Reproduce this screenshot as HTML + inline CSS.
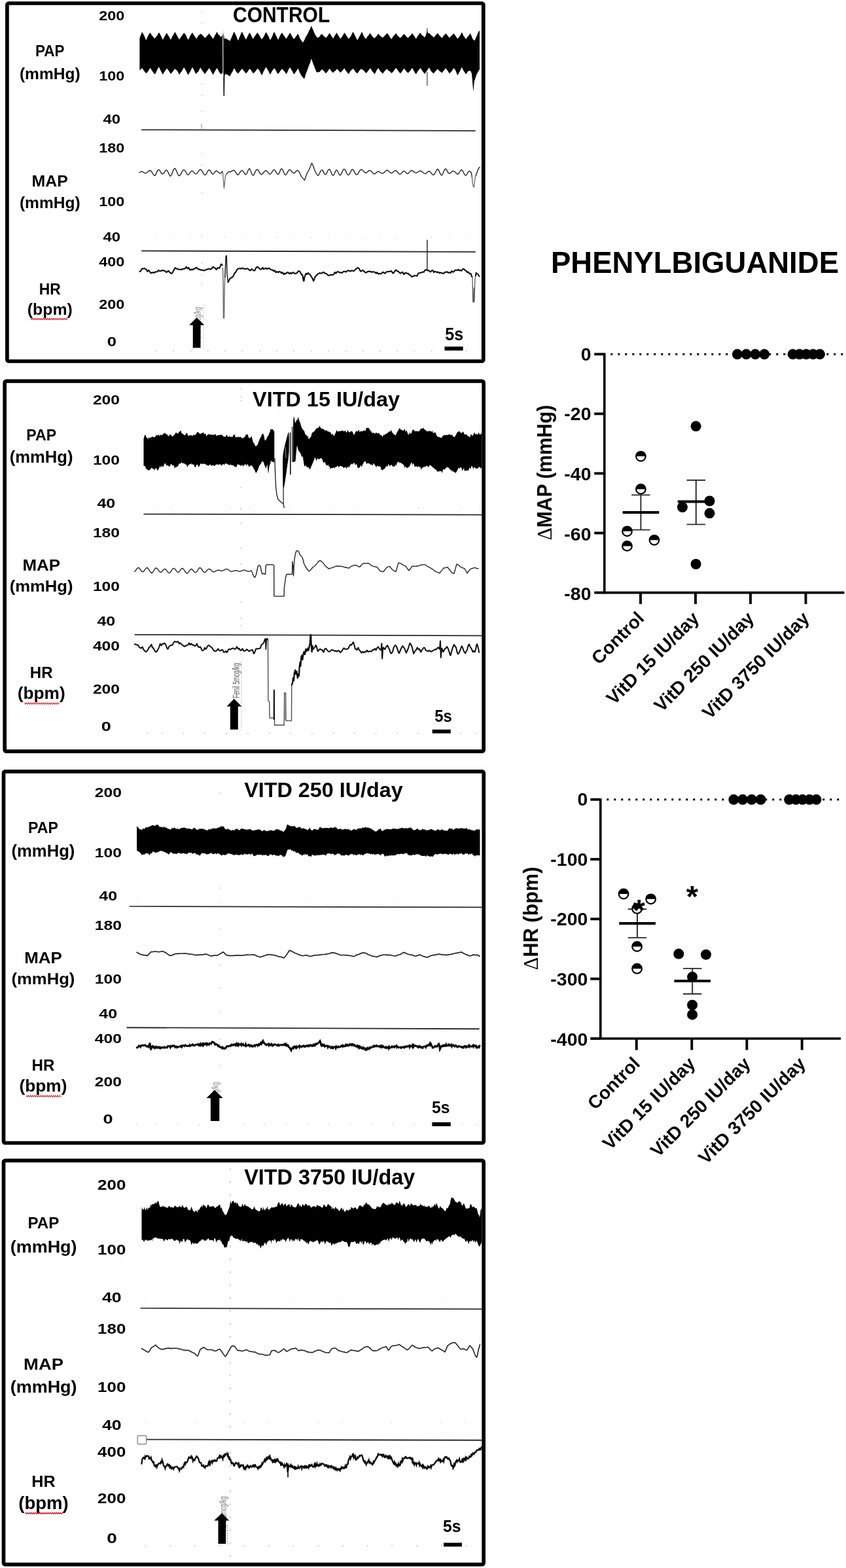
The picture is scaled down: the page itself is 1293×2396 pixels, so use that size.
<!DOCTYPE html>
<html lang="en"><head><meta charset="utf-8"><title>Phenylbiguanide figure</title>
<style>html,body{margin:0;padding:0;background:#fff}svg{display:block}text{font-family:"Liberation Sans",Arial,sans-serif;font-weight:bold}</style></head><body>
<svg width="1293" height="2396" viewBox="0 0 1293 2396">
<rect width="1293" height="2396" fill="#fff"/>
<rect x="10.9" y="5" width="727.9" height="547" rx="2.5" fill="none" stroke="#000" stroke-width="5.7"/>
<text x="151.3" y="30.9" font-size="20.1" textLength="39.1" lengthAdjust="spacingAndGlyphs" fill="#000">200</text>
<text x="151.3" y="122.6" font-size="20.1" textLength="39.1" lengthAdjust="spacingAndGlyphs" fill="#000">100</text>
<text x="157.5" y="189.4" font-size="20.1" textLength="26.7" lengthAdjust="spacingAndGlyphs" fill="#000">40</text>
<text x="151.3" y="233.3" font-size="20.1" textLength="39.1" lengthAdjust="spacingAndGlyphs" fill="#000">180</text>
<text x="151.3" y="315.2" font-size="20.1" textLength="39.1" lengthAdjust="spacingAndGlyphs" fill="#000">100</text>
<text x="157.5" y="368.6" font-size="20.1" textLength="26.7" lengthAdjust="spacingAndGlyphs" fill="#000">40</text>
<text x="151.3" y="407.1" font-size="20.1" textLength="39.1" lengthAdjust="spacingAndGlyphs" fill="#000">400</text>
<text x="151.3" y="472.1" font-size="20.1" textLength="39.1" lengthAdjust="spacingAndGlyphs" fill="#000">200</text>
<text x="163.7" y="529.3" font-size="20.1" textLength="14.3" lengthAdjust="spacingAndGlyphs" fill="#000">0</text>
<text x="53.9" y="86.2" font-size="23.5" textLength="44.5" lengthAdjust="spacingAndGlyphs" fill="#000">PAP</text>
<text x="29.9" y="120.6" font-size="24.1" textLength="92.8" lengthAdjust="spacingAndGlyphs" fill="#000">(mmHg)</text>
<text x="48.4" y="285.1" font-size="23.5" textLength="55.4" lengthAdjust="spacingAndGlyphs" fill="#000">MAP</text>
<text x="29.9" y="317.6" font-size="24.1" textLength="92.8" lengthAdjust="spacingAndGlyphs" fill="#000">(mmHg)</text>
<text x="59.7" y="449.7" font-size="23.2" textLength="33" lengthAdjust="spacingAndGlyphs" fill="#000">HR</text>
<text x="41.8" y="481.1" font-size="24.1" textLength="69" lengthAdjust="spacingAndGlyphs" fill="#000">(bpm)</text>
<text x="356" y="34.3" font-size="32.9" textLength="148.2" lengthAdjust="spacingAndGlyphs" fill="#000">CONTROL</text>
<text x="680.3" y="520.3" font-size="27" textLength="28" lengthAdjust="spacingAndGlyphs" fill="#000">5s</text>
<path d="M47,486.4 48.6,488.6 50.2,486.4 51.8,488.6 53.4,486.4 55,488.6 56.6,486.4 58.2,488.6 59.8,486.4 61.4,488.6 63,486.4 64.6,488.6 66.2,486.4 67.8,488.6 69.4,486.4 71,488.6 72.6,486.4 74.2,488.6 75.8,486.4 77.4,488.6 79,486.4 80.6,488.6 82.2,486.4 83.8,488.6 85.4,486.4 87,488.6 88.6,486.4 90.2,488.6 91.8,486.4 93.4,488.6 95,486.4 96.6,488.6 98.2,486.4 99.8,488.6 101.4,486.4 103,488.6" fill="none" stroke="#e32227" stroke-width="1.15"/>
<rect x="679.5" y="529.6" width="28.2" height="6" fill="#000"/>
<circle cx="308.3" cy="18" r="0.9" fill="#c8c8c8"/>
<circle cx="308.3" cy="35" r="0.9" fill="#c8c8c8"/>
<circle cx="308.3" cy="58" r="0.9" fill="#c8c8c8"/>
<circle cx="308.3" cy="128" r="0.9" fill="#c8c8c8"/>
<circle cx="308.3" cy="146" r="0.9" fill="#c8c8c8"/>
<circle cx="308.3" cy="170" r="0.9" fill="#c8c8c8"/>
<circle cx="308.3" cy="190" r="0.9" fill="#c8c8c8"/>
<circle cx="308.3" cy="235" r="0.9" fill="#c8c8c8"/>
<circle cx="308.3" cy="252" r="0.9" fill="#c8c8c8"/>
<circle cx="308.3" cy="295" r="0.9" fill="#c8c8c8"/>
<circle cx="308.3" cy="361" r="0.9" fill="#c8c8c8"/>
<circle cx="308.3" cy="402" r="0.9" fill="#c8c8c8"/>
<circle cx="308.3" cy="420" r="0.9" fill="#c8c8c8"/>
<circle cx="308.3" cy="433" r="0.9" fill="#c8c8c8"/>
<circle cx="239" cy="536.5" r="0.9" fill="#c4c4c4"/>
<circle cx="265.3" cy="536.5" r="0.9" fill="#c4c4c4"/>
<circle cx="291.6" cy="536.5" r="0.9" fill="#c4c4c4"/>
<circle cx="317.9" cy="536.5" r="0.9" fill="#c4c4c4"/>
<circle cx="344.2" cy="536.5" r="0.9" fill="#c4c4c4"/>
<circle cx="370.5" cy="536.5" r="0.9" fill="#c4c4c4"/>
<circle cx="396.8" cy="536.5" r="0.9" fill="#c4c4c4"/>
<circle cx="423.1" cy="536.5" r="0.9" fill="#c4c4c4"/>
<circle cx="449.4" cy="536.5" r="0.9" fill="#c4c4c4"/>
<circle cx="475.7" cy="536.5" r="0.9" fill="#c4c4c4"/>
<circle cx="502" cy="536.5" r="0.9" fill="#c4c4c4"/>
<circle cx="528.3" cy="536.5" r="0.9" fill="#c4c4c4"/>
<circle cx="554.6" cy="536.5" r="0.9" fill="#c4c4c4"/>
<circle cx="580.9" cy="536.5" r="0.9" fill="#c4c4c4"/>
<circle cx="607.2" cy="536.5" r="0.9" fill="#c4c4c4"/>
<circle cx="633.5" cy="536.5" r="0.9" fill="#c4c4c4"/>
<circle cx="659.8" cy="536.5" r="0.9" fill="#c4c4c4"/>
<circle cx="686.1" cy="536.5" r="0.9" fill="#c4c4c4"/>
<circle cx="712.4" cy="536.5" r="0.9" fill="#c4c4c4"/>
<circle cx="239" cy="362.5" r="0.8" fill="#d4d4d4"/>
<circle cx="265.3" cy="362.5" r="0.8" fill="#d4d4d4"/>
<circle cx="291.6" cy="362.5" r="0.8" fill="#d4d4d4"/>
<circle cx="317.9" cy="362.5" r="0.8" fill="#d4d4d4"/>
<circle cx="344.2" cy="362.5" r="0.8" fill="#d4d4d4"/>
<circle cx="370.5" cy="362.5" r="0.8" fill="#d4d4d4"/>
<circle cx="396.8" cy="362.5" r="0.8" fill="#d4d4d4"/>
<circle cx="423.1" cy="362.5" r="0.8" fill="#d4d4d4"/>
<circle cx="449.4" cy="362.5" r="0.8" fill="#d4d4d4"/>
<circle cx="475.7" cy="362.5" r="0.8" fill="#d4d4d4"/>
<circle cx="502" cy="362.5" r="0.8" fill="#d4d4d4"/>
<circle cx="528.3" cy="362.5" r="0.8" fill="#d4d4d4"/>
<circle cx="554.6" cy="362.5" r="0.8" fill="#d4d4d4"/>
<circle cx="580.9" cy="362.5" r="0.8" fill="#d4d4d4"/>
<circle cx="607.2" cy="362.5" r="0.8" fill="#d4d4d4"/>
<circle cx="633.5" cy="362.5" r="0.8" fill="#d4d4d4"/>
<circle cx="659.8" cy="362.5" r="0.8" fill="#d4d4d4"/>
<circle cx="686.1" cy="362.5" r="0.8" fill="#d4d4d4"/>
<circle cx="712.4" cy="362.5" r="0.8" fill="#d4d4d4"/>
<path d="M213.4,58.6 214,56.9 214.6,55.3 215.2,53.7 215.8,52 216.4,50.5 217,49.1 217.6,49.8 218.2,50.6 218.8,51.6 219.4,52.8 220,53.9 220.6,55.1 221.2,56.4 221.8,57.9 222.4,59.4 223,60.9 223.6,61.1 224.2,59.6 224.8,58.1 225.4,56.6 226,55.2 226.6,54.1 227.2,53.1 227.8,52.2 228.4,51.2 229,50.7 229.6,50.1 230.2,50.6 230.8,52 231.4,52.9 232,53.7 232.6,54.5 233.2,55.2 233.8,56 234.4,56.7 235,57.3 235.6,58 236.2,58.8 236.8,58.6 237.4,57.9 238,57.2 238.6,56.4 239.2,55.6 239.8,54.7 240.4,53.9 241,52.9 241.6,51.8 242.2,50.6 242.8,49.6 243.4,50.3 244,51.3 244.6,52.2 245.2,53.2 245.8,54.2 246.4,55.5 247,56.9 247.6,58.2 248.2,59.6 248.8,60.7 249.4,59.9 250,58.7 250.6,57.6 251.2,56.4 251.8,55.3 252.4,54.2 253,53 253.6,52 254.2,51.1 254.8,50.3 255.4,51.3 256,52.4 256.6,53.3 257.2,54.2 257.8,55.1 258.4,56 259,57.2 259.6,58.4 260.2,59.6 260.8,60.9 261.4,60 262,58.7 262.6,57.4 263.2,56 263.8,55 264.4,54 265,53.1 265.6,52.1 266.2,51.1 266.8,49.9 267.4,48.7 268,49.7 268.6,50.8 269.2,51.9 269.8,52.9 270.4,54 271,55 271.6,56.2 272.2,57.3 272.8,58.4 273.4,59.5 274,60.3 274.6,59.8 275.2,58.6 275.8,57.4 276.4,56.6 277,55.9 277.6,55.1 278.2,54.4 278.8,53.6 279.4,52.7 280,51.8 280.6,50.8 281.2,50.2 281.8,50.8 282.4,51.4 283,52.1 283.6,52.9 284.2,54.1 284.8,55.3 285.4,56.6 286,57.8 286.6,58.9 287.2,60 287.8,60.7 288.4,59.5 289,58.3 289.6,57 290.2,55.7 290.8,54.3 291.4,53.4 292,52.5 292.6,51.8 293.2,51 293.8,50 294.4,50.3 295,51.3 295.6,52.3 296.2,53.2 296.8,54.2 297.4,55.1 298,55.9 298.6,56.8 299.2,57.9 299.8,58.9 300.4,58.9 301,58.1 301.6,57 302.2,56 302.8,55.1 303.4,54.1 304,53.7 304.6,53.2 305.2,52.8 305.8,52.4 306.4,51.5 307,51.9 307.6,52.3 308.2,52.7 308.8,53.2 309.4,53.8 310,54.4 310.6,55 311.2,55.6 311.8,56.3 312.4,57 313,57.7 313.6,57.7 314.2,57.1 314.8,56.5 315.4,55.9 316,55.3 316.6,54.6 317.2,53.9 317.8,53.2 318.4,52.5 319,51.8 319.6,51.2 320.2,51.9 320.8,52.9 321.4,53.6 322,54.4 322.6,55.2 323.2,56 323.8,56.8 324.4,57.6 325,58.5 325.6,59.4 326.2,58.4 326.8,57.4 327.4,56.2 328,55.1 328.6,54 329.2,53 329.8,52 330.4,50.8 331,49.6 331.6,48.7 332.2,49.9 332.8,51 333.4,52.2 334,52.8 334.6,53.4 335.2,53.9 335.8,54.4 336.4,55.1 337,55.9 337.6,56.6 338.2,56.6 338.8,55.3 339.4,54 340,52.7 340.6,51.4 341.2,50.3 341.8,51.9 342.4,55.9 343,60 343.6,59.2 344.2,58.6 344.8,58.4 345.4,59.1 346,59.6 346.6,59.8 347.2,60 347.8,60.3 348.4,60.6 349,61 349.6,61.4 350.2,61.9 350.8,62.4 351.4,62.3 352,61.2 352.6,60.1 353.2,58.9 353.8,57.6 354.4,56.2 355,54.7 355.6,53.2 356.2,51.7 356.8,50.2 357.4,48.7 358,48.9 358.6,50 359.2,51.1 359.8,52.2 360.4,53.4 361,54.7 361.6,56.3 362.2,57.9 362.8,59.5 363.4,61.2 364,61.7 364.6,60.3 365.2,58.8 365.8,57.4 366.4,55.9 367,54.4 367.6,53 368.2,51.5 368.8,50.3 369.4,49.3 370,48.3 370.6,49.9 371.2,51.3 371.8,52.4 372.4,53.6 373,54.7 373.6,55.9 374.2,57.2 374.8,58.5 375.4,59.8 376,60.2 376.6,59.1 377.2,57.9 377.8,56.8 378.4,55.6 379,54.3 379.6,53.1 380.2,52 380.8,50.9 381.4,49.6 382,50.6 382.6,51.6 383.2,52.4 383.8,53.6 384.4,55 385,56.4 385.6,57.6 386.2,58.5 386.8,59.1 387.4,58.6 388,57.4 388.6,56.3 389.2,55.5 389.8,54.7 390.4,53.9 391,53.1 391.6,52.3 392.2,51.4 392.8,50.6 393.4,49.7 394,50.5 394.6,51.4 395.2,52.2 395.8,53.1 396.4,54.1 397,55.2 397.6,56.3 398.2,57.4 398.8,58.3 399.4,59.2 400,60.1 400.6,59.5 401.2,58.6 401.8,57.8 402.4,56.9 403,56.1 403.6,55.1 404.2,53.8 404.8,52.5 405.4,51.2 406,49.9 406.6,48.9 407.2,49.9 407.8,51 408.4,52.1 409,53.1 409.6,54.2 410.2,55.2 410.8,56.3 411.4,57.7 412,59.2 412.6,60.6 413.2,61 413.8,60 414.4,58.8 415,57.7 415.6,56.5 416.2,55.2 416.8,53.7 417.4,52.2 418,50.7 418.6,49.3 419.2,48.7 419.8,49.9 420.4,51.2 421,52.5 421.6,53.7 422.2,54.9 422.8,56.1 423.4,57.3 424,58.6 424.6,59.9 425.2,60.7 425.8,59.6 426.4,58.2 427,56.7 427.6,55.3 428.2,54 428.8,52.9 429.4,52 430,51.1 430.6,50.4 431.2,50.1 431.8,51.2 432.4,52.3 433,53.3 433.6,54.1 434.2,54.8 434.8,55.6 435.4,56.3 436,57.2 436.6,58.4 437.2,59.1 437.8,58.5 438.4,57.9 439,57 439.6,56.1 440.2,55.1 440.8,54.1 441.4,53 442,51.9 442.6,50.7 443.2,50 443.8,51 444.4,52 445,53.1 445.6,54.2 446.2,55.3 446.8,56.2 447.4,57.1 448,58 448.6,58.9 449.2,59.7 449.8,59.1 450.4,58.2 451,57.4 451.6,56.7 452.2,55.9 452.8,55.2 453.4,54.6 454,53.6 454.6,52.6 455.2,52 455.8,52 456.4,53.5 457,55 457.6,56.5 458.2,58 458.8,59.1 459.4,60.1 460,61 460.6,61.9 461.2,62.8 461.8,63.8 462.4,64.2 463,64.6 463.6,64.3 464.2,63.1 464.8,61.9 465.4,60.7 466,59.5 466.6,58.1 467.2,56.8 467.8,55.6 468.4,54.8 469,53.7 469.6,52.6 470.2,51.5 470.8,50.4 471.4,49.1 472,47.7 472.6,46.5 473.2,45.4 473.8,44.5 474.4,43 475,41.4 475.6,39.9 476.2,40.3 476.8,41.7 477.4,43.1 478,44.5 478.6,46 479.2,47.6 479.8,48.6 480.4,50.1 481,51.7 481.6,52.7 482.2,53.6 482.8,54.6 483.4,55.5 484,56.8 484.6,57 485.2,57.2 485.8,57.5 486.4,57.4 487,56.9 487.6,56.4 488.2,55.9 488.8,55.2 489.4,54.4 490,53.5 490.6,52.8 491.2,52.3 491.8,52 492.4,52.2 493,53 493.6,53.8 494.2,54.4 494.8,55 495.4,55.6 496,56.2 496.6,56.8 497.2,57.3 497.8,57.8 498.4,57.4 499,56.8 499.6,56.2 500.2,55.6 500.8,55 501.4,54.1 502,53 502.6,52 503.2,50.9 503.8,50.3 504.4,51.4 505,52.5 505.6,53.6 506.2,54.6 506.8,55.4 507.4,56.2 508,57.1 508.6,58 509.2,59 509.8,58 510.4,56.9 511,55.8 511.6,54.8 512.2,53.8 512.8,52.8 513.4,51.8 514,50.9 514.6,50.1 515.2,50.7 515.8,51.9 516.4,53 517,54 517.6,55.1 518.2,56.1 518.8,57 519.4,57.9 520,58.7 520.6,59.2 521.2,58.2 521.8,57.3 522.4,56.5 523,55.7 523.6,54.8 524.2,53.7 524.8,52.7 525.4,51.6 526,50.6 526.6,50.1 527.2,50.9 527.8,51.7 528.4,52.5 529,53.5 529.6,54.5 530.2,55.4 530.8,56.4 531.4,57.3 532,58.2 532.6,59.1 533.2,58.9 533.8,58.2 534.4,57.6 535,56.9 535.6,56.3 536.2,55.3 536.8,54 537.4,52.7 538,51.4 538.6,50.2 539.2,49.1 539.8,49.2 540.4,50.1 541,51.1 541.6,52.3 542.2,53.5 542.8,54.8 543.4,56.1 544,57.3 544.6,58.5 545.2,59.7 545.8,61 546.4,61.2 547,60.1 547.6,59 548.2,57.9 548.8,56.8 549.4,55.7 550,54.5 550.6,53.4 551.2,52.2 551.8,50.8 552.4,49.5 553,48.8 553.6,49.8 554.2,51.2 554.8,52.6 555.4,54 556,55.2 556.6,56.2 557.2,57 557.8,57.9 558.4,58.7 559,59.3 559.6,59.2 560.2,58 560.8,56.8 561.4,56 562,55.3 562.6,54.7 563.2,54.1 563.8,53.3 564.4,52.4 565,51.6 565.6,50.8 566.2,51.1 566.8,52.1 567.4,53.1 568,54.1 568.6,55 569.2,55.6 569.8,56.2 570.4,56.8 571,57.4 571.6,58 572.2,58.5 572.8,57.9 573.4,57.3 574,56.7 574.6,56.1 575.2,55.4 575.8,54.8 576.4,54.1 577,53.3 577.6,52.5 578.2,51.6 578.8,52 579.4,52.8 580,53.6 580.6,54.4 581.2,55 581.8,55.4 582.4,55.8 583,56.2 583.6,56.6 584.2,57.2 584.8,57.7 585.4,57 586,56.4 586.6,55.9 587.2,55.4 587.8,54.8 588.4,54.3 589,53.7 589.6,53 590.2,52.3 590.8,51.6 591.4,50.8 592,51.2 592.6,51.8 593.2,52.4 593.8,53.2 594.4,54.1 595,55 595.6,56 596.2,56.9 596.8,57.8 597.4,58.7 598,59.6 598.6,59.6 599.2,58.5 599.8,57.5 600.4,56.4 601,55.5 601.6,54.8 602.2,54.2 602.8,53.6 603.4,53 604,52.2 604.6,51.4 605.2,50.9 605.8,51.5 606.4,52.4 607,53.3 607.6,54.2 608.2,55 608.8,55.6 609.4,56.1 610,56.5 610.6,56.9 611.2,57.6 611.8,58 612.4,57.5 613,57.1 613.6,56.5 614.2,55.7 614.8,54.9 615.4,54.1 616,53.4 616.6,52.8 617.2,52.2 617.8,52 618.4,52.7 619,53.4 619.6,54.1 620.2,54.8 620.8,55.5 621.4,56.1 622,56.7 622.6,57.3 623.2,58 623.8,58 624.4,57.2 625,56.4 625.6,55.6 626.2,55 626.8,54.5 627.4,54.1 628,53.6 628.6,52.9 629.2,51.6 629.8,51.1 630.4,51.5 631,51.9 631.6,52.8 632.2,53.8 632.8,54.7 633.4,55.6 634,56.6 634.6,57.5 635.2,58.4 635.8,59.4 636.4,58.4 637,57.4 637.6,56.3 638.2,55.3 638.8,54.4 639.4,53.7 640,52.9 640.6,52 641.2,51.2 641.8,50.5 642.4,50 643,51 643.6,51.9 644.2,52.6 644.8,53.3 645.4,53.9 646,54.5 646.6,55 647.2,55.5 647.8,56 648.4,56.5 649,57.1 649.6,56.7 650.2,55.6 650.8,53.8 651.4,51.9 652,50 652.6,48.1 653.2,47.8 653.8,49.1 654.4,50.3 655,51.5 655.6,50.8 656.2,50.6 656.8,51.4 657.4,52.1 658,52.8 658.6,53.5 659.2,53.9 659.8,54.4 660.4,54.8 661,55.3 661.6,56 662.2,56.8 662.8,57.2 663.4,56.8 664,56.1 664.6,55.4 665.2,54.7 665.8,54 666.4,53.3 667,52.6 667.6,51.9 668.2,51.2 668.8,50.7 669.4,51.2 670,52.1 670.6,53 671.2,53.8 671.8,54.4 672.4,55 673,55.6 673.6,56.2 674.2,56.9 674.8,57.7 675.4,57.9 676,57.2 676.6,56.4 677.2,55.7 677.8,54.9 678.4,54.1 679,53.5 679.6,52.8 680.2,52.2 680.8,51.6 681.4,51.3 682,51.9 682.6,52.5 683.2,53.1 683.8,53.8 684.4,54.7 685,55.5 685.6,56.3 686.2,57 686.8,57.6 687.4,57.7 688,56.8 688.6,56 689.2,55.4 689.8,54.8 690.4,54.3 691,53.7 691.6,53 692.2,52.2 692.8,51.5 693.4,50.9 694,51.7 694.6,52.5 695.2,53.2 695.8,54 696.4,54.9 697,55.9 697.6,56.8 698.2,57.7 698.8,58.6 699.4,59.4 700,58.8 700.6,57.8 701.2,56.9 701.8,56.2 702.4,55.4 703,54.7 703.6,53.7 704.2,52.4 704.8,51.2 705.4,49.8 706,49.4 706.6,50.7 707.2,52 707.8,53.3 708.4,54.6 709,55.4 709.6,56.1 710.2,56.9 710.8,57.8 711.4,58.7 712,59.7 712.6,59.3 713.2,58.2 713.8,57.3 714.4,56.5 715,55.7 715.6,55.2 716.2,54.6 716.8,53.8 717.4,52.9 718,52 718.6,51.2 719.2,51.3 719.8,52.8 720.4,54.3 721,55.8 721.6,57.5 722.2,58.9 722.8,59.8 723.4,60.7 724,61.1 724.6,61.4 725.2,61.7 725.8,61.5 726.4,60 727,58.6 727.6,57.3 728.2,56 728.8,54.5 729.4,52.9 730,51.4 730.6,50.2 731.2,49 731.8,47.8 732.4,47.1 733,47.6 733,106.9 732.4,106.6 731.8,107.5 731.2,108.9 730.6,110.1 730,111.1 729.4,112.1 728.8,113.2 728.2,114.2 727.6,116 727,118.1 726.4,120.2 725.8,122.3 725.2,122.9 724.6,127.2 724,133.7 723.4,140.1 722.8,133.2 722.2,126.3 721.6,119.4 721,112.5 720.4,111.2 719.8,109.8 719.2,108.4 718.6,108.1 718,108.3 717.4,108.4 716.8,108.4 716.2,108.5 715.6,108.7 715,109 714.4,109.9 713.8,110.9 713.2,111.9 712.6,112.9 712,113.3 711.4,112.4 710.8,111.5 710.2,110.6 709.6,109.8 709,109 708.4,108.1 707.8,106.8 707.2,105.5 706.6,104.2 706,102.8 705.4,103.2 704.8,104.6 704.2,106 703.6,107.5 703,108.7 702.4,109.7 701.8,110.7 701.2,111.8 700.6,113 700,114.3 699.4,115 698.8,113.9 698.2,112.7 697.6,111.2 697,109.6 696.4,108.1 695.8,106.7 695.2,106 694.6,105.3 694,104.7 693.4,104.1 692.8,105 692.2,106.1 691.6,107.1 691,108.1 690.4,108.8 689.8,109.5 689.2,110.1 688.6,110.6 688,111.4 687.4,112.2 686.8,111.9 686.2,111.2 685.6,110.5 685,109.5 684.4,108.6 683.8,107.7 683.2,106.8 682.6,106 682,105.2 681.4,104.4 680.8,104.5 680.2,105.3 679.6,106.1 679,106.9 678.4,107.7 677.8,108.4 677.2,109.1 676.6,109.7 676,110.4 675.4,111.2 674.8,111.2 674.2,110.6 673.6,110.1 673,109.6 672.4,109.1 671.8,108.7 671.2,108.2 670.6,107.6 670,106.7 669.4,105.9 668.8,105.6 668.2,106.1 667.6,106.8 667,107.4 666.4,108 665.8,108.7 665.2,109.3 664.6,110 664,110.7 663.4,111.4 662.8,112.3 662.2,112.1 661.6,111.5 661,110.9 660.4,110.3 659.8,109.7 659.2,109.1 658.6,108.4 658,107.4 657.4,106.2 656.8,104.9 656.2,103.6 655.6,103.6 655,104.5 654.4,105.4 653.8,106.3 653.2,107.2 652.6,108.1 652,109 651.4,109.8 650.8,110.7 650.2,111.6 649.6,112.5 649,112.9 648.4,112.1 647.8,111.3 647.2,110.5 646.6,109.8 646,109 645.4,108.1 644.8,107.2 644.2,106.3 643.6,105.4 643,104.7 642.4,104.1 641.8,104.7 641.2,105.5 640.6,106.3 640,107 639.4,107.7 638.8,108.4 638.2,109.3 637.6,110.3 637,111.4 636.4,112.4 635.8,113.4 635.2,112.6 634.6,111.8 634,110.9 633.4,110 632.8,108.8 632.2,107.7 631.6,106.5 631,105.3 630.4,104.6 629.8,104.1 629.2,104.7 628.6,106 628,106.9 627.4,107.6 626.8,108.3 626.2,108.9 625.6,109.6 625,110.2 624.4,110.8 623.8,111.4 623.2,111.3 622.6,110.6 622,110 621.4,109.4 620.8,108.7 620.2,108 619.6,107.2 619,106.4 618.4,105.5 617.8,104.8 617.2,105.3 616.6,106.1 616,107 615.4,107.8 614.8,108.7 614.2,109.5 613.6,110.4 613,111 612.4,111.6 611.8,112.2 611.2,111.7 610.6,110.8 610,110.1 609.4,109.4 608.8,108.6 608.2,107.8 607.6,107 607,106.2 606.4,105.4 605.8,104.6 605.2,104 604.6,104.5 604,105.2 603.4,105.9 602.8,106.8 602.2,107.7 601.6,108.6 601,109.4 600.4,110.1 599.8,110.6 599.2,111.2 598.6,111.7 598,111.5 597.4,110.9 596.8,110.2 596.2,109.6 595.6,109.1 595,108.7 594.4,108.4 593.8,108.1 593.2,107.6 592.6,106.8 592,106 591.4,105.3 590.8,105.7 590.2,106.3 589.6,106.9 589,107.5 588.4,108.1 587.8,108.9 587.2,109.6 586.6,110.4 586,111.3 585.4,111.9 584.8,112.5 584.2,111.9 583.6,111.1 583,110.5 582.4,110 581.8,109.4 581.2,108.8 580.6,108 580,107 579.4,105.9 578.8,104.8 578.2,104 577.6,104.7 577,105.5 576.4,106.3 575.8,107.1 575.2,108.4 574.6,109.7 574,110.9 573.4,112.1 572.8,112.7 572.2,113.3 571.6,112.4 571,111.3 570.4,110.6 569.8,109.9 569.2,109.2 568.6,108.5 568,107.6 567.4,106.6 566.8,105.6 566.2,104.6 565.6,104.4 565,105.2 564.4,105.9 563.8,106.7 563.2,107.5 562.6,108.3 562,109.1 561.4,109.9 560.8,110.6 560.2,111.2 559.6,111.8 559,111.5 558.4,110.6 557.8,110 557.2,109.3 556.6,108.6 556,108 555.4,107.5 554.8,107.1 554.2,106.6 553.6,106.2 553,105.4 552.4,105.3 551.8,105.7 551.2,106.1 550.6,106.6 550,107.3 549.4,108 548.8,108.6 548.2,109.4 547.6,110.3 547,111.2 546.4,112.1 545.8,112.1 545.2,111.6 544.6,111 544,110.5 543.4,109.9 542.8,109.1 542.2,108.2 541.6,107.3 541,106.3 540.4,105.7 539.8,105 539.2,105 538.6,105.9 538,106.5 537.4,106.9 536.8,107.3 536.2,107.8 535.6,108.5 535,109.5 534.4,110.5 533.8,111.6 533.2,112.7 532.6,113.2 532,112.4 531.4,111.6 530.8,110.8 530.2,110 529.6,109.2 529,108.5 528.4,107.8 527.8,106.7 527.2,105.6 526.6,104.5 526,104.5 525.4,105.3 524.8,106.1 524.2,106.8 523.6,107.5 523,108.2 522.4,108.9 521.8,109.6 521.2,110.3 520.6,111 520,110.7 519.4,110 518.8,109.4 518.2,108.7 517.6,108 517,107.2 516.4,106.5 515.8,105.8 515.2,105.4 514.6,105.5 514,106.6 513.4,107.7 512.8,108 512.2,108.3 511.6,108.7 511,109 510.4,109.8 509.8,110.6 509.2,111.4 508.6,110.7 508,110.2 507.4,109.6 506.8,109.1 506.2,108.6 505.6,107.8 505,106.8 504.4,105.8 503.8,104.8 503.2,105.3 502.6,106.2 502,107.2 501.4,108.1 500.8,109 500.2,109.7 499.6,110.4 499,111.1 498.4,111.8 497.8,112 497.2,111.3 496.6,110.5 496,109.8 495.4,109.1 494.8,108.4 494.2,107.7 493.6,107.1 493,106.5 492.4,106 491.8,106.2 491.2,107 490.6,107.7 490,108.3 489.4,108.9 488.8,109.5 488.2,109.9 487.6,110.1 487,110.3 486.4,110.4 485.8,110.2 485.2,110.3 484.6,110.4 484,110.5 483.4,109.4 482.8,108 482.2,106.5 481.6,105 481,103.5 480.4,101.8 479.8,100.2 479.2,99.2 478.6,97.5 478,95.7 477.4,94 476.8,92.2 476.2,90.5 475.6,90.1 475,92.3 474.4,94.4 473.8,96.6 473.2,98 472.6,99.3 472,100.7 471.4,102.3 470.8,104 470.2,105.7 469.6,107.4 469,109.1 468.4,110.4 467.8,111.8 467.2,113.8 466.6,115.9 466,117.9 465.4,119.7 464.8,120.6 464.2,119.8 463.6,118.9 463,118.3 462.4,117.7 461.8,117.2 461.2,116.2 460.6,115.3 460,114.4 459.4,113.4 458.8,112.3 458.2,111.1 457.6,109.8 457,108.3 456.4,106.7 455.8,105.1 455.2,105 454.6,105.8 454,106.9 453.4,107.9 452.8,108.8 452.2,109.6 451.6,110.5 451,111.4 450.4,112.2 449.8,113 449.2,113.5 448.6,112.2 448,111.2 447.4,110.1 446.8,109.1 446.2,108 445.6,106.9 445,106 444.4,104.9 443.8,104 443.2,103.1 442.6,103.6 442,104.7 441.4,105.6 440.8,106.7 440.2,108.1 439.6,109.4 439,110.7 438.4,111.9 437.8,112.5 437.2,112.9 436.6,112.1 436,110.8 435.4,110 434.8,109.2 434.2,108.6 433.6,107.9 433,107.3 432.4,106.6 431.8,105.9 431.2,105.2 430.6,105.7 430,106.5 429.4,107.3 428.8,108.1 428.2,108.9 427.6,109.7 427,110.4 426.4,111.2 425.8,112 425.2,112.9 424.6,112.5 424,111.8 423.4,111 422.8,109.9 422.2,108.7 421.6,107.6 421,106.4 420.4,105.6 419.8,105 419.2,104.3 418.6,105 418,105.8 417.4,106.5 416.8,107.3 416.2,108 415.6,109 415,110.1 414.4,111.3 413.8,112.5 413.2,113.6 412.6,113.4 412,112.1 411.4,110.9 410.8,109.6 410.2,108.6 409.6,107.6 409,106.6 408.4,105.5 407.8,104.4 407.2,103.3 406.6,102.3 406,103.4 405.4,104.4 404.8,105.4 404.2,106.4 403.6,107.5 403,108.8 402.4,110.2 401.8,111.6 401.2,113 400.6,114.3 400,115 399.4,113.9 398.8,112.8 398.2,111.6 397.6,110.3 397,109 396.4,107.8 395.8,106.7 395.2,106.1 394.6,105.7 394,105.2 393.4,104.8 392.8,105.7 392.2,106.6 391.6,107.4 391,108.2 390.4,109 389.8,109.6 389.2,110.3 388.6,111 388,111.6 387.4,112.2 386.8,112.1 386.2,111.2 385.6,110.3 385,109.4 384.4,108.4 383.8,107.5 383.2,106.6 382.6,106.1 382,105.5 381.4,104.9 380.8,105.9 380.2,106.8 379.6,107.8 379,108.7 378.4,109.7 377.8,110.3 377.2,111 376.6,111.6 376,112.2 375.4,111.8 374.8,111 374.2,110.2 373.6,109.4 373,108.6 372.4,107.9 371.8,107.2 371.2,106.4 370.6,105.7 370,105 369.4,105.7 368.8,106.5 368.2,107.3 367.6,108 367,108.6 366.4,109.3 365.8,110 365.2,110.8 364.6,111.6 364,112.4 363.4,112.1 362.8,111.5 362.2,110.9 361.6,110.3 361,109.6 360.4,108.6 359.8,107.4 359.2,106.3 358.6,105.1 358,104.5 357.4,104.9 356.8,106.3 356.2,107.8 355.6,109 355,110 354.4,111 353.8,112 353.2,113 352.6,114.2 352,115.3 351.4,116.5 350.8,116.7 350.2,116 349.6,115.5 349,114.9 348.4,114.4 347.8,114.2 347.2,114 346.6,113.8 346,113.6 345.4,113.3 344.8,112.9 344.2,113.6 343.6,114.9 343,115.9 342.4,114.8 341.8,113.7 341.2,112.6 340.6,111.7 340,110.9 339.4,111.7 338.8,112.4 338.2,113.3 337.6,113.3 337,112.7 336.4,112 335.8,111.4 335.2,110.3 334.6,109.3 334,108.2 333.4,107.1 332.8,106.1 332.2,105 331.6,104 331,104.8 330.4,105.7 329.8,106.7 329.2,107.8 328.6,108.9 328,110 327.4,111 326.8,112.1 326.2,113.2 325.6,114.3 325,113.2 324.4,112.1 323.8,111 323.2,109.9 322.6,108.9 322,107.8 321.4,106.8 320.8,105.8 320.2,104.7 319.6,103.9 319,105 318.4,106 317.8,106.7 317.2,107.5 316.6,108.2 316,108.9 315.4,109.9 314.8,110.8 314.2,111.8 313.6,112.7 313,113 312.4,112.1 311.8,111.3 311.2,110.4 310.6,109.6 310,108.9 309.4,108.1 308.8,107.3 308.2,106.4 307.6,105.3 307,104.3 306.4,103.3 305.8,104.1 305.2,105.3 304.6,106.6 304,107.8 303.4,109.1 302.8,109.6 302.2,110.1 301.6,110.6 301,111.2 300.4,112.3 299.8,112.9 299.2,112.2 298.6,111.6 298,110.5 297.4,109.3 296.8,108 296.2,106.6 295.6,105.5 295,104.4 294.4,103.4 293.8,103 293.2,104.1 292.6,105.4 292,106.7 291.4,108 290.8,109.2 290.2,110.3 289.6,111.3 289,112.3 288.4,113.2 287.8,114.3 287.2,113.7 286.6,112.8 286,111.8 285.4,110.6 284.8,109.4 284.2,108.1 283.6,106.9 283,105.9 282.4,105 281.8,104.1 281.2,103.2 280.6,103.7 280,104.9 279.4,106.1 278.8,107.2 278.2,108.3 277.6,109.2 277,110 276.4,110.8 275.8,111.6 275.2,112.6 274.6,113.6 274,113.9 273.4,113.1 272.8,111.8 272.2,110.6 271.6,109.4 271,108.2 270.4,107.6 269.8,107.2 269.2,106.7 268.6,106.4 268,105.7 267.4,105 266.8,105.8 266.2,106.6 265.6,107.4 265,108.2 264.4,109 263.8,109.8 263.2,110.5 262.6,111.1 262,111.7 261.4,112.4 260.8,112.7 260.2,111.7 259.6,110.7 259,109.8 258.4,108.8 257.8,108 257.2,107.3 256.6,106.5 256,105.7 255.4,105 254.8,104.4 254.2,105.5 253.6,106.6 253,107.5 252.4,108.2 251.8,109 251.2,109.8 250.6,110.8 250,111.9 249.4,113.1 248.8,113.9 248.2,112.9 247.6,111.8 247,110.7 246.4,109.6 245.8,108.4 245.2,107.1 244.6,105.9 244,104.6 243.4,103.4 242.8,102.2 242.2,103 241.6,104.1 241,105.2 240.4,106.5 239.8,107.8 239.2,109.1 238.6,110.5 238,111.5 237.4,112.4 236.8,113.3 236.2,113.6 235.6,112.5 235,111.7 234.4,110.9 233.8,110.2 233.2,109.3 232.6,108.3 232,107.4 231.4,106.4 230.8,105.5 230.2,104.3 229.6,104 229,104.7 228.4,105.3 227.8,106.4 227.2,107.5 226.6,108.6 226,109.6 225.4,110.3 224.8,110.8 224.2,111.3 223.6,111.9 223,111.8 222.4,111.1 221.8,110.4 221.2,109.7 220.6,108.9 220,108 219.4,107.2 218.8,106.3 218.2,105.5 217.6,104.7 217,103.9 216.4,104.7 215.8,105.4 215.2,106 214.6,106.5 214,107.1 213.4,107.6Z" fill="#000"/>
<path d="M341.2,100 L341.6,146.5 L343,146.5 L343.6,100Z" fill="#000"/>
<line x1="340.7" y1="46" x2="340.9" y2="118" stroke="#e4e4e4" stroke-width="1.2"/>
<path d="M652.9,43 V52 M652.9,110 V131" stroke="#333" stroke-width="1.1" fill="none"/>
<line x1="216.2" y1="198.3" x2="726.7" y2="199.8" stroke="#2a2a2a" stroke-width="1.7"/>
<path d="M307.5,190 L308.5,198" stroke="#999" stroke-width="1" fill="none"/>
<path d="M213.4,263.7 214.4,262.9 215.4,262.2 216.4,261.9 217.4,262.1 218.4,262.7 219.4,263.5 220.4,264.1 221.4,264.6 222.4,264.7 223.4,264.4 224.4,263.7 225.4,262.6 226.4,262 227.4,261.3 228.4,260.7 229.4,260.5 230.4,260.8 231.4,261.8 232.4,263.3 233.4,265 234.4,266.7 235.4,267.9 236.4,268.3 237.4,267.8 238.4,265.9 239.4,263.6 240.4,261.4 241.4,259.9 242.4,259.2 243.4,259.6 244.4,260.8 245.4,262.6 246.4,264.3 247.4,265.5 248.4,265.9 249.4,265.3 250.4,264.5 251.4,263.1 252.4,261.4 253.4,260.2 254.4,259.8 255.4,260.7 256.4,262.1 257.4,264.3 258.4,266.6 259.4,268.3 260.4,269.1 261.4,268.5 262.4,266.5 263.4,263.9 264.4,261.2 265.4,258.9 266.4,257.6 267.4,257.3 268.4,258.6 269.4,260.6 270.4,263.1 271.4,265.5 272.4,267.4 273.4,268.5 274.4,268.5 275.4,267.6 276.4,265.9 277.4,263.9 278.4,262 279.4,260.6 280.4,259.6 281.4,259.5 282.4,260.4 283.4,261.9 284.4,263.7 285.4,265.3 286.4,266.8 287.4,267.2 288.4,266.7 289.4,265.6 290.4,264.1 291.4,262.8 292.4,261.6 293.4,261.1 294.4,261.5 295.4,262.4 296.4,263.6 297.4,264.6 298.4,265.4 299.4,265.7 300.4,265.4 301.4,264.5 302.4,263.1 303.4,261.5 304.4,260.2 305.4,259.3 306.4,259.1 307.4,259.6 308.4,260.7 309.4,262.3 310.4,264.3 311.4,266 312.4,267.1 313.4,267.4 314.4,266.9 315.4,265.8 316.4,263.7 317.4,261.7 318.4,260.2 319.4,259.6 320.4,259.8 321.4,260.9 322.4,262.9 323.4,264.7 324.4,265.9 325.4,266.1 326.4,265.4 327.4,264.2 328.4,262.8 329.4,261.7 330.4,261.1 331.4,261.2 332.4,261.9 333.4,262.8 334.4,263.6 335.4,264.5 336.4,265.1 337.4,264.9 338.4,263.7 339.4,262 340.4,263.3" fill="none" stroke="#262626" stroke-width="1.4" stroke-linejoin="round" stroke-linecap="round"/>
<path d="M340.4,263.3 341.4,275 342.4,287.4 343.4,279.7 344.4,268.9 345.4,267 346.4,265.8" fill="none" stroke="#6a6a6a" stroke-width="1.3" stroke-linejoin="round" stroke-linecap="round"/>
<path d="M346.4,265.8 347.4,264.7 348.4,263.8 349.4,262.6 350.4,262.1 351.4,262.7 352.4,262.7 353.4,262.1 354.4,261.4 355.4,260.7 356.4,260.3 357.4,260.1 358.4,260.8 359.4,262 360.4,263.7 361.4,265.3 362.4,266.5 363.4,267 364.4,266.5 365.4,265.4 366.4,264 367.4,262.4 368.4,261.3 369.4,260.7 370.4,260.7 371.4,261.6 372.4,263 373.4,264.7 374.4,266.1 375.4,266.8 376.4,266.2 377.4,264.6 378.4,262.2 379.4,259.8 380.4,258.1 381.4,257.7 382.4,259.4 383.4,262 384.4,264.7 385.4,266.8 386.4,267.9 387.4,267.8 388.4,266.2 389.4,264.1 390.4,262 391.4,260.2 392.4,259.2 393.4,258.9 394.4,259.9 395.4,261.4 396.4,263.1 397.4,264.8 398.4,266 399.4,266.7 400.4,266.4 401.4,265.5 402.4,264.3 403.4,262.9 404.4,261.8 405.4,261 406.4,260.8 407.4,261.2 408.4,262.1 409.4,263.3 410.4,264.6 411.4,265.7 412.4,266.1 413.4,265.8 414.4,264.8 415.4,263.3 416.4,261.7 417.4,260.3 418.4,259.5 419.4,259.5 420.4,260.4 421.4,261.9 422.4,263.8 423.4,265.4 424.4,266.4 425.4,266.3 426.4,265 427.4,262.9 428.4,260.5 429.4,258.4 430.4,257.8 431.4,258.5 432.4,260.2 433.4,262.6 434.4,265 435.4,266.8 436.4,267.3 437.4,266.6 438.4,265.2 439.4,263.3 440.4,261.4 441.4,260 442.4,259.4 443.4,259.5 444.4,260.3 445.4,261.5 446.4,262.8 447.4,263.8 448.4,264.5 449.4,264.5 450.4,264 451.4,263 452.4,261.8 453.4,260.8 454.4,260.4 455.4,260.7 456.4,261.7 457.4,262.9 458.4,264.8 459.4,267.4 460.4,269.1 461.4,270.6 462.4,271.8 463.4,273.1 464.4,274.2 465.4,275.3 466.4,272.7 467.4,269.8 468.4,267.1 469.4,264.7 470.4,262.7 471.4,261 472.4,259.1 473.4,257.1 474.4,254.8 475.4,252.1 476.4,249.3 477.4,250.7 478.4,253 479.4,255.6 480.4,258.6 481.4,261.2 482.4,263.2 483.4,265.2 484.4,266.6 485.4,267.8 486.4,268 487.4,266.8 488.4,265 489.4,262.8 490.4,261.1 491.4,259.9 492.4,259.8 493.4,260.9 494.4,262.8 495.4,265 496.4,266.3 497.4,266.7 498.4,266 499.4,264.4 500.4,262.2 501.4,260.1 502.4,259 503.4,258.7 504.4,259.6 505.4,261.5 506.4,264 507.4,266.5 508.4,267.9 509.4,268.1 510.4,266.9 511.4,264.8 512.4,262.4 513.4,260.6 514.4,259.8 515.4,260.5 516.4,262.2 517.4,264.5 518.4,266.5 519.4,267.7 520.4,267.6 521.4,266.2 522.4,264.1 523.4,261.8 524.4,259.8 525.4,258.5 526.4,258.6 527.4,259.6 528.4,261.4 529.4,263.5 530.4,265.5 531.4,267.1 532.4,267.4 533.4,266.8 534.4,265.4 535.4,263.5 536.4,261.4 537.4,259.5 538.4,258.8 539.4,259.1 540.4,260.3 541.4,262.1 542.4,264.2 543.4,266.1 544.4,266.9 545.4,266.9 546.4,266.2 547.4,264.9 548.4,263.1 549.4,261.3 550.4,260.1 551.4,259.3 552.4,259.1 553.4,259.5 554.4,260.3 555.4,261.4 556.4,262.5 557.4,263.5 558.4,264 559.4,264 560.4,263.5 561.4,262.8 562.4,261.9 563.4,261.1 564.4,260.6 565.4,260.5 566.4,260.9 567.4,261.7 568.4,262.8 569.4,264 570.4,265 571.4,265.6 572.4,265.8 573.4,265.5 574.4,264.6 575.4,263.6 576.4,262.7 577.4,262.2 578.4,262.1 579.4,262.3 580.4,263 581.4,263.7 582.4,264.4 583.4,264.8 584.4,264.9 585.4,264.7 586.4,264.1 587.4,263.2 588.4,262.2 589.4,261.3 590.4,260.6 591.4,260.1 592.4,260.4 593.4,261.1 594.4,262 595.4,263 596.4,263.8 597.4,264.4 598.4,264.5 599.4,264.2 600.4,263.5 601.4,262.5 602.4,261.6 603.4,260.9 604.4,260.6 605.4,260.8 606.4,261.5 607.4,262.7 608.4,264 609.4,265.2 610.4,266 611.4,266.2 612.4,265.8 613.4,264.9 614.4,263.7 615.4,262.6 616.4,261.7 617.4,261.4 618.4,261.8 619.4,262.7 620.4,263.8 621.4,264.8 622.4,265.4 623.4,265.3 624.4,264.6 625.4,263.6 626.4,262.4 627.4,261.3 628.4,260.6 629.4,260.5 630.4,260.9 631.4,261.6 632.4,262.4 633.4,263.2 634.4,263.9 635.4,264.1 636.4,264 637.4,263.6 638.4,263 639.4,262.4 640.4,261.8 641.4,261.3 642.4,261.2 643.4,261.4 644.4,261.9 645.4,262.5 646.4,263.5 647.4,264.5 648.4,265.1 649.4,265.4 650.4,265.3 651.4,264.8 652.4,263.8 653.4,262.8 654.4,262 655.4,261.6 656.4,261.8 657.4,262.6 658.4,263.7 659.4,265 660.4,266.2 661.4,267.1 662.4,267.3 663.4,266.9 664.4,265.5 665.4,263.5 666.4,261.5 667.4,259.8 668.4,258.7 669.4,258.5 670.4,260 671.4,262.1 672.4,264.4 673.4,266.4 674.4,267.6 675.4,267.8 676.4,266.3 677.4,264 678.4,261.5 679.4,259.4 680.4,258.1 681.4,257.9 682.4,259.2 683.4,261.1 684.4,263 685.4,264.5 686.4,265.2 687.4,265 688.4,264.4 689.4,263.3 690.4,262.3 691.4,261.6 692.4,261.4 693.4,261.9 694.4,262 695.4,262.6 696.4,263.7 697.4,264.9 698.4,265.8 699.4,266 700.4,265.8 701.4,264.7 702.4,263 703.4,261.3 704.4,259.9 705.4,259.5 706.4,260.1 707.4,261.7 708.4,263.7 709.4,265.7 710.4,267.3 711.4,268 712.4,267.8 713.4,266.7 714.4,265 715.4,263.1 716.4,261.8 717.4,261.4 718.4,261.7 719.4,262.8 720.4,264.6 721.4,270.4" fill="none" stroke="#262626" stroke-width="1.4" stroke-linejoin="round" stroke-linecap="round"/>
<path d="M721.4,270.4 722.4,281.5 723.4,284.4 724.4,286.1 725.4,277.6 726.4,270.6 727.4,268.2" fill="none" stroke="#6a6a6a" stroke-width="1.3" stroke-linejoin="round" stroke-linecap="round"/>
<path d="M727.4,268.2 728.4,265.3 729.4,262.4 730.4,259.6 731.4,257.4 732.4,256.1 733.4,255.6" fill="none" stroke="#262626" stroke-width="1.4" stroke-linejoin="round" stroke-linecap="round"/>
<line x1="216.2" y1="383.4" x2="726.7" y2="384.9" stroke="#2a2a2a" stroke-width="1.9"/>
<line x1="652.9" y1="366.5" x2="652.9" y2="414" stroke="#222" stroke-width="1.4"/>
<path d="M213.4,414.9 214.2,414.6 215,414.3 215.8,412.8 216.6,411.1 217.4,410.5 218.2,410.8 219,410.7 219.8,410.1 220.6,410 221.4,410.5 222.2,411.1 223,411.5 223.8,412.1 224.6,413.6 225.4,414.8 226.2,413.8 227,412.8 227.8,413.7 228.6,414.7 229.4,415.8 230.2,416.9 231,417.2 231.8,417.1 232.6,416.7 233.4,416.2 234.2,416.3 235,416.9 235.8,416.8 236.6,416 237.4,415.4 238.2,415.5 239,415.5 239.8,415.2 240.6,415 241.4,413.9 242.2,412.9 243,413.5 243.8,414.4 244.6,414.3 245.4,414.2 246.2,413.9 247,413.3 247.8,413.1 248.6,413.4 249.4,413.5 250.2,413.3 251,413.6 251.8,414 252.6,414.4 253.4,415.3 254.2,416.1 255,415.6 255.8,415 256.6,414.5 257.4,413.9 258.2,414.6 259,415.8 259.8,416.6 260.6,417 261.4,417.5 262.2,418 263,417.5 263.8,416.2 264.6,414.8 265.4,413.3 266.2,411.7 267,410.2 267.8,409.2 268.6,409.9 269.4,410.5 270.2,410.8 271,411 271.8,411.1 272.6,411.4 273.4,411.6 274.2,411.7 275,411.7 275.8,411.8 276.6,411.9 277.4,411.9 278.2,411.8 279,411.2 279.8,410.7 280.6,411 281.4,410.9 282.2,410.5 283,410.1 283.8,409.1 284.6,407.9 285.4,408.5 286.2,410.3 287,410.2 287.8,409 288.6,409.3 289.4,411.1 290.2,412.3 291,412.4 291.8,412.4 292.6,411.8 293.4,411.4 294.2,412.1 295,412 295.8,411.3 296.6,410.5 297.4,410.5 298.2,410.6 299,409.5 299.8,408.7 300.6,409 301.4,409.8 302.2,410.6 303,411.4 303.8,411.8 304.6,411.6 305.4,411.6 306.2,412.2 307,412.7 307.8,412.6 308.6,412.3 309.4,412.7 310.2,413 311,413.2 311.8,413.5 312.6,413.2 313.4,412.5 314.2,412.3 315,412.3 315.8,412.1 316.6,411.6 317.4,411.4 318.2,411 319,410.7 319.8,410.8 320.6,410.9 321.4,411.6 322.2,411.5 323,410.8 323.8,410.2 324.6,409 325.4,407.8 326.2,407.9 327,408.9 327.8,409.4 328.6,409.5 329.4,410.3 330.2,411.9 331,411.9 331.8,410.4 332.6,409.2 333.4,409.3 334.2,409.4 335,409.8 335.8,409.1 336.6,407 337.4,404.9 338.2,403.6 339,404.2 339.8,405.4" fill="none" stroke="#0e0e0e" stroke-width="2.1" stroke-linejoin="round" stroke-linecap="round"/>
<path d="M340.4,409 L341,426 L341.5,486 L342.5,486 L343.2,440 L343.8,422" fill="none" stroke="#6e6e6e" stroke-width="1.5" stroke-linejoin="round"/>
<path d="M343.8,424 L345.2,392 L346.3,390.5 L346.9,418 L348.6,431" fill="none" stroke="#1a1a1a" stroke-width="1.5" stroke-linejoin="round"/>
<path d="M348.6,431.2 349.4,429.5 350.2,427.9 351,426.6 351.8,425.3 352.6,424.8 353.4,424.5 354.2,424 355,423.5 355.8,422.7 356.6,421.6 357.4,420.2 358.2,418.2 359,416.9 359.8,416.2 360.6,415.3 361.4,413.7 362.2,412.1 363,411.4 363.8,410.7 364.6,410.5 365.4,410.5 366.2,410.2 367,410 367.8,410.3 368.6,410.7 369.4,410.5 370.2,409.7 371,409.6 371.8,410.2 372.6,410.7 373.4,410.9 374.2,411 375,410.9 375.8,410.8 376.6,410.5 377.4,410.3 378.2,410.6 379,410.9 379.8,411.4 380.6,412.1 381.4,412.8 382.2,413.4 383,413 383.8,411.7 384.6,411.1 385.4,411.8 386.2,412.4 387,412.9 387.8,413.3 388.6,413.5 389.4,413.4 390.2,411.6 391,409.7 391.8,408.9 392.6,408.2 393.4,407.8 394.2,408.2 395,408.9 395.8,409.8 396.6,410.5 397.4,411.1 398.2,411.6 399,411.5 399.8,411.1 400.6,409.8 401.4,408.9 402.2,410.1 403,411.4 403.8,410.9 404.6,410.4 405.4,410 406.2,409.7 407,410.1 407.8,411.1 408.6,410.9 409.4,410.2 410.2,409.8 411,409.8 411.8,410.1 412.6,411 413.4,411.8 414.2,412 415,412.2 415.8,412.3 416.6,412.6 417.4,413.4 418.2,414.3 419,413.8 419.8,413.2 420.6,414.5 421.4,416.1 422.2,416.1 423,415.2 423.8,415.1 424.6,415.9 425.4,416.2 426.2,415.4 427,414.9 427.8,415.3 428.6,415.6 429.4,416.2 430.2,417.3 431,416.8 431.8,416.2 432.6,417.5 433.4,419.1 434.2,419.1 435,417.9 435.8,417.8 436.6,418.2 437.4,417.9 438.2,416.8 439,416.2 439.8,416.3 440.6,416.6 441.4,417.5 442.2,418.3 443,417.6 443.8,416.7 444.6,417.6 445.4,418.4 446.2,417.5 447,416.4 447.8,416.2 448.6,416.6 449.4,417.2 450.2,418.1 451,418.3 451.8,417.9 452.6,417.4 453.4,417.5 454.2,417.1 455,415.6 455.8,414.4 456.6,414.1 457.4,414.7 458.2,415.2 459,415.7 459.8,417.4 460.6,419.3 461.4,419.9 462.2,420 463,423.5 463.8,429.1 464.6,429.2 465.4,423.6 466.2,421.3 467,419.3 467.8,417.9 468.6,418.7 469.4,419.2 470.2,417.6 471,417 471.8,418 472.6,418.9 473.4,419.5 474.2,420 475,421.2 475.8,422.7 476.6,424 477.4,425.2 478.2,427.2 479,429.3 479.8,428.4 480.6,425.7 481.4,423.5 482.2,422.5 483,421.5 483.8,420.3 484.6,420 485.4,419.1 486.2,418.2 487,417.9 487.8,417.7 488.6,417.1 489.4,417.2 490.2,417.5 491,417.9 491.8,417.7 492.6,416.8 493.4,416.3 494.2,416 495,416.1 495.8,417.1 496.6,417.9 497.4,417.7 498.2,417.7 499,418.4 499.8,419 500.6,419.8 501.4,420.6 502.2,420.9 503,420.9 503.8,420.7 504.6,420.2 505.4,419.9 506.2,419.9 507,419.7 507.8,420.1 508.6,420.2 509.4,419.7 510.2,419.1 511,417.6 511.8,416.1 512.6,416.9 513.4,417.6 514.2,416.7 515,415.5 515.8,415.2 516.6,415.1 517.4,415.5 518.2,416.1 519,416.4 519.8,416.3 520.6,416.5 521.4,416.8 522.2,417 523,416.5 523.8,415.9 524.6,415.3 525.4,414.8 526.2,414.8 527,414.8 527.8,415.2 528.6,415.6 529.4,414.9 530.2,414.2 531,413.8 531.8,413.5 532.6,413.4 533.4,413.6 534.2,414.1 535,414.4 535.8,414.5 536.6,413.9 537.4,413.4 538.2,413.6 539,413.8 539.8,414.1 540.6,414.3 541.4,413.6 542.2,412.7 543,411.9 543.8,411.1 544.6,410.5 545.4,410 546.2,409.5 547,409.3 547.8,409.5 548.6,410.4 549.4,411.5 550.2,413.1 551,414.6 551.8,414.4 552.6,414.2 553.4,413.5 554.2,412.9 555,413.4 555.8,414.1 556.6,414.9 557.4,415.6 558.2,416.1 559,416.5 559.8,416.6 560.6,415.9 561.4,415.2 562.2,415.1 563,415 563.8,414.7 564.6,414.4 565.4,414.7 566.2,415 567,415.5 567.8,415.9 568.6,415.6 569.4,415.1 570.2,415.3 571,415.7 571.8,415.8 572.6,415.7 573.4,416.2 574.2,417.4 575,417.8 575.8,416.7 576.6,416.3 577.4,417.6 578.2,418.7 579,418.3 579.8,417.9 580.6,418.2 581.4,418.5 582.2,418.1 583,417.9 583.8,417.2 584.6,416.1 585.4,415.9 586.2,416.3 587,417.1 587.8,417.7 588.6,417.6 589.4,416.6 590.2,415.7 591,415.4 591.8,415.2 592.6,415 593.4,414.9 594.2,415 595,415.1 595.8,414.6 596.6,414.4 597.4,414.4 598.2,414.3 599,415.2 599.8,416.7 600.6,417.7 601.4,417.1 602.2,416.2 603,415 603.8,413.8 604.6,412.9 605.4,412.5 606.2,413.4 607,414.2 607.8,414.4 608.6,414.6 609.4,415.6 610.2,416.1 611,416.9 611.8,417.8 612.6,417.6 613.4,416.8 614.2,416 615,415.9 615.8,416.4 616.6,418.3 617.4,419.4 618.2,418.4 619,417.2 619.8,417 620.6,416.9 621.4,417.5 622.2,418.2 623,417.8 623.8,417.8 624.6,418.7 625.4,419.9 626.2,420.3 627,420.3 627.8,421 628.6,422.2 629.4,422.9 630.2,422.8 631,422.6 631.8,422 632.6,421.5 633.4,421.4 634.2,421.3 635,421.3 635.8,421.2 636.6,421.7 637.4,421.7 638.2,420.1 639,418.1 639.8,417.3 640.6,417.3 641.4,417.2 642.2,416.9 643,416.7 643.8,416.5 644.6,416.3 645.4,415.9 646.2,415.6 647,415.7 647.8,415.7 648.6,414.3 649.4,413 650.2,412.5 651,412.2 651.8,412.3 652.6,413.1 653.4,413.2 654.2,413.1 655,413.3 655.8,413.9 656.6,414.5 657.4,415.3 658.2,415.5 659,414.4 659.8,413.4 660.6,413.2 661.4,413.1 662.2,414.6 663,416.2 663.8,415.5 664.6,414.8 665.4,414.9 666.2,415.4 667,415.7 667.8,416 668.6,415.9 669.4,415.6 670.2,415.9 671,416.8 671.8,417.4 672.6,416.5 673.4,416.6 674.2,417 675,417.4 675.8,417.4 676.6,417.4 677.4,417.9 678.2,417.9 679,417.2 679.8,416.2 680.6,415.8 681.4,415.7 682.2,415.7 683,415.4 683.8,415.5 684.6,416.4 685.4,416.9 686.2,416.5 687,416.2 687.8,416.7 688.6,417.2 689.4,415.7 690.2,414.1 691,414.7 691.8,415.6 692.6,415.6 693.4,415.2 694.2,414.5 695,413.5 695.8,413 696.6,412.8 697.4,412.8 698.2,413.1 699,413.1 699.8,412.3 700.6,411.9 701.4,412.6 702.2,413.4 703,413.2 703.8,413.1 704.6,413.4 705.4,413.7 706.2,412.8 707,411.5 707.8,410.9 708.6,410.8 709.4,411.4 710.2,412.5 711,413.2 711.8,413.4 712.6,413.8 713.4,415.2 714.2,416.2 715,415.9 715.8,415.6 716.6,417 717.4,418.2 718.2,418.1 719,417.8 719.8,418.7 720.6,421.2 721.4,423.1" fill="none" stroke="#0e0e0e" stroke-width="2.1" stroke-linejoin="round" stroke-linecap="round"/>
<path d="M722,423 L722.8,461 L723.6,462 L724.3,440 L725,461 L725.8,428 L727,421" fill="none" stroke="#5a5a5a" stroke-width="1.3" stroke-linejoin="round"/>
<path d="M727,421.2 727.8,416.7 728.6,418.3 729.4,418.6 730.2,418.7 731,419.8 731.8,421.3 732.6,422.2" fill="none" stroke="#0e0e0e" stroke-width="2" stroke-linejoin="round" stroke-linecap="round"/>
<text transform="translate(307.3,523) rotate(-90)" font-size="15" fill="#8c8c8c" style="font-weight:normal" textLength="54" lengthAdjust="spacingAndGlyphs">Fenil 5mcg/kg</text>
<line x1="311.5" y1="466" x2="311.5" y2="534" stroke="#c9c9c9" stroke-width="0.9" stroke-dasharray="2 1.5"/>
<path d="M300.7,485.3 L312.2,496.8 L306.5,496.8 L306.5,531.5 L294.8,531.5 L294.8,496.8 L289.2,496.8Z" fill="#000"/>
<rect x="7.2" y="582.4" width="732" height="565.8" rx="2.5" fill="none" stroke="#000" stroke-width="5.7"/>
<text x="141.9" y="617.8" font-size="20.7" textLength="41.2" lengthAdjust="spacingAndGlyphs" fill="#000">200</text>
<text x="141.9" y="709.7" font-size="20.7" textLength="41.2" lengthAdjust="spacingAndGlyphs" fill="#000">100</text>
<text x="148.4" y="776" font-size="20.7" textLength="27.9" lengthAdjust="spacingAndGlyphs" fill="#000">40</text>
<text x="141.9" y="820.5" font-size="20.7" textLength="41.2" lengthAdjust="spacingAndGlyphs" fill="#000">180</text>
<text x="141.9" y="902.9" font-size="20.7" textLength="41.2" lengthAdjust="spacingAndGlyphs" fill="#000">100</text>
<text x="148.4" y="956.1" font-size="20.7" textLength="27.9" lengthAdjust="spacingAndGlyphs" fill="#000">40</text>
<text x="141.9" y="994.4" font-size="20.7" textLength="41.2" lengthAdjust="spacingAndGlyphs" fill="#000">400</text>
<text x="141.9" y="1059.8" font-size="20.7" textLength="41.2" lengthAdjust="spacingAndGlyphs" fill="#000">200</text>
<text x="154.7" y="1116.8" font-size="20.7" textLength="15.1" lengthAdjust="spacingAndGlyphs" fill="#000">0</text>
<text x="40.3" y="673.2" font-size="24.1" textLength="45.8" lengthAdjust="spacingAndGlyphs" fill="#000">PAP</text>
<text x="14.7" y="707.3" font-size="24.9" textLength="96.9" lengthAdjust="spacingAndGlyphs" fill="#000">(mmHg)</text>
<text x="34.4" y="871.9" font-size="23.8" textLength="57.6" lengthAdjust="spacingAndGlyphs" fill="#000">MAP</text>
<text x="14.7" y="903.9" font-size="24.6" textLength="96.9" lengthAdjust="spacingAndGlyphs" fill="#000">(mmHg)</text>
<text x="45.8" y="1036.4" font-size="23.5" textLength="34.8" lengthAdjust="spacingAndGlyphs" fill="#000">HR</text>
<text x="26.7" y="1068.3" font-size="25.5" textLength="73" lengthAdjust="spacingAndGlyphs" fill="#000">(bpm)</text>
<text x="386.1" y="621.1" font-size="31.9" textLength="225" lengthAdjust="spacingAndGlyphs" fill="#000">VITD 15 IU/day</text>
<text x="664.2" y="1102.5" font-size="25.8" textLength="26.7" lengthAdjust="spacingAndGlyphs" fill="#000">5s</text>
<path d="M37.4,1073.9 39,1076.1 40.6,1073.9 42.2,1076.1 43.8,1073.9 45.4,1076.1 47,1073.9 48.6,1076.1 50.2,1073.9 51.8,1076.1 53.4,1073.9 55,1076.1 56.6,1073.9 58.2,1076.1 59.8,1073.9 61.4,1076.1 63,1073.9 64.6,1076.1 66.2,1073.9 67.8,1076.1 69.4,1073.9 71,1076.1 72.6,1073.9 74.2,1076.1 75.8,1073.9 77.4,1076.1 79,1073.9 80.6,1076.1 82.2,1073.9 83.8,1076.1 85.4,1073.9 87,1076.1 88.6,1073.9 90.2,1076.1" fill="none" stroke="#e32227" stroke-width="1.15"/>
<rect x="660.7" y="1114.8" width="28.1" height="5.8" fill="#000"/>
<circle cx="368.3" cy="594" r="0.9" fill="#c8c8c8"/>
<circle cx="368.3" cy="606" r="0.9" fill="#c8c8c8"/>
<circle cx="368.3" cy="612" r="0.9" fill="#c8c8c8"/>
<circle cx="368.3" cy="745" r="0.9" fill="#c8c8c8"/>
<circle cx="368.3" cy="778" r="0.9" fill="#c8c8c8"/>
<circle cx="368.3" cy="800" r="0.9" fill="#c8c8c8"/>
<circle cx="368.3" cy="838" r="0.9" fill="#c8c8c8"/>
<circle cx="368.3" cy="862" r="0.9" fill="#c8c8c8"/>
<circle cx="368.3" cy="878" r="0.9" fill="#c8c8c8"/>
<circle cx="368.3" cy="920" r="0.9" fill="#c8c8c8"/>
<circle cx="368.3" cy="945" r="0.9" fill="#c8c8c8"/>
<circle cx="368.3" cy="956" r="0.9" fill="#c8c8c8"/>
<circle cx="368.3" cy="1000" r="0.9" fill="#c8c8c8"/>
<circle cx="224.8" cy="1120.6" r="0.9" fill="#bbb"/>
<circle cx="248.3" cy="1120.6" r="0.9" fill="#bbb"/>
<circle cx="280.8" cy="1120.6" r="0.9" fill="#bbb"/>
<circle cx="313.3" cy="1120.6" r="0.9" fill="#bbb"/>
<circle cx="345.9" cy="1120.6" r="0.9" fill="#bbb"/>
<circle cx="379" cy="1120.6" r="0.9" fill="#bbb"/>
<circle cx="411.6" cy="1120.6" r="0.9" fill="#bbb"/>
<circle cx="444.1" cy="1120.6" r="0.9" fill="#bbb"/>
<circle cx="477" cy="1120.6" r="0.9" fill="#bbb"/>
<circle cx="509.5" cy="1120.6" r="0.9" fill="#bbb"/>
<circle cx="542" cy="1120.6" r="0.9" fill="#bbb"/>
<circle cx="574.5" cy="1120.6" r="0.9" fill="#bbb"/>
<circle cx="607" cy="1120.6" r="0.9" fill="#bbb"/>
<circle cx="639.5" cy="1120.6" r="0.9" fill="#bbb"/>
<circle cx="704.5" cy="1120.6" r="0.9" fill="#bbb"/>
<circle cx="729" cy="1120.6" r="0.9" fill="#bbb"/>
<circle cx="240" cy="776.5" r="0.8" fill="#d0d0d0"/>
<circle cx="262" cy="776.5" r="0.8" fill="#d0d0d0"/>
<circle cx="352" cy="776.5" r="0.8" fill="#d0d0d0"/>
<circle cx="368" cy="776.5" r="0.8" fill="#d0d0d0"/>
<circle cx="382" cy="776.5" r="0.8" fill="#d0d0d0"/>
<circle cx="444" cy="776.5" r="0.8" fill="#d0d0d0"/>
<circle cx="509" cy="776.5" r="0.8" fill="#d0d0d0"/>
<circle cx="542" cy="776.5" r="0.8" fill="#d0d0d0"/>
<circle cx="640" cy="776.5" r="0.8" fill="#d0d0d0"/>
<circle cx="647" cy="776.5" r="0.8" fill="#d0d0d0"/>
<circle cx="704" cy="776.5" r="0.8" fill="#d0d0d0"/>
<path d="M219.5,670.5 220.1,668.8 220.7,666.5 221.3,664.4 221.9,664.6 222.5,665.2 223.1,666.6 223.7,668.3 224.3,669.1 224.9,668.6 225.5,670.1 226.1,671.7 226.7,670.1 227.3,667.8 227.9,668.7 228.5,669.4 229.1,669.5 229.7,668.9 230.3,668.3 230.9,667.7 231.5,668.5 232.1,668.3 232.7,666.5 233.3,667.1 233.9,667.9 234.5,668.3 235.1,668.2 235.7,668 236.3,667.8 236.9,667.9 237.5,667.5 238.1,665.7 238.7,664.2 239.3,664.9 239.9,665.4 240.5,665.4 241.1,665 241.7,664.6 242.3,664 242.9,665.1 243.5,665.7 244.1,665.7 244.7,665.3 245.3,664.8 245.9,664.1 246.5,664.4 247.1,664.8 247.7,664.8 248.3,664.7 248.9,664 249.5,662.4 250.1,661.6 250.7,663 251.3,662.6 251.9,661.1 252.5,661.7 253.1,662.6 253.7,663.4 254.3,663.5 254.9,663.7 255.5,663.8 256.1,664.9 256.7,665.8 257.3,666.1 257.9,666.7 258.5,666.3 259.1,664.5 259.7,663.5 260.3,664.1 260.9,664.6 261.5,665.2 262.1,665.6 262.7,665.9 263.3,666.4 263.9,667.3 264.5,667 265.1,664.9 265.7,665 266.3,664.8 266.9,664.2 267.5,662.9 268.1,662.2 268.7,660.8 269.3,660.7 269.9,661.4 270.5,662.2 271.1,662.6 271.7,663 272.3,662.3 272.9,661.1 273.5,660.2 274.1,659.9 274.7,659.5 275.3,658.8 275.9,658.2 276.5,657.4 277.1,660.5 277.7,662.2 278.3,662.3 278.9,662.6 279.5,663.2 280.1,663.6 280.7,664.1 281.3,664.6 281.9,665 282.5,665.3 283.1,664.7 283.7,663.6 284.3,662.6 284.9,662 285.5,661.4 286.1,662.1 286.7,663.8 287.3,665.2 287.9,666.1 288.5,666.5 289.1,665.8 289.7,664.8 290.3,665.2 290.9,665.3 291.5,664.7 292.1,665.1 292.7,665.5 293.3,665.7 293.9,666 294.5,665.9 295.1,664.9 295.7,664.1 296.3,664.5 296.9,664.7 297.5,665 298.1,664.9 298.7,664.3 299.3,663.1 299.9,663.1 300.5,662.1 301.1,660.7 301.7,660.3 302.3,660.2 302.9,660.2 303.5,660.9 304.1,662 304.7,662.5 305.3,662.6 305.9,662.9 306.5,663.1 307.1,662.6 307.7,662.4 308.3,661.9 308.9,661.3 309.5,661.5 310.1,661.5 310.7,660.6 311.3,661.5 311.9,662.5 312.5,663.4 313.1,663.3 313.7,662.9 314.3,662.3 314.9,664.8 315.5,667 316.1,666.2 316.7,664.7 317.3,664.3 317.9,663.9 318.5,663.3 319.1,663.5 319.7,663.7 320.3,663.9 320.9,663.9 321.5,664 322.1,663.6 322.7,664.2 323.3,664.4 323.9,664.3 324.5,664.1 325.1,664.3 325.7,664.6 326.3,664.9 326.9,664.8 327.5,664 328.1,663.4 328.7,663.5 329.3,663.5 329.9,664.4 330.5,666.1 331.1,666.1 331.7,665.4 332.3,665.3 332.9,665.1 333.5,664.8 334.1,664.8 334.7,664.9 335.3,664.9 335.9,664.8 336.5,664.5 337.1,664 337.7,664.1 338.3,664.4 338.9,664.7 339.5,664.9 340.1,665.5 340.7,666 341.3,666.6 341.9,667 342.5,667.5 343.1,667.5 343.7,667.6 344.3,667.3 344.9,666.9 345.5,666.1 346.1,665.3 346.7,664.1 347.3,665.6 347.9,667.1 348.5,668 349.1,667.8 349.7,667.3 350.3,666.6 350.9,666.4 351.5,666.7 352.1,667.3 352.7,667.9 353.3,668.1 353.9,667.5 354.5,667 355.1,668.1 355.7,667.8 356.3,666.1 356.9,665 357.5,663.8 358.1,663.6 358.7,664.9 359.3,666.4 359.9,667.7 360.5,668.5 361.1,668.2 361.7,667.9 362.3,668 362.9,668 363.5,667.6 364.1,667.4 364.7,667.6 365.3,667.9 365.9,668 366.5,667.8 367.1,667.7 367.7,667.4 368.3,668.1 368.9,668.7 369.5,669.2 370.1,669.5 370.7,669.6 371.3,669.5 371.9,669.5 372.5,669.1 373.1,667.8 373.7,667.6 374.3,667.9 374.9,666.8 375.5,664.8 376.1,664.3 376.7,663.8 377.3,663.4 377.9,663.9 378.5,664.3 379.1,665.1 379.7,667.9 380.3,669.1 380.9,669 381.5,669.7 382.1,669.4 382.7,668.9 383.3,668.1 383.9,667 384.5,666.8 385.1,668.6 385.7,671.3 386.3,673.6 386.9,675.4 387.5,676.9 388.1,677.1 388.7,677.4 389.3,679.8 389.9,681.1 390.5,681.4 391.1,681.7 391.7,681.5 392.3,681 392.9,680.5 393.5,680 394.1,678.4 394.7,676.7 395.3,675 395.9,673.3 396.5,672 397.1,670.5 397.7,669.4 398.3,668.2 398.9,667.2 399.5,666.1 400.1,664.1 400.7,663.3 401.3,663 401.9,662.4 402.5,663.1 403.1,665 403.7,667 404.3,671.1 404.9,673.2 405.5,672.8 406.1,672.3 406.7,672.3 407.3,670.4 407.9,668.8 408.5,667.5 409.1,667 409.7,666.2 410.3,665.3 410.9,663.6 411.5,661.8 412.1,660.9 412.7,659.2 413.3,655.7 413.9,656 414.5,656.2 415.1,656 415.7,656 416.3,656.1 416.9,656.2 417.5,656.5 418.1,657.7 418.7,658.8 419.3,659.7 419.3,707.2 418.7,706.5 418.1,706 417.5,706.1 416.9,705.8 416.3,704.9 415.7,705.3 415.1,706 414.5,703.8 413.9,704.1 413.3,708 412.7,709.4 412.1,710.8 411.5,713 410.9,718 410.3,723.8 409.7,720.5 409.1,715.2 408.5,709.8 407.9,710.7 407.3,713.5 406.7,715.6 406.1,715.1 405.5,713.5 404.9,712.2 404.3,710.9 403.7,709.4 403.1,706.5 402.5,705.7 401.9,706 401.3,704.5 400.7,704.3 400.1,705.9 399.5,707.1 398.9,708.2 398.3,709.3 397.7,709.8 397.1,710.4 396.5,711.5 395.9,712.7 395.3,714.5 394.7,716.6 394.1,718.3 393.5,719.1 392.9,720.5 392.3,722.3 391.7,722 391.1,721.9 390.5,722.2 389.9,719.7 389.3,718.4 388.7,718.1 388.1,716.9 387.5,715.5 386.9,714.5 386.3,713.6 385.7,712.7 385.1,711.8 384.5,710.8 383.9,710.6 383.3,711.9 382.7,712.2 382.1,711.2 381.5,712.5 380.9,714.3 380.3,713 379.7,711.7 379.1,710.5 378.5,708.5 377.9,709.3 377.3,712.3 376.7,711.3 376.1,709.9 375.5,709.2 374.9,709.5 374.3,710 373.7,710.6 373.1,710.5 372.5,710.9 371.9,712.5 371.3,713.3 370.7,710.9 370.1,710.1 369.5,710.7 368.9,711.1 368.3,711.6 367.7,712.2 367.1,711.4 366.5,710.8 365.9,710.2 365.3,710.1 364.7,710.2 364.1,710.3 363.5,709 362.9,709.1 362.3,711.4 361.7,713.4 361.1,713.5 360.5,713.6 359.9,713.7 359.3,713.2 358.7,712.8 358.1,712.4 357.5,711.9 356.9,711.3 356.3,711.3 355.7,710.8 355.1,710.8 354.5,711.1 353.9,710.8 353.3,710.3 352.7,709.9 352.1,709.8 351.5,710.1 350.9,711.2 350.3,710.9 349.7,709.8 349.1,709.7 348.5,710.1 347.9,709.6 347.3,709.2 346.7,708.9 346.1,708.4 345.5,707.9 344.9,708.2 344.3,708.6 343.7,709.4 343.1,710.4 342.5,709.9 341.9,709.3 341.3,709.9 340.7,708.9 340.1,708.7 339.5,710.9 338.9,712.3 338.3,711.1 337.7,710.2 337.1,709.7 336.5,709.6 335.9,709.5 335.3,709.6 334.7,709.6 334.1,710 333.5,710.7 332.9,710 332.3,709.6 331.7,709.6 331.1,709.8 330.5,709.9 329.9,710.3 329.3,710.7 328.7,711.2 328.1,711.8 327.5,712.1 326.9,711.8 326.3,711.5 325.7,710.8 325.1,710.2 324.5,710.9 323.9,712.4 323.3,711.7 322.7,711.1 322.1,710.5 321.5,709.8 320.9,710 320.3,710.5 319.7,710.7 319.1,711.1 318.5,711.9 317.9,711.6 317.3,711.1 316.7,711.1 316.1,711.1 315.5,710.6 314.9,710 314.3,709.4 313.7,709 313.1,708.9 312.5,708.8 311.9,708.2 311.3,708.5 310.7,709.5 310.1,708.8 309.5,709 308.9,709.3 308.3,708.8 307.7,708.4 307.1,708.2 306.5,708.5 305.9,709.5 305.3,710.9 304.7,712.2 304.1,712.9 303.5,713.6 302.9,712.6 302.3,710 301.7,709.7 301.1,711 300.5,709.7 299.9,711 299.3,713.9 298.7,713.7 298.1,713.5 297.5,713.3 296.9,711.5 296.3,710.4 295.7,710 295.1,709.2 294.5,708.9 293.9,710.4 293.3,709.7 292.7,707.9 292.1,708.6 291.5,709.8 290.9,709 290.3,708.9 289.7,709.3 289.1,710 288.5,710.8 287.9,710.8 287.3,711.6 286.7,712.7 286.1,714.4 285.5,711.5 284.9,709.6 284.3,709.9 283.7,710.1 283.1,709.4 282.5,708.7 281.9,708.4 281.3,708.1 280.7,707.9 280.1,707.8 279.5,707.9 278.9,707.9 278.3,707.8 277.7,706.2 277.1,706.1 276.5,708.2 275.9,708.2 275.3,708.4 274.7,708.6 274.1,708.4 273.5,709 272.9,710.6 272.3,711.8 271.7,712.3 271.1,712.9 270.5,713.3 269.9,713.5 269.3,713.8 268.7,713.8 268.1,713.4 267.5,714.9 266.9,716.4 266.3,712.9 265.7,711.3 265.1,711.4 264.5,711 263.9,711 263.3,710.9 262.7,709.9 262.1,709.2 261.5,709.1 260.9,709.7 260.3,710.9 259.7,713 259.1,712.9 258.5,711.8 257.9,712.5 257.3,712.8 256.7,710.9 256.1,710.7 255.5,711.8 254.9,711.3 254.3,710.9 253.7,710.4 253.1,709 252.5,708 251.9,707.9 251.3,708.9 250.7,710.4 250.1,712.5 249.5,713.4 248.9,713.1 248.3,713 247.7,711.8 247.1,711.6 246.5,713.7 245.9,714.9 245.3,712.6 244.7,712.1 244.1,713.4 243.5,714.3 242.9,715.7 242.3,717.4 241.7,718 241.1,718.7 240.5,719.3 239.9,717.6 239.3,716 238.7,715.5 238.1,715.3 237.5,715.8 236.9,718 236.3,718.8 235.7,717.6 235.1,716.8 234.5,716.7 233.9,716.3 233.3,716 232.7,715.6 232.1,715 231.5,714.8 230.9,715.7 230.3,716.6 229.7,717.6 229.1,718.8 228.5,717.5 227.9,717.5 227.3,719.4 226.7,718.8 226.1,717.8 225.5,718.6 224.9,717.5 224.3,715.7 223.7,716.5 223.1,717.1 222.5,713.9 221.9,712.5 221.3,712.2 220.7,712 220.1,711.8 219.5,711.8Z" fill="#000"/>
<path d="M419.9,700 L420.6,722 L421.6,744 L423,756 L424.8,762.5 L427,765 L430,767.5 L433,769.8 L434.4,776" fill="none" stroke="#1a1a1a" stroke-width="1.3" stroke-linejoin="round"/>
<path d="M433.2,770 L432.7,700" fill="none" stroke="#1a1a1a" stroke-width="1.2"/>
<path d="M432.3,697 L433.6,688 L435.5,680 L437.5,672 L439.6,664 L441.3,659.5 L441.9,672 L441.7,690 L440.6,702 L439.0,712 L437.4,724 L435.6,736 L434.2,744 L432.9,747 Z" fill="#000"/>
<path d="M436.3,683 L437.0,700" stroke="#bbb" stroke-width="0.8" fill="none"/>
<path d="M443.6,660.8 L443.9,725.2" stroke="#111" stroke-width="1.6" fill="none"/>
<path d="M446.6,652 L446.8,706" stroke="#222" stroke-width="1.3" fill="none"/>
<path d="M447.8,660.3 448.4,640.4 449,636.2 449.6,637.5 450.2,641.6 450.8,644.4 451.4,645.5 452,646.2 452.6,644.1 453.2,641.6 453.8,641.6 454.4,642 455,639.6 455.6,636.9 456.2,638.5 456.8,640.9 457.4,642.7 458,644.6 458.6,645.9 459.2,647.1 459.8,649.6 460.4,651.5 461,653.1 461.6,654.4 462.2,655.4 462.8,656.2 463.4,656.9 464,657.6 464.6,657.9 465.2,659.3 465.8,661.5 466.4,663.1 467,664.1 467.6,664.7 468.2,664.8 468.8,665 469.4,667.2 470,667.3 470.6,665.1 471.2,668.9 471.8,670.9 472.4,670.8 473,670.2 473.6,669 474.2,667.9 474.8,668 475.4,667.2 476,664.5 476.6,662.1 477.2,661.4 477.8,660.7 478.4,660.2 479,660.2 479.6,659.8 480.2,659.3 480.8,658.5 481.4,657.7 482,656.8 482.6,655.9 483.2,655 483.8,654.1 484.4,654.9 485,654.6 485.6,653 486.2,653.8 486.8,654.7 487.4,652.2 488,650.4 488.6,651.3 489.2,652.1 489.8,653.1 490.4,654.5 491,654.9 491.6,654.7 492.2,655 492.8,655.2 493.4,655.1 494,655.4 494.6,656 495.2,656.6 495.8,657.2 496.4,657.4 497,657.5 497.6,658.3 498.2,658.3 498.8,656.7 499.4,657 500,659 500.6,659.3 501.2,658.6 501.8,658.9 502.4,659.7 503,660.4 503.6,660.4 504.2,660.1 504.8,659.5 505.4,661.3 506,662.8 506.6,664 507.2,664 507.8,663.3 508.4,662.4 509,663.7 509.6,665.4 510.2,666.1 510.8,665.9 511.4,664.5 512,662.9 512.6,662.1 513.2,661.5 513.8,659 514.4,656.7 515,657.9 515.6,658.9 516.2,659.8 516.8,659.8 517.4,659 518,658.2 518.6,658.8 519.2,659.1 519.8,658.9 520.4,658.6 521,658.3 521.6,658.5 522.2,658.6 522.8,658.4 523.4,657.7 524,657.5 524.6,658.4 525.2,659 525.8,659.2 526.4,659 527,658.4 527.6,657.3 528.2,658.9 528.8,660 529.4,660.8 530,661.1 530.6,659.6 531.2,657.2 531.8,657.4 532.4,659.2 533,660.2 533.6,660.4 534.2,660.5 534.8,660.6 535.4,659.7 536,658.9 536.6,659 537.2,659.1 537.8,659 538.4,659.6 539,660 539.6,661.9 540.2,663.3 540.8,664.3 541.4,664.2 542,663.2 542.6,661.4 543.2,660.2 543.8,659.4 544.4,658.4 545,658.6 545.6,659.3 546.2,659.4 546.8,658.8 547.4,658.2 548,657.1 548.6,656.8 549.2,659.1 549.8,660.3 550.4,659.4 551,659.3 551.6,659.1 552.2,659 552.8,658.9 553.4,659 554,658.9 554.6,658.7 555.2,658.3 555.8,657.5 556.4,657.5 557,658 557.6,658.3 558.2,658.5 558.8,658.1 559.4,655.8 560,653.2 560.6,653.8 561.2,654 561.8,654 562.4,653.8 563,653.8 563.6,653.7 564.2,655.6 564.8,656.2 565.4,655.9 566,658 566.6,659.6 567.2,658.6 567.8,659.3 568.4,661.4 569,662 569.6,661.5 570.2,661.4 570.8,661.1 571.4,661.5 572,661.9 572.6,662.3 573.2,662.8 573.8,662.6 574.4,661.5 575,660 575.6,661.7 576.2,662.5 576.8,661.7 577.4,661.9 578,662.3 578.6,661.9 579.2,661.7 579.8,662.3 580.4,663.5 581,664.6 581.6,665 582.2,664.7 582.8,664.3 583.4,665.8 584,666.9 584.6,667.6 585.2,666.8 585.8,665.2 586.4,663.4 587,665 587.6,665.4 588.2,663.8 588.8,663.1 589.4,663.2 590,663.2 590.6,663 591.2,662.6 591.8,661.9 592.4,661.2 593,661 593.6,660.4 594.2,659.5 594.8,659.4 595.4,659.5 596,659.5 596.6,659.3 597.2,658.3 597.8,656.5 598.4,658.4 599,660.2 599.6,660.9 600.2,661.4 600.8,662 601.4,663 602,664 602.6,664.5 603.2,664.1 603.8,664.6 604.4,665.4 605,664.8 605.6,663.2 606.2,661.9 606.8,660.6 607.4,659.7 608,658.7 608.6,657.7 609.2,656.6 609.8,655.6 610.4,654.8 611,654.1 611.6,655.2 612.2,656.1 612.8,656.5 613.4,656.7 614,657.2 614.6,657.4 615.2,657.6 615.8,657.9 616.4,657.9 617,657.4 617.6,656.8 618.2,656 618.8,655.1 619.4,659.2 620,660.1 620.6,657.7 621.2,657.8 621.8,658.8 622.4,660.2 623,662 623.6,663.5 624.2,664.1 624.8,664.1 625.4,663.2 626,661.3 626.6,660.7 627.2,662.6 627.8,663.5 628.4,662.3 629,660.9 629.6,659.5 630.2,658 630.8,656.7 631.4,656.5 632,656.2 632.6,657.1 633.2,658 633.8,658.6 634.4,659 635,659.2 635.6,658.8 636.2,658.6 636.8,659 637.4,659 638,659 638.6,659.2 639.2,659.2 639.8,659.1 640.4,659.1 641,658.5 641.6,657.4 642.2,656.7 642.8,656 643.4,654.3 644,654.7 644.6,655.2 645.2,655.3 645.8,654.9 646.4,654.6 647,653.6 647.6,653.9 648.2,655.5 648.8,656.3 649.4,656.6 650,657 650.6,657.4 651.2,657.9 651.8,658.7 652.4,658.9 653,659 653.6,659 654.2,659 654.8,658.9 655.4,659 656,658.8 656.6,658.1 657.2,658.7 657.8,659.2 658.4,659 659,659.6 659.6,660.1 660.2,658.5 660.8,658.1 661.4,661.2 662,661.4 662.6,659.9 663.2,662.4 663.8,662.2 664.4,659.5 665,660.4 665.6,661.4 666.2,662.3 666.8,664 667.4,665.4 668,666.4 668.6,666.9 669.2,667.3 669.8,667.7 670.4,667.8 671,667.9 671.6,668 672.2,668 672.8,668.1 673.4,668.8 674,669.6 674.6,669.2 675.2,668.4 675.8,667.3 676.4,666.7 677,666 677.6,665.3 678.2,665.4 678.8,665.1 679.4,664.9 680,664.5 680.6,664.7 681.2,664.8 681.8,664.9 682.4,664.8 683,664.5 683.6,664.5 684.2,664.9 684.8,664.8 685.4,664.2 686,663.9 686.6,663.4 687.2,662.9 687.8,664.4 688.4,664.7 689,664.2 689.6,664.9 690.2,664.8 690.8,663.6 691.4,664.9 692,666.6 692.6,666.8 693.2,667 693.8,668 694.4,668.1 695,667.5 695.6,666.5 696.2,665.5 696.8,664.4 697.4,663.2 698,662 698.6,660.8 699.2,660.6 699.8,659.9 700.4,659.5 701,659.4 701.6,659.3 702.2,659 702.8,659.3 703.4,660.3 704,661.2 704.6,661.7 705.2,661.8 705.8,661.5 706.4,660.4 707,660.1 707.6,659.8 708.2,659.8 708.8,661.5 709.4,663 710,663.6 710.6,664.2 711.2,664.1 711.8,663.4 712.4,663.6 713,664.1 713.6,664.6 714.2,665.2 714.8,665.7 715.4,666 716,666.5 716.6,667.1 717.2,667.6 717.8,668.2 718.4,667.8 719,665.7 719.6,662.9 720.2,664 720.8,664.8 721.4,665.5 722,665.9 722.6,665.6 723.2,664.4 723.8,663.4 724.4,661.8 725,660.2 725.6,661.8 726.2,663.4 726.8,662.9 727.4,663.3 728,663.9 728.6,662.9 729.2,662.7 729.8,665.3 730.4,664.1 731,660.8 731.6,661.8 732.2,662.6 732.8,663.1 733.4,664.2 734,664.3 734.6,663.6 735.2,662.9 735.8,662.2 736.4,660.6 736.4,713.8 735.8,714.8 735.2,716 734.6,716.5 734,713.9 733.4,713 732.8,713.9 732.2,713.7 731.6,714 731,714.8 730.4,715.4 729.8,716 729.2,716 728.6,716 728,716.1 727.4,716.1 726.8,715.6 726.2,714.7 725.6,714.2 725,713.9 724.4,714.3 723.8,715.5 723.2,716.8 722.6,714.7 722,713.2 721.4,712.3 720.8,712.1 720.2,713.5 719.6,717 719,716.1 718.4,715 717.8,714.7 717.2,715.5 716.6,716.9 716,718.7 715.4,719.3 714.8,718.9 714.2,719.1 713.6,719.1 713,719 712.4,719.1 711.8,719.3 711.2,719.4 710.6,719.6 710,720 709.4,716.5 708.8,715.3 708.2,716.6 707.6,717.6 707,718.4 706.4,719.3 705.8,717 705.2,714.6 704.6,714 704,714.1 703.4,714.2 702.8,715.5 702.2,716 701.6,715.2 701,715 700.4,715.3 699.8,716.4 699.2,718.4 698.6,720.6 698,720.1 697.4,720.9 696.8,723 696.2,722.8 695.6,722 695,721.5 694.4,721.2 693.8,720.9 693.2,721.7 692.6,720.2 692,718.6 691.4,720 690.8,721.3 690.2,718.6 689.6,718 689,719 688.4,717.6 687.8,717 687.2,716.8 686.6,716 686,715.3 685.4,714.6 684.8,714 684.2,714.1 683.6,714.5 683,713.4 682.4,713.9 681.8,715.8 681.2,715.7 680.6,715.2 680,717.1 679.4,718.7 678.8,716.7 678.2,716.5 677.6,717.2 677,718.2 676.4,720.2 675.8,723.1 675.2,721.4 674.6,720.1 674,719.2 673.4,719.5 672.8,720.3 672.2,721.6 671.6,720.1 671,719 670.4,720 669.8,721.2 669.2,720.9 668.6,720.6 668,720 667.4,719 666.8,718.4 666.2,717.7 665.6,717.2 665,716.8 664.4,716.6 663.8,716.1 663.2,715.5 662.6,715 662,714.5 661.4,714.1 660.8,713.7 660.2,712.7 659.6,712 659,712.1 658.4,711.5 657.8,710.3 657.2,711.1 656.6,711.7 656,711.3 655.4,712.7 654.8,714.9 654.2,713.6 653.6,712.4 653,711.4 652.4,711.5 651.8,711.8 651.2,712.9 650.6,713 650,712.8 649.4,713.2 648.8,713.3 648.2,713.4 647.6,713.5 647,713.8 646.4,714.2 645.8,714.9 645.2,714.9 644.6,715.6 644,717 643.4,717.9 642.8,714 642.2,713.1 641.6,714.7 641,713.5 640.4,712.8 639.8,712.6 639.2,712.6 638.6,713.2 638,714.5 637.4,713.7 636.8,712.6 636.2,712.2 635.6,712.6 635,713 634.4,713.6 633.8,713.3 633.2,711 632.6,709.4 632,708.5 631.4,708.1 630.8,708.9 630.2,711.4 629.6,707.7 629,706.3 628.4,707.3 627.8,708.4 627.2,709.9 626.6,711.6 626,712.5 625.4,713.1 624.8,713.6 624.2,714.1 623.6,714.4 623,714.8 622.4,715 621.8,715 621.2,714.5 620.6,714.3 620,712.4 619.4,712.8 618.8,715.5 618.2,713.5 617.6,711.8 617,710.6 616.4,709.9 615.8,709.4 615.2,708.9 614.6,708.6 614,708.3 613.4,708.1 612.8,707.4 612.2,707 611.6,707.2 611,707.4 610.4,706.8 609.8,706.5 609.2,706.1 608.6,705.8 608,705.6 607.4,706.6 606.8,708.1 606.2,710.1 605.6,712.5 605,710 604.4,709.5 603.8,712.2 603.2,712.9 602.6,712.2 602,712.7 601.4,712.9 600.8,712.8 600.2,712.4 599.6,711.9 599,711.1 598.4,710.4 597.8,709.9 597.2,710.4 596.6,711.5 596,713.1 595.4,711.8 594.8,710.9 594.2,709.4 593.6,709.2 593,710.7 592.4,713.3 591.8,713.1 591.2,712.3 590.6,712.2 590,712.8 589.4,713.7 588.8,714.7 588.2,715.9 587.6,716.4 587,716.6 586.4,716.9 585.8,717.2 585.2,717.7 584.6,719.2 584,718.6 583.4,718.1 582.8,717.5 582.2,715.6 581.6,713.8 581,712.8 580.4,712.5 579.8,712.6 579.2,713.2 578.6,712.6 578,711.7 577.4,712.2 576.8,712.5 576.2,711.4 575.6,712.8 575,715.1 574.4,712.8 573.8,711.6 573.2,710.9 572.6,710.2 572,709.5 571.4,708.9 570.8,707.5 570.2,708.9 569.6,712 569,711.3 568.4,709.7 567.8,710.1 567.2,709.9 566.6,709.2 566,709.7 565.4,710.1 564.8,708.8 564.2,708.1 563.6,708 563,707.9 562.4,707.8 561.8,707.8 561.2,708.1 560.6,708.6 560,709.4 559.4,707.1 558.8,705.3 558.2,704.6 557.6,705 557,705.5 556.4,706.2 555.8,706.9 555.2,708.1 554.6,709.3 554,710.6 553.4,711.9 552.8,713.2 552.2,713.6 551.6,710.7 551,710.5 550.4,713.2 549.8,714.1 549.2,714.6 548.6,715.1 548,715.3 547.4,715.3 546.8,715.4 546.2,713.5 545.6,711.2 545,709.5 544.4,709.1 543.8,709.7 543.2,710.6 542.6,710.6 542,708.1 541.4,707.1 540.8,707.4 540.2,708.1 539.6,708.9 539,709.9 538.4,708.7 537.8,708.3 537.2,708.9 536.6,709.4 536,709.9 535.4,710.4 534.8,711.5 534.2,713 533.6,715.1 533,713.8 532.4,711.9 531.8,714 531.2,715.8 530.6,712.8 530,713.7 529.4,716.9 528.8,715.4 528.2,714.1 527.6,713.2 527,713.7 526.4,714.4 525.8,715.3 525.2,714.9 524.6,714.2 524,713.7 523.4,713 522.8,712.6 522.2,712.5 521.6,712.5 521,712.3 520.4,712.2 519.8,711.9 519.2,711.8 518.6,712.9 518,714.7 517.4,713.4 516.8,712.6 516.2,711.9 515.6,711.8 515,712.5 514.4,713.6 513.8,713.4 513.2,713.7 512.6,714 512,714 511.4,715 510.8,716 510.2,715.1 509.6,714.1 509,714.5 508.4,715.4 507.8,715.3 507.2,715.6 506.6,715.1 506,715.3 505.4,716.2 504.8,717.7 504.2,713 503.6,712 503,714.6 502.4,712.3 501.8,710 501.2,710.2 500.6,710.9 500,711.5 499.4,711.1 498.8,710.8 498.2,709.9 497.6,708.9 497,706.8 496.4,705.2 495.8,706 495.2,708 494.6,707 494,706 493.4,704.7 492.8,702.6 492.2,701.5 491.6,700.8 491,699.8 490.4,700 489.8,700.3 489.2,700.6 488.6,701 488,701.5 487.4,701.6 486.8,701.6 486.2,701.7 485.6,701 485,700.1 484.4,701.9 483.8,704.9 483.2,703 482.6,701.4 482,700.1 481.4,699.1 480.8,700.1 480.2,702.3 479.6,703.7 479,705 478.4,706.6 477.8,708.1 477.2,709.5 476.6,710.9 476,712.1 475.4,713.4 474.8,715.1 474.2,716.7 473.6,716.9 473,716.6 472.4,716.1 471.8,714.4 471.2,713.9 470.6,713.8 470,714.1 469.4,714.4 468.8,713.9 468.2,712.3 467.6,711.3 467,711 466.4,712.2 465.8,712.7 465.2,712.4 464.6,709.6 464,705.5 463.4,701.5 462.8,698.1 462.2,697.3 461.6,697.9 461,697.7 460.4,695.7 459.8,693.9 459.2,692.7 458.6,691.9 458,691 457.4,690.1 456.8,689.5 456.2,688.1 455.6,687 455,684.5 454.4,681.4 453.8,681.6 453.2,686.3 452.6,692.4 452,700.7 451.4,705.1 450.8,705.3 450.2,705.6 449.6,705.8 449,705.9 448.4,706.1 447.8,706.3Z" fill="#000"/>
<line x1="219.5" y1="785.6" x2="737" y2="786.6" stroke="#2a2a2a" stroke-width="1.7"/>
<path d="M205.7,873.6 206.7,872.6 207.7,871.2 208.7,869.7 209.7,868.4 210.7,867.7 211.7,867.5 212.7,868 213.7,869.1 214.7,870.5 215.7,872 216.7,873.1 217.7,873.7 218.7,873.7 219.7,872.9 220.7,871.7 221.7,870.2 222.7,868.8 223.7,867.8 224.7,867.5 225.7,868 226.7,869.1 227.7,870.6 228.7,872.3 229.7,873.9 230.7,875 231.7,875.5 232.7,875.3 233.7,874.1 234.7,872.5 235.7,870.8 236.7,869.3 237.7,868.3 238.7,868 239.7,868.3 240.7,869.2 241.7,870.4 242.7,872.1 243.7,873.5 244.7,874.3 245.7,874.5 246.7,874 247.7,873.1 248.7,871.8 249.7,870.7 250.7,869.9 251.7,869.4 252.7,869.6 253.7,870.4 254.7,871.7 255.7,873.1 256.7,874.4 257.7,875.3 258.7,875.6 259.7,875.1 260.7,874 261.7,872.5 262.7,870.9 263.7,869.6 264.7,868.7 265.7,868.4 266.7,868.9 267.7,869.8 268.7,871.1 269.7,872.6 270.7,873.8 271.7,874.4 272.7,874.4 273.7,873.7 274.7,872.6 275.7,871.1 276.7,869.7 277.7,868.7 278.7,868.4 279.7,868.8 280.7,869.9 281.7,871.3 282.7,873 283.7,874.5 284.7,875.5 285.7,876 286.7,875.8 287.7,874.7 288.7,873.3 289.7,871.8 290.7,870.5 291.7,869.7 292.7,869.5 293.7,870 294.7,871.1 295.7,872.5 296.7,873.7 297.7,874.6 298.7,874.9 299.7,874.6 300.7,873.6 301.7,872.1 302.7,870.5 303.7,868.9 304.7,867.7 305.7,867.6 306.7,868.1 307.7,869.1 308.7,870.5 309.7,872 310.7,873.3 311.7,874.3 312.7,874.7 313.7,874.6 314.7,873.6 315.7,872.4 316.7,871.2 317.7,870.2 318.7,869.6 319.7,869.4 320.7,869.7 321.7,870.3 322.7,871.1 323.7,872.2 324.7,873.1 325.7,873.7 326.7,873.8 327.7,873.6 328.7,873.2 329.7,872.6 330.7,872.2 331.7,871.9 332.7,871.4 333.7,871.2 334.7,871.3 335.7,871.6 336.7,872 337.7,872.3 338.7,872.4 339.7,872.3 340.7,871.8 341.7,871.4 342.7,870.8 343.7,870.2 344.7,869.8 345.7,869.5 346.7,869.6 347.7,869.9 348.7,870.5 349.7,871.1 350.7,872 351.7,872.7 352.7,873.1 353.7,873.3 354.7,873.2 355.7,872.9 356.7,872.6 357.7,872.2 358.7,872 359.7,871.7 360.7,871.7 361.7,871.9 362.7,872.2 363.7,872.6 364.7,873 365.7,873.1 366.7,873.1 367.7,872.8 368.7,872.5 369.7,872.1 370.7,871.6 371.7,871.3 372.7,871.1 373.7,871.1 374.7,871.4 375.7,871.8 376.7,872.3 377.7,872.7 378.7,873 379.7,873.2 380.7,873.1 381.7,872.8 382.7,872.4 383.7,871.9 384,871.8 386,876 387.4,880 389.5,882.5 391.5,878 394,866 396,863.5 398,865 399.5,873 400.8,877 403,876.5 405.6,877.5 406.4,864 408,862.7 417.8,862.9 418.7,864.5 418.9,911.1 434.2,911.1 434.4,897.6 435.6,890 436.3,884 437.8,877.8 441,877.5 446.6,877.5 446.9,858 448.2,868 448.6,880 449.2,866 450,855 451.5,846 453,842 454.6,841.4 456.5,842.5 458.5,848 460.5,849.5 462.5,853 464.5,861 467,866 470,870.5 472.6,873 475.5,870 478.5,866.5 481,865 481,865.1 482,864 483,862.8 484,861.6 485,860.4 486,858.9 487,857.5 488,857.1 489,856.7 490,856.8 491,857.7 492,858.6 493,859.5 494,860.3 495,861.8 496,863.2 497,864.7 498,865.7 499,866.4 500,867.1 501,867.8 502,868.6 503,869.4 504,868.8 505,868.2 506,867.9 507,867.7 508,867.4 509,866.8 510,866.5 511,866.2 512,865.9 513,865.6 514,864.9 515,865 516,865.2 517,865.3 518,865.2 519,865.2 520,865.2 521,865.3 522,865.5 523,865.7 524,865.9 525,866.1 526,866.5 527,866.8 528,867.2 529,867 530,867.3 531,867.6 532,867.9 533,868.3 534,867.6 535,867 536,866.1 537,865.1 538,864.8 539,864.6 540,864.3 541,864 542,863.4 543,863.7 544,864 545,864.3 546,864.7 547,865.2 548,865.7 549,866.2 550,866.2 551,865 552,863.8 553,862.6 554,862 555,861.4 556,860.8 557,860.8 558,860.8 559,860.9 560,860.9 561,860.9 562,860.5 563,860.9 564,861.4 565,861.8 566,862.7 567,863.5 568,864.4 569,864.9 570,865.2 571,865.4 572,865.7 573,866 574,866.2 575,866.4 576,866.6 577,867.4 578,868.7 579,870 580,871.3 581,872.5 582,873.3 583,873.3 584,873.3 585,873.3 586,873.7 587,872.4 588,871 589,869.7 590,868 591,867.4 592,866.7 593,866.1 594,865.9 595,865.8 596,865.6 597,867.4 598,868.5 599,869.5 600,870.6 601,871.6 602,872.1 603,872.6 604,873.1 605,873.6 606,870.2 607,866.8 608,863.4 609,860 610,860.3 611,860.6 612,861 613,861.3 614,861.9 615,862.5 616,863.2 617,863.8 618,864.3 619,864.7 620,865.2 621,866.5 622,867.9 623,869.2 624,870.5 625,871.8 626,870.5 627,869.2 628,867.9 629,866.5 630,865.3 631,865.3 632,865.3 633,865.3 634,865.4 635,865.4 636,865.5 637,865 638,864.9 639,864.7 640,864.6 641,864.4 642,863.7 643,863.4 644,863.2 645,863 646,863 647,862.9 648,862.9 649,862.9 650,863 651,863.8 652,864.5 653,865.3 654,865.8 655,866.4 656,866.9 657,867.3 658,867.9 659,868.5 660,869.2 661,869.8 662,870.5 663,871.3 664,872.1 665,873 666,873.4 667,873.9 668,874.3 669,874.6 670,875 671,875.4 672,875.8 673,874.4 674,873.1 675,871.9 676,870.6 677,869.4 678,868 679,867.9 680,867.7 681,867.5 682,867.2 683,867 684,866.7 685,867.9 686,869.2 687,870.5 688,871.8 689,873 690,874.6 691,875.2 692,875.7 693,876.2 694,876.3 695,872.7 696,869.1 697,865.5 698,861.9 699,862.4 700,863 701,863.5 702,864.4 703,865.4 704,866.3 705,866.9 706,867.3 707,867.7 708,868.1 709,868.5 710,868.7 711,870.5 712,872.3 713,874.2 714,875.9 715,874.5 716,873 717,871.6 718,870.7 719,869.8 720,868.9 721,868.8 722,868.5 723,868.2 724,867.9 725,867.6 726,867.4 727,867.8 728,868.3 729,868.7 730,868.8 731,868.8" fill="none" stroke="#262626" stroke-width="1.4" stroke-linejoin="round" stroke-linecap="round"/>
<line x1="205.7" y1="969.8" x2="737" y2="971.3" stroke="#2a2a2a" stroke-width="1.8"/>
<path d="M205.7,984.3 206.5,984.5 207.3,984.6 208.1,985 208.9,985.5 209.7,985.4 210.5,985.2 211.3,986.1 212.1,987.8 212.9,989 213.7,989.5 214.5,990 215.3,990.4 216.1,990.5 216.9,989.3 217.7,988.5 218.5,990.4 219.3,992.5 220.1,993.4 220.9,994.3 221.7,995.1 222.5,995.9 223.3,996.1 224.1,995.1 224.9,994.2 225.7,993.4 226.5,992.1 227.3,990.2 228.1,988.8 228.9,988.5 229.7,987.9 230.5,986.2 231.3,984.9 232.1,986.2 232.9,989.9 233.7,990 234.5,990.2 235.3,992 236.1,993.6 236.9,994.6 237.7,996 238.5,996.3 239.3,995.7 240.1,995 240.9,993.4 241.7,991.9 242.5,990.2 243.3,988.3 244.1,985.8 244.9,983.7 245.7,985 246.5,986.4 247.3,985.1 248.1,983.9 248.9,983.8 249.7,984 250.5,983.4 251.3,982.8 252.1,983.3 252.9,984.4 253.7,986.1 254.5,988.4 255.3,990.3 256.1,991.7 256.9,991.3 257.7,989.3 258.5,987.5 259.3,987 260.1,986.5 260.9,986.3 261.7,986 262.5,986 263.3,985.8 264.1,984.6 264.9,982.9 265.7,981.6 266.5,980.6 267.3,980.2 268.1,980.5 268.9,981 269.7,981 270.5,980.9 271.3,980.4 272.1,980.2 272.9,981.9 273.7,983.6 274.5,983 275.3,982.3 276.1,983.3 276.9,984 277.7,984.6 278.5,985.2 279.3,985.9 280.1,986.6 280.9,987.2 281.7,987.7 282.5,987.8 283.3,987.1 284.1,986.3 284.9,986.4 285.7,986.5 286.5,986 287.3,985.5 288.1,984 288.9,982.6 289.7,983.6 290.5,985.3 291.3,984.8 292.1,983.5 292.9,983.9 293.7,985.2 294.5,985.7 295.3,985.5 296.1,985.8 296.9,986.5 297.7,987.1 298.5,986.9 299.3,986.5 300.1,984.6 300.9,983.6 301.7,985.7 302.5,987.7 303.3,988.5 304.1,989.1 304.9,988.9 305.7,988.3 306.5,989 307.3,990.5 308.1,992.1 308.9,993.8 309.7,994.1 310.5,994 311.3,993.5 312.1,991.5 312.9,989.8 313.7,990.9 314.5,991.9 315.3,990.7 316.1,989.5 316.9,988.2 317.7,986.8 318.5,986.2 319.3,986 320.1,986.6 320.9,987.7 321.7,988.3 322.5,988.5 323.3,989 324.1,990.1 324.9,991.2 325.7,992.7 326.5,993.6 327.3,994.3 328.1,995 328.9,995 329.7,995 330.5,994.7 331.3,994.3 332.1,993 332.9,991.5 333.7,991.9 334.5,993.3 335.3,994.1 336.1,994.2 336.9,994.2 337.7,993.7 338.5,993.4 339.3,993 340.1,992.9 340.9,994.7 341.7,996.5 342.5,996.5 343.3,996.5 344.1,995.7 344.9,994.8 345.7,995.8 346.5,996.9 347.3,996.2 348.1,994.6 348.9,993.2 349.7,992.2 350.5,991.8 351.3,992.2 352.1,992.4 352.9,991.9 353.7,991.3 354.5,990.9 355.3,990.6 356.1,990.7 356.9,990.7 357.7,991.2 358.5,991.8 359.3,991.7 360.1,991.5 360.9,990.3 361.7,988.5 362.5,988.7 363.3,990.8 364.1,991.8 364.9,990.9 365.7,990.7 366.5,992.5 367.3,994 368.1,993.8 368.9,993.6 369.7,992.4 370.5,991.2 371.3,992.4 372.1,994.1 372.9,994.6 373.7,994.7 374.5,994.4 375.3,994 376.1,993.3 376.9,992.4 377.7,992.3 378.5,993.4 379.3,994.2 380.1,994.7 380.9,995.2 381.7,994.6 382.5,994 383.3,993.6 384.1,993.4 384.9,993.2 385.7,992.9 386.5,994.9 387.3,997.6 388.1,998.8 388.9,997.5 389.7,995.6 390.5,993.1 391.3,991.5 392.1,991.3 392.9,991.6 393.7,991.4 394.5,991.3 395.3,991.2 396.1,991.1 396.9,990.8 397.7,990.5 398.5,988.3 399.3,985.9 400.1,985 400.9,984.4 401.7,983.8 402.5,983.1 403.3,981.6 404.1,979.2 404.9,976.9" fill="none" stroke="#0e0e0e" stroke-width="2" stroke-linejoin="round" stroke-linecap="round"/>
<path d="M479.4,991.1 480.2,990.3 481,989.4 481.8,987.7 482.6,985.8 483.4,986.8 484.2,989.7 485,992.5 485.8,995.1 486.6,994.8 487.4,993.2 488.2,992.1 489,992.1 489.8,991.8 490.6,992.4 491.4,993.4 492.2,993.4 493,993.3 493.8,995.8 494.6,996.7 495.4,994.6 496.2,992.1 497,991.2 497.8,990.8 498.6,991.6 499.4,992.8 500.2,993.7 501,994.3 501.8,995.3 502.6,995.7 503.4,995.7 504.2,995.4 505,995 505.8,994 506.6,992.9 507.4,993 508.2,993.5 509,993.6 509.8,993.6 510.6,994.2 511.4,995.1 512.2,995 513,994.3 513.8,994.4 514.6,995.3 515.4,995.5 516.2,994.6 517,994 517.8,994.4 518.6,994.9 519.4,996.1 520.2,997.1 521,996.4 521.8,995.7 522.6,994.6 523.4,993.4 524.2,992.1 525,990.8 525.8,990.5 526.6,991.3 527.4,991.8 528.2,991.9 529,991.9 529.8,991.7 530.6,991.6 531.4,991.5 532.2,991.1 533,989.4 533.8,987.8 534.6,986.5 535.4,985.1 536.2,985.5 537,985.9 537.8,984.7 538.6,983.1 539.4,981.6 540.2,981.5 541,984.6 541.8,987.3 542.6,990.4 543.4,992 544.2,991.7 545,992.6 545.8,993 546.6,990.8 547.4,989.5 548.2,991.4 549,993.4 549.8,994.1 550.6,994.6 551.4,996 552.2,997.6 553,997.3 553.8,995.9 554.6,995.8 555.4,997 556.2,997.4 557,996.4 557.8,995.7 558.6,996.2 559.4,996.3 560.2,994.6 561,993.8 561.8,994.9 562.6,996 563.4,995.8 564.2,995.4 565,995.3 565.8,995.3 566.6,995.3 567.4,995.5 568.2,994.9 569,993.6 569.8,992.9 570.6,993.3 571.4,993.3 572.2,992 573,991.1 573.8,992.3 574.6,993.5 575.4,991.9 576.2,990.3 577,989.3 577.8,988.5 578.6,989.4 579.4,990.9 580.2,991.9 581,992.6 581.8,993.1 582.6,990.6 583.4,983.2 584.2,1006.4 585,993.1 585.8,989.4 586.6,990 587.4,991.5 588.2,992.3 589,990.9 589.8,989.1 590.6,987.7 591.4,986.5 592.2,986.3 593,987.8 593.8,989.9 594.6,991 595.4,992.9 596.2,995.7 597,997.8 597.8,998.5 598.6,997.9 599.4,996.9 600.2,995.6 601,992.3 601.8,989 602.6,988 603.4,987 604.2,985.7 605,986.5 605.8,987.7 606.6,989.7 607.4,991.9 608.2,994.1 609,996.5 609.8,998.2 610.6,996.9 611.4,995 612.2,993.1 613,991.2 613.8,989.5 614.6,988.1 615.4,987.1 616.2,988.2 617,989.2 617.8,990.3 618.6,991.5 619.4,993.7 620.2,996.2 621,997.6 621.8,995.7 622.6,993.8 623.4,992 624.2,989.8 625,987.3 625.8,984.8 626.6,982.7 627.4,983.9 628.2,985.2 629,986.5 629.8,988.9 630.6,992.2 631.4,995.6 632.2,998.9 633,997.4 633.8,995.5 634.6,994.5 635.4,994 636.2,992.8 637,990.9 637.8,989.4 638.6,991.2 639.4,992.4 640.2,991.8 641,991.5 641.8,993.2 642.6,995.4 643.4,996.3 644.2,994.3 645,993.1 645.8,992.1 646.6,990.8 647.4,989.9 648.2,989.6 649,989.9 649.8,991.7 650.6,993.3 651.4,994.2 652.2,994.4 653,994.6 653.8,995.3 654.6,995.2 655.4,994.5 656.2,993.8 657,994.5 657.8,995.2 658.6,995.5 659.4,995.7 660.2,995.2 661,994.5 661.8,994.1 662.6,993.9 663.4,993.4 664.2,992.6 665,992.2 665.8,992.6 666.6,992.7 667.4,991.6 668.2,990.6 669,989.9 669.8,989.2 670.6,990.5 671.4,991.8 672.2,989.3 673,979.4 673.8,1004.7 674.6,995.5 675.4,990.8 676.2,993.4 677,995.7 677.8,995.9 678.6,993.9 679.4,992.2 680.2,990.9 681,990.7 681.8,990.3 682.6,988.5 683.4,988.2 684.2,989.9 685,991.5 685.8,993.8 686.6,996.2 687.4,998.9 688.2,1001.4 689,1000.7 689.8,997 690.6,993.9 691.4,991.3 692.2,988.9 693,986.9 693.8,985.2 694.6,985.4 695.4,987.6 696.2,988.2 697,989.4 697.8,992.8 698.6,996.2 699.4,998.4 700.2,999.5 701,998.3 701.8,997.3 702.6,995.5 703.4,993.4 704.2,991.3 705,988.8 705.8,987.2 706.6,988.9 707.4,990.7 708.2,993 709,995.2 709.8,996.4 710.6,997.7 711.4,998.2 712.2,995.7 713,994.5 713.8,993.5 714.6,990.7 715.4,987.3 716.2,985.3 717,984.4 717.8,986.4 718.6,988.2 719.4,989.6 720.2,990.5 721,992.2 721.8,994.1 722.6,996.2 723.4,995.4 724.2,994.6 725,995.5 725.8,996.3 726.6,993.7 727.4,990.2 728.2,985.8 729,984.3 729.8,986.1 730.6,989.1 731.4,992.6 732.2,996.8" fill="none" stroke="#0e0e0e" stroke-width="2" stroke-linejoin="round" stroke-linecap="round"/>
<path d="M405.8,976 406.4,992 407.2,978 408.4,975.5 409.5,978" fill="none" stroke="#111" stroke-width="1.8" stroke-linejoin="round" stroke-linecap="round"/>
<path d="M409.5,978 409.9,1070.5 411.8,1073 412.1,1097 418.4,1097.3 418.7,1054.5 419.2,1054.5 419.6,1108 434.2,1108 434.6,1059 436.7,1059 437.1,1101.4 445.5,1101.4 445.8,1046.5" fill="none" stroke="#4a4a4a" stroke-width="1.35" stroke-linejoin="miter"/>
<line x1="418.9" y1="1054.5" x2="418.9" y2="1100" stroke="#111" stroke-width="2.0"/>
<path d="M445.8,1046.5 447,1044 448,1036 449,1040 450,1028 451.3,1024 452.2,1030 453.5,1026 454.8,1036 455.8,1030 456.9,1033 457.6,1020 458.6,1012 459.4,1018 460.4,1004 461.4,1001.5 462.4,1008 463.4,1000 464.6,996 466,1000 467.4,992 468.8,995 470.3,990.5 471.5,994 472.8,988 473.8,983 474.5,971 475.1,970 475.7,984 476.6,996 477.6,987 478.6,992" fill="none" stroke="#0e0e0e" stroke-width="2.3" stroke-linejoin="round" stroke-linecap="round"/>
<line x1="435.6" y1="1060" x2="435.6" y2="1100" stroke="#8a8a8a" stroke-width="2.4"/>
<text transform="translate(365.5,1067) rotate(-90)" font-size="15" fill="#5a5a5a" style="font-weight:normal" textLength="54" lengthAdjust="spacingAndGlyphs">Fenil 5mcg/kg</text>
<line x1="369" y1="1010" x2="369" y2="1116" stroke="#bdbdbd" stroke-width="0.9" stroke-dasharray="2.5 1.5"/>
<path d="M357.8,1067.7 L369.4,1079.6 L363.8,1079.6 L363.8,1114.8 L351.9,1114.8 L351.9,1079.6 L346.5,1079.6Z" fill="#000"/>
<rect x="5.5" y="1178.8" width="733.8" height="567.7" rx="2.5" fill="none" stroke="#000" stroke-width="5.7"/>
<text x="144.7" y="1217.8" font-size="20.7" textLength="41.2" lengthAdjust="spacingAndGlyphs" fill="#000">200</text>
<text x="144.7" y="1309.7" font-size="20.7" textLength="41.2" lengthAdjust="spacingAndGlyphs" fill="#000">100</text>
<text x="151.2" y="1376" font-size="20.7" textLength="27.9" lengthAdjust="spacingAndGlyphs" fill="#000">40</text>
<text x="144.7" y="1420.5" font-size="20.7" textLength="41.2" lengthAdjust="spacingAndGlyphs" fill="#000">180</text>
<text x="144.7" y="1502.9" font-size="20.7" textLength="41.2" lengthAdjust="spacingAndGlyphs" fill="#000">100</text>
<text x="151.2" y="1556.1" font-size="20.7" textLength="27.9" lengthAdjust="spacingAndGlyphs" fill="#000">40</text>
<text x="144.7" y="1594.4" font-size="20.7" textLength="41.2" lengthAdjust="spacingAndGlyphs" fill="#000">400</text>
<text x="144.7" y="1659.8" font-size="20.7" textLength="41.2" lengthAdjust="spacingAndGlyphs" fill="#000">200</text>
<text x="157.5" y="1716.8" font-size="20.7" textLength="15.1" lengthAdjust="spacingAndGlyphs" fill="#000">0</text>
<text x="43.1" y="1273.2" font-size="24.1" textLength="45.8" lengthAdjust="spacingAndGlyphs" fill="#000">PAP</text>
<text x="17.5" y="1309.1" font-size="24.9" textLength="96.9" lengthAdjust="spacingAndGlyphs" fill="#000">(mmHg)</text>
<text x="37.2" y="1471.9" font-size="23.8" textLength="57.6" lengthAdjust="spacingAndGlyphs" fill="#000">MAP</text>
<text x="17.5" y="1503.9" font-size="24.6" textLength="96.9" lengthAdjust="spacingAndGlyphs" fill="#000">(mmHg)</text>
<text x="48.6" y="1636.4" font-size="23.5" textLength="34.8" lengthAdjust="spacingAndGlyphs" fill="#000">HR</text>
<text x="29.5" y="1668.3" font-size="25.5" textLength="73" lengthAdjust="spacingAndGlyphs" fill="#000">(bpm)</text>
<text x="373.2" y="1217.9" font-size="31.9" textLength="242.6" lengthAdjust="spacingAndGlyphs" fill="#000">VITD 250 IU/day</text>
<text x="659.9" y="1701.3" font-size="26.1" textLength="27.5" lengthAdjust="spacingAndGlyphs" fill="#000">5s</text>
<path d="M40.1,1673.9 41.7,1676.1 43.3,1673.9 44.9,1676.1 46.5,1673.9 48.1,1676.1 49.7,1673.9 51.3,1676.1 52.9,1673.9 54.5,1676.1 56.1,1673.9 57.7,1676.1 59.3,1673.9 60.9,1676.1 62.5,1673.9 64.1,1676.1 65.7,1673.9 67.3,1676.1 68.9,1673.9 70.5,1676.1 72.1,1673.9 73.7,1676.1 75.3,1673.9 76.9,1676.1 78.5,1673.9 80.1,1676.1 81.7,1673.9 83.3,1676.1 84.9,1673.9 86.5,1676.1 88.1,1673.9 89.7,1676.1 91.3,1673.9 92.9,1676.1" fill="none" stroke="#e32227" stroke-width="1.15"/>
<rect x="660.4" y="1714.9" width="28.4" height="6" fill="#000"/>
<circle cx="336.6" cy="1212" r="0.9" fill="#c8c8c8"/>
<circle cx="336.6" cy="1357" r="0.9" fill="#c8c8c8"/>
<circle cx="336.6" cy="1420" r="0.9" fill="#c8c8c8"/>
<circle cx="336.6" cy="1475" r="0.9" fill="#c8c8c8"/>
<circle cx="336.6" cy="1510" r="0.9" fill="#c8c8c8"/>
<circle cx="336.6" cy="1547" r="0.9" fill="#c8c8c8"/>
<circle cx="336.6" cy="1588" r="0.9" fill="#c8c8c8"/>
<circle cx="336.6" cy="1628" r="0.9" fill="#c8c8c8"/>
<circle cx="209.5" cy="1718.3" r="0.9" fill="#c6c6c6"/>
<circle cx="238" cy="1718.3" r="0.9" fill="#c6c6c6"/>
<circle cx="272" cy="1718.3" r="0.9" fill="#c6c6c6"/>
<circle cx="304" cy="1718.3" r="0.9" fill="#c6c6c6"/>
<circle cx="371.5" cy="1718.3" r="0.9" fill="#c6c6c6"/>
<circle cx="404" cy="1718.3" r="0.9" fill="#c6c6c6"/>
<circle cx="436" cy="1718.3" r="0.9" fill="#c6c6c6"/>
<circle cx="470" cy="1718.3" r="0.9" fill="#c6c6c6"/>
<circle cx="503" cy="1718.3" r="0.9" fill="#c6c6c6"/>
<circle cx="535" cy="1718.3" r="0.9" fill="#c6c6c6"/>
<circle cx="568" cy="1718.3" r="0.9" fill="#c6c6c6"/>
<circle cx="600" cy="1718.3" r="0.9" fill="#c6c6c6"/>
<circle cx="632.5" cy="1718.3" r="0.9" fill="#c6c6c6"/>
<circle cx="705" cy="1718.3" r="0.9" fill="#c6c6c6"/>
<circle cx="729" cy="1718.3" r="0.9" fill="#c6c6c6"/>
<circle cx="209.5" cy="1376.3" r="0.8" fill="#d6d6d6"/>
<circle cx="336.6" cy="1376.3" r="0.8" fill="#d6d6d6"/>
<circle cx="474" cy="1376.3" r="0.8" fill="#d6d6d6"/>
<circle cx="606" cy="1376.3" r="0.8" fill="#d6d6d6"/>
<path d="M209.1,1261.6 209.7,1262.8 210.3,1263.9 210.9,1264.6 211.5,1264.9 212.1,1265.1 212.7,1266.4 213.3,1267.3 213.9,1267.2 214.5,1267.6 215.1,1267.6 215.7,1267.5 216.3,1267.7 216.9,1267.7 217.5,1267.6 218.1,1266.8 218.7,1265.4 219.3,1265.9 219.9,1266.3 220.5,1266.7 221.1,1266.5 221.7,1265.3 222.3,1264.5 222.9,1264.2 223.5,1263.8 224.1,1264.5 224.7,1264.4 225.3,1263.9 225.9,1263.9 226.5,1263.5 227.1,1263.4 227.7,1263.4 228.3,1263.2 228.9,1263.1 229.5,1262.7 230.1,1262.1 230.7,1261.9 231.3,1261.7 231.9,1261.4 232.5,1261 233.1,1260.4 233.7,1261 234.3,1261.4 234.9,1261.6 235.5,1261.6 236.1,1261.4 236.7,1262 237.3,1262.1 237.9,1260.8 238.5,1261.5 239.1,1260.5 239.7,1259.7 240.3,1260.7 240.9,1259.8 241.5,1260.4 242.1,1261.5 242.7,1261.4 243.3,1262.4 243.9,1263.2 244.5,1263.9 245.1,1264.1 245.7,1263.1 246.3,1263.3 246.9,1264 247.5,1264.3 248.1,1264.2 248.7,1264.2 249.3,1264.2 249.9,1263.8 250.5,1262.8 251.1,1263.5 251.7,1264.4 252.3,1264.5 252.9,1264.3 253.5,1264.2 254.1,1264.4 254.7,1265.1 255.3,1265.6 255.9,1265.9 256.5,1266.1 257.1,1266.3 257.7,1266.7 258.3,1267 258.9,1267.3 259.5,1267.3 260.1,1266.8 260.7,1267.7 261.3,1267.9 261.9,1266 262.5,1265.5 263.1,1264.9 263.7,1265.1 264.3,1265.9 264.9,1265.7 265.5,1265.2 266.1,1264.7 266.7,1263.9 267.3,1265.8 267.9,1265.9 268.5,1265.5 269.1,1266.4 269.7,1266.5 270.3,1266.8 270.9,1266.5 271.5,1265 272.1,1266.4 272.7,1267.3 273.3,1267.4 273.9,1267 274.5,1266.6 275.1,1266.2 275.7,1265.9 276.3,1265.6 276.9,1265.3 277.5,1265.2 278.1,1265 278.7,1264.9 279.3,1264.8 279.9,1265.2 280.5,1265.1 281.1,1264.2 281.7,1264.4 282.3,1264.6 282.9,1265.2 283.5,1265.9 284.1,1265.3 284.7,1265.2 285.3,1265.7 285.9,1266 286.5,1266.2 287.1,1266.2 287.7,1266.2 288.3,1266.2 288.9,1266.1 289.5,1266.2 290.1,1266.3 290.7,1266.4 291.3,1267.2 291.9,1266.8 292.5,1266.7 293.1,1267.9 293.7,1267.1 294.3,1266.4 294.9,1266.1 295.5,1265.9 296.1,1265.4 296.7,1264.8 297.3,1264.7 297.9,1265.4 298.5,1266 299.1,1266.5 299.7,1266.9 300.3,1267.3 300.9,1268.5 301.5,1268.1 302.1,1267.4 302.7,1268 303.3,1267.1 303.9,1267.2 304.5,1267.1 305.1,1265.9 305.7,1266.3 306.3,1266.6 306.9,1266.7 307.5,1266.6 308.1,1266.2 308.7,1266.1 309.3,1266.4 309.9,1266.8 310.5,1266.8 311.1,1266.3 311.7,1266.7 312.3,1268 312.9,1267 313.5,1267.6 314.1,1268.6 314.7,1268 315.3,1268.8 315.9,1268.8 316.5,1268.8 317.1,1269.2 317.7,1268.1 318.3,1267.4 318.9,1267.2 319.5,1267 320.1,1267.4 320.7,1267.5 321.3,1267.5 321.9,1267.3 322.5,1266.2 323.1,1266.3 323.7,1266.8 324.3,1266.8 324.9,1266.5 325.5,1265.8 326.1,1265.2 326.7,1265.4 327.3,1265.5 327.9,1265.8 328.5,1266 329.1,1266.2 329.7,1266.1 330.3,1265.9 330.9,1265.7 331.5,1265.5 332.1,1265.3 332.7,1265 333.3,1264.7 333.9,1264.5 334.5,1264.4 335.1,1264.1 335.7,1263.9 336.3,1263.9 336.9,1263.4 337.5,1263 338.1,1262.5 338.7,1261.8 339.3,1263.6 339.9,1263.6 340.5,1262.6 341.1,1262.5 341.7,1263 342.3,1263.8 342.9,1264.8 343.5,1265.7 344.1,1266.7 344.7,1267.5 345.3,1267.6 345.9,1267.1 346.5,1266.4 347.1,1267.3 347.7,1267.4 348.3,1265.5 348.9,1266.6 349.5,1267.5 350.1,1267.8 350.7,1267.8 351.3,1267.5 351.9,1268 352.5,1268.7 353.1,1269 353.7,1268.9 354.3,1268.7 354.9,1268.5 355.5,1268.3 356.1,1268.1 356.7,1268.6 357.3,1268.9 357.9,1268.5 358.5,1268.2 359.1,1267.9 359.7,1267.6 360.3,1267.1 360.9,1266.1 361.5,1266.7 362.1,1267.1 362.7,1266.1 363.3,1266.9 363.9,1267.7 364.5,1268.3 365.1,1268.8 365.7,1268.4 366.3,1268.1 366.9,1267.7 367.5,1267.1 368.1,1266.7 368.7,1266.3 369.3,1266.1 369.9,1266.2 370.5,1266 371.1,1266.2 371.7,1266.6 372.3,1267 372.9,1267.3 373.5,1267.1 374.1,1266.7 374.7,1267 375.3,1267.4 375.9,1267.7 376.5,1268 377.1,1267.9 377.7,1267.7 378.3,1267.4 378.9,1267.4 379.5,1267.6 380.1,1267.6 380.7,1267.2 381.3,1266.8 381.9,1266.4 382.5,1266.9 383.1,1267.4 383.7,1267.8 384.3,1268.1 384.9,1268.3 385.5,1268.9 386.1,1269.3 386.7,1269.3 387.3,1269 387.9,1268.7 388.5,1268.7 389.1,1268.9 389.7,1268.6 390.3,1268.3 390.9,1268.3 391.5,1268.2 392.1,1268.2 392.7,1268 393.3,1267.9 393.9,1267.7 394.5,1267.2 395.1,1267.2 395.7,1267.4 396.3,1267.5 396.9,1267.5 397.5,1267.7 398.1,1268.2 398.7,1268.6 399.3,1269.1 399.9,1269.5 400.5,1269.9 401.1,1270.3 401.7,1269.8 402.3,1269.2 402.9,1268.5 403.5,1268.2 404.1,1267.9 404.7,1268.6 405.3,1269.4 405.9,1269.6 406.5,1269.9 407.1,1269.9 407.7,1269.8 408.3,1269.6 408.9,1269.4 409.5,1270.2 410.1,1270.2 410.7,1268.4 411.3,1269 411.9,1269.2 412.5,1268.9 413.1,1268.6 413.7,1268.7 414.3,1268.9 414.9,1268.8 415.5,1268.2 416.1,1269 416.7,1269.5 417.3,1269.6 417.9,1269.6 418.5,1269.5 419.1,1269.5 419.7,1269 420.3,1267.7 420.9,1267.8 421.5,1267.8 422.1,1267.6 422.7,1267.3 423.3,1267.1 423.9,1267.2 424.5,1267.3 425.1,1267.4 425.7,1267.4 426.3,1267.5 426.9,1267.7 427.5,1268.4 428.1,1268.9 428.7,1269.2 429.3,1269.3 429.9,1269.1 430.5,1269.5 431.1,1269.9 431.7,1270.3 432.3,1270.7 432.9,1270.8 433.5,1270.8 434.1,1270.4 434.7,1269.3 435.3,1268.8 435.9,1267.8 436.5,1267 437.1,1266.1 437.7,1264.1 438.3,1261.6 438.9,1259.7 439.5,1259.7 440.1,1260.3 440.7,1260.7 441.3,1260.9 441.9,1261.2 442.5,1261.4 443.1,1261.8 443.7,1262.3 444.3,1262.7 444.9,1262.8 445.5,1261.9 446.1,1261.6 446.7,1262.7 447.3,1262.9 447.9,1262.8 448.5,1262.6 449.1,1262.1 449.7,1262.7 450.3,1262.3 450.9,1262.1 451.5,1263.7 452.1,1264.5 452.7,1264.8 453.3,1265 453.9,1264.8 454.5,1264.7 455.1,1264.4 455.7,1264.1 456.3,1264 456.9,1263.9 457.5,1264 458.1,1263.8 458.7,1263.1 459.3,1264.7 459.9,1265.4 460.5,1265.6 461.1,1266 461.7,1265.8 462.3,1266 462.9,1266 463.5,1265.3 464.1,1265.7 464.7,1265.9 465.3,1266.2 465.9,1266.6 466.5,1266.9 467.1,1267 467.7,1267 468.3,1266.9 468.9,1268 469.5,1268.4 470.1,1268.4 470.7,1267.9 471.3,1267.1 471.9,1267.1 472.5,1266.4 473.1,1264 473.7,1265.4 474.3,1266.6 474.9,1267.6 475.5,1268.3 476.1,1268.3 476.7,1269 477.3,1269.4 477.9,1268.5 478.5,1267.7 479.1,1266.9 479.7,1266.6 480.3,1267 480.9,1266.9 481.5,1266.9 482.1,1267.1 482.7,1267.2 483.3,1267.3 483.9,1267.4 484.5,1268 485.1,1268.8 485.7,1267.4 486.3,1267.5 486.9,1267.3 487.5,1265.7 488.1,1264.9 488.7,1264.1 489.3,1263.6 489.9,1263.9 490.5,1264.2 491.1,1265.3 491.7,1265.6 492.3,1264.4 492.9,1265.5 493.5,1265.7 494.1,1265.3 494.7,1265.4 495.3,1265.5 495.9,1265.3 496.5,1265.1 497.1,1264.7 497.7,1265.4 498.3,1265.3 498.9,1265.1 499.5,1265.6 500.1,1265.1 500.7,1265.1 501.3,1265.5 501.9,1265.6 502.5,1265.5 503.1,1265.4 503.7,1265.3 504.3,1265 504.9,1264 505.5,1264.7 506.1,1265.1 506.7,1263.7 507.3,1265.1 507.9,1265.3 508.5,1264.8 509.1,1265.2 509.7,1265.1 510.3,1264.7 510.9,1264 511.5,1263 512.1,1264 512.7,1264.3 513.3,1264.3 513.9,1265 514.5,1265 515.1,1265.5 515.7,1266.4 516.3,1267 516.9,1267.3 517.5,1267.1 518.1,1266.6 518.7,1266.7 519.3,1266.8 519.9,1266.6 520.5,1266.3 521.1,1266 521.7,1267.4 522.3,1267.8 522.9,1267.5 523.5,1267.5 524.1,1267.5 524.7,1267.4 525.3,1267.2 525.9,1267.2 526.5,1266.9 527.1,1266.5 527.7,1266.3 528.3,1266.9 528.9,1267.2 529.5,1267.3 530.1,1267.3 530.7,1267.3 531.3,1267.1 531.9,1266.9 532.5,1266.8 533.1,1267.1 533.7,1267.6 534.3,1268.7 534.9,1268.8 535.5,1267.5 536.1,1268.5 536.7,1269.4 537.3,1269.6 537.9,1268.9 538.5,1268.2 539.1,1267.7 539.7,1267.4 540.3,1267.1 540.9,1266.9 541.5,1267.1 542.1,1267.4 542.7,1267.5 543.3,1267.6 543.9,1267.8 544.5,1267.9 545.1,1267.6 545.7,1267.8 546.3,1266.7 546.9,1265.4 547.5,1265.8 548.1,1265.9 548.7,1265.8 549.3,1265.8 549.9,1266 550.5,1265.9 551.1,1265.1 551.7,1265.4 552.3,1266.8 552.9,1265.7 553.5,1264.7 554.1,1264.6 554.7,1264.5 555.3,1264.8 555.9,1265 556.5,1265.2 557.1,1264.8 557.7,1263.3 558.3,1264.1 558.9,1264.7 559.5,1263.2 560.1,1264.2 560.7,1264.7 561.3,1264.8 561.9,1264.8 562.5,1264.7 563.1,1264.7 563.7,1264.9 564.3,1265.2 564.9,1265.4 565.5,1265.6 566.1,1265.9 566.7,1266.1 567.3,1266.3 567.9,1266.7 568.5,1267.1 569.1,1267.4 569.7,1267.9 570.3,1268 570.9,1268.4 571.5,1269.4 572.1,1269.6 572.7,1270 573.3,1270.5 573.9,1270.5 574.5,1270.4 575.1,1270.2 575.7,1270.3 576.3,1270.1 576.9,1268.8 577.5,1267.9 578.1,1267.7 578.7,1267.4 579.3,1267.3 579.9,1267.1 580.5,1266.7 581.1,1266 581.7,1266.1 582.3,1267.4 582.9,1268.7 583.5,1269.2 584.1,1269.5 584.7,1269.8 585.3,1270 585.9,1269.6 586.5,1267.8 587.1,1267.7 587.7,1268.2 588.3,1267.8 588.9,1267.4 589.5,1267.3 590.1,1267.3 590.7,1267 591.3,1266.2 591.9,1267 592.5,1267.6 593.1,1266.8 593.7,1266.8 594.3,1266.8 594.9,1267.3 595.5,1267.7 596.1,1266.8 596.7,1266.8 597.3,1267.3 597.9,1267.4 598.5,1267 599.1,1266.4 599.7,1266 600.3,1266.2 600.9,1266.2 601.5,1266.3 602.1,1266.4 602.7,1266.1 603.3,1266 603.9,1265.8 604.5,1266.3 605.1,1267.3 605.7,1266.6 606.3,1266.4 606.9,1266.7 607.5,1266.8 608.1,1266.7 608.7,1266.6 609.3,1266.5 609.9,1266.3 610.5,1266.1 611.1,1265.9 611.7,1265.7 612.3,1265.4 612.9,1265.2 613.5,1265.2 614.1,1265.2 614.7,1265.1 615.3,1264.9 615.9,1265.1 616.5,1265.5 617.1,1265.8 617.7,1265.9 618.3,1265.8 618.9,1265.7 619.5,1265.6 620.1,1265.5 620.7,1265.6 621.3,1265.7 621.9,1265.6 622.5,1265.7 623.1,1265.7 623.7,1265.7 624.3,1265.4 624.9,1264.5 625.5,1265.3 626.1,1265.5 626.7,1263.6 627.3,1265.6 627.9,1265.2 628.5,1264.3 629.1,1265.6 629.7,1266.4 630.3,1267 630.9,1267.5 631.5,1267.8 632.1,1268.6 632.7,1268.6 633.3,1268.4 633.9,1268.5 634.5,1268.4 635.1,1268 635.7,1267.5 636.3,1267 636.9,1266.8 637.5,1266.3 638.1,1265.9 638.7,1266.8 639.3,1267.5 639.9,1267.9 640.5,1268.1 641.1,1268.4 641.7,1268.5 642.3,1268.4 642.9,1268.3 643.5,1268.2 644.1,1268 644.7,1267.7 645.3,1266.9 645.9,1265.5 646.5,1267.6 647.1,1267.6 647.7,1267.1 648.3,1267.9 648.9,1267 649.5,1267.6 650.1,1268.4 650.7,1267.8 651.3,1268.8 651.9,1269 652.5,1268.6 653.1,1268.5 653.7,1267.8 654.3,1268.6 654.9,1268.9 655.5,1267.7 656.1,1268.3 656.7,1268.1 657.3,1267.4 657.9,1267 658.5,1266.7 659.1,1266.7 659.7,1267 660.3,1267.2 660.9,1267.9 661.5,1268.1 662.1,1268.3 662.7,1268.7 663.3,1268.4 663.9,1268.6 664.5,1269.3 665.1,1269.9 665.7,1269.6 666.3,1269 666.9,1268.4 667.5,1268.3 668.1,1267.9 668.7,1267.4 669.3,1267 669.9,1266.8 670.5,1268.1 671.1,1268.3 671.7,1268.5 672.3,1269.3 672.9,1268.5 673.5,1268 674.1,1268.2 674.7,1268.3 675.3,1267.8 675.9,1267.1 676.5,1267.4 677.1,1268.5 677.7,1268.2 678.3,1268.7 678.9,1269.3 679.5,1268.8 680.1,1268.9 680.7,1269 681.3,1269.2 681.9,1269.6 682.5,1269.7 683.1,1269.4 683.7,1269.2 684.3,1269 684.9,1268.4 685.5,1267.3 686.1,1266.1 686.7,1265.8 687.3,1265.5 687.9,1266.1 688.5,1266.6 689.1,1266.7 689.7,1266.5 690.3,1265.8 690.9,1265.7 691.5,1267.1 692.1,1267.8 692.7,1268 693.3,1267.9 693.9,1267.4 694.5,1267 695.1,1266.4 695.7,1266.1 696.3,1266.1 696.9,1265.9 697.5,1265.8 698.1,1265.5 698.7,1264.9 699.3,1266.3 699.9,1266.2 700.5,1266 701.1,1266.9 701.7,1265.4 702.3,1265.4 702.9,1266.1 703.5,1266.2 704.1,1265.8 704.7,1265.3 705.3,1265 705.9,1265.4 706.5,1265.8 707.1,1265.9 707.7,1265.8 708.3,1265.5 708.9,1266.5 709.5,1266.2 710.1,1265.7 710.7,1266.3 711.3,1266.1 711.9,1266.2 712.5,1265.7 713.1,1264.2 713.7,1266 714.3,1266.8 714.9,1266.9 715.5,1267.4 716.1,1267.5 716.7,1267.8 717.3,1267.4 717.9,1265.9 718.5,1267.4 719.1,1268.2 719.7,1268.3 720.3,1268.3 720.9,1268.4 721.5,1268.6 722.1,1268.7 722.7,1268.7 723.3,1268.9 723.9,1269.1 724.5,1269.3 725.1,1269.5 725.7,1269.1 726.3,1268.8 726.9,1268.3 727.5,1267.7 728.1,1267.5 728.7,1267.3 729.3,1267.1 729.9,1267.2 730.5,1267.2 731.1,1268.2 731.7,1268.4 732.3,1267.1 732.9,1267.4 733.5,1267.5 733.5,1307.4 732.9,1307.1 732.3,1306.9 731.7,1306.9 731.1,1306.9 730.5,1306.7 729.9,1306.5 729.3,1307.5 728.7,1307.1 728.1,1306.5 727.5,1307 726.9,1307.6 726.3,1308.4 725.7,1308.4 725.1,1307.4 724.5,1307 723.9,1307.1 723.3,1307.1 722.7,1307.1 722.1,1305.5 721.5,1304.3 720.9,1303.9 720.3,1304.5 719.7,1305.5 719.1,1305.1 718.5,1304.6 717.9,1304.9 717.3,1305.1 716.7,1305.9 716.1,1306.4 715.5,1305.1 714.9,1304.1 714.3,1304 713.7,1304.4 713.1,1305 712.5,1304.1 711.9,1303.8 711.3,1304.2 710.7,1304.6 710.1,1305.4 709.5,1305.4 708.9,1305.5 708.3,1306 707.7,1305.8 707.1,1305.6 706.5,1305 705.9,1304.2 705.3,1304.1 704.7,1303.8 704.1,1304 703.5,1305 702.9,1303.7 702.3,1304.1 701.7,1305.3 701.1,1305.6 700.5,1306.1 699.9,1305.1 699.3,1304.2 698.7,1304.4 698.1,1304.9 697.5,1305.5 696.9,1305.3 696.3,1304.6 695.7,1305.8 695.1,1306.2 694.5,1305.7 693.9,1305.2 693.3,1304.3 692.7,1304.6 692.1,1305.5 691.5,1305.9 690.9,1306.2 690.3,1305 689.7,1304.4 689.1,1305.5 688.5,1304.7 687.9,1304.4 687.3,1304.4 686.7,1304.9 686.1,1305.9 685.5,1306.2 684.9,1306.1 684.3,1306 683.7,1305.4 683.1,1304.9 682.5,1304.7 681.9,1304.8 681.3,1304.8 680.7,1304.8 680.1,1304.7 679.5,1304.7 678.9,1304.7 678.3,1304.7 677.7,1304.8 677.1,1305 676.5,1305.5 675.9,1305.3 675.3,1304.7 674.7,1304.5 674.1,1304.5 673.5,1304.6 672.9,1304.5 672.3,1304.4 671.7,1304.8 671.1,1305.1 670.5,1305.1 669.9,1305.1 669.3,1304.7 668.7,1305.7 668.1,1306.6 667.5,1305.5 666.9,1305 666.3,1305 665.7,1305.1 665.1,1305.3 664.5,1305.7 663.9,1306.1 663.3,1306.6 662.7,1307.3 662.1,1308.4 661.5,1309 660.9,1309 660.3,1308.8 659.7,1308.6 659.1,1308.6 658.5,1308.7 657.9,1308.7 657.3,1308.8 656.7,1308.7 656.1,1308.5 655.5,1308.4 654.9,1307.9 654.3,1308 653.7,1307.8 653.1,1306.6 652.5,1307.3 651.9,1308.1 651.3,1308.6 650.7,1309.1 650.1,1308.4 649.5,1308 648.9,1307.7 648.3,1307.6 647.7,1307.9 647.1,1308 646.5,1308 645.9,1308 645.3,1308.1 644.7,1307.9 644.1,1307.5 643.5,1307.2 642.9,1307.3 642.3,1306.4 641.7,1306 641.1,1306.9 640.5,1305.5 639.9,1305.2 639.3,1305.3 638.7,1305 638.1,1305.7 637.5,1305.2 636.9,1304.7 636.3,1305.7 635.7,1305.7 635.1,1305.8 634.5,1306 633.9,1306.5 633.3,1307 632.7,1306.5 632.1,1305.9 631.5,1305.8 630.9,1306.1 630.3,1306.4 629.7,1306.8 629.1,1307.2 628.5,1307.3 627.9,1307.1 627.3,1306.8 626.7,1306.7 626.1,1306.8 625.5,1307.2 624.9,1307 624.3,1306 623.7,1306.2 623.1,1305.6 622.5,1304.6 621.9,1304.1 621.3,1303.6 620.7,1303.5 620.1,1303.6 619.5,1303.9 618.9,1304.1 618.3,1304.4 617.7,1304.7 617.1,1305 616.5,1304.4 615.9,1304.9 615.3,1305.6 614.7,1304.9 614.1,1304.5 613.5,1304.5 612.9,1304.6 612.3,1304.8 611.7,1304.9 611.1,1304.9 610.5,1305 609.9,1305.2 609.3,1305.5 608.7,1305.3 608.1,1305.1 607.5,1304.9 606.9,1304.8 606.3,1305.5 605.7,1306.5 605.1,1306.5 604.5,1306.7 603.9,1306.9 603.3,1307.1 602.7,1307.3 602.1,1306.3 601.5,1306.9 600.9,1307.8 600.3,1307.2 599.7,1306.9 599.1,1307 598.5,1307.1 597.9,1307.3 597.3,1307.3 596.7,1307.3 596.1,1307.3 595.5,1307.2 594.9,1307.2 594.3,1307.3 593.7,1307.7 593.1,1308.8 592.5,1308 591.9,1307.5 591.3,1307.3 590.7,1307.4 590.1,1307.9 589.5,1308.4 588.9,1308.7 588.3,1308.8 587.7,1307.9 587.1,1307.1 586.5,1305.8 585.9,1304.6 585.3,1305.1 584.7,1304.5 584.1,1304.5 583.5,1306.5 582.9,1305 582.3,1305.6 581.7,1307 581.1,1306.9 580.5,1306.4 579.9,1305.7 579.3,1305.3 578.7,1305.1 578.1,1304.9 577.5,1305 576.9,1305.1 576.3,1305.2 575.7,1305.3 575.1,1305.4 574.5,1305.6 573.9,1305.8 573.3,1306 572.7,1306.3 572.1,1306 571.5,1305 570.9,1304.7 570.3,1305 569.7,1305.5 569.1,1306.3 568.5,1305.1 567.9,1304.6 567.3,1304.7 566.7,1305.1 566.1,1305.8 565.5,1305.2 564.9,1304.4 564.3,1304.1 563.7,1304.1 563.1,1304.4 562.5,1304.4 561.9,1303.8 561.3,1303.7 560.7,1303.8 560.1,1304 559.5,1304.2 558.9,1304.4 558.3,1304.9 557.7,1305.1 557.1,1305 556.5,1305.5 555.9,1306.1 555.3,1306.6 554.7,1307.2 554.1,1306.7 553.5,1306.2 552.9,1305.7 552.3,1305.5 551.7,1306.4 551.1,1306.5 550.5,1305.9 549.9,1305.3 549.3,1305.2 548.7,1305.5 548.1,1305.7 547.5,1305.6 546.9,1305.6 546.3,1306 545.7,1306.5 545.1,1307.1 544.5,1307 543.9,1306.9 543.3,1306.5 542.7,1305.9 542.1,1305.9 541.5,1305.7 540.9,1306 540.3,1307.3 539.7,1305.9 539.1,1305.1 538.5,1304.9 537.9,1304.8 537.3,1304.9 536.7,1305 536.1,1305.2 535.5,1305.5 534.9,1305.9 534.3,1306.3 533.7,1306.6 533.1,1306.9 532.5,1307.2 531.9,1307.2 531.3,1306.9 530.7,1306.7 530.1,1306.1 529.5,1306.1 528.9,1306.3 528.3,1306.2 527.7,1306.3 527.1,1306.7 526.5,1307.3 525.9,1308.2 525.3,1307.3 524.7,1306.9 524.1,1307 523.5,1307 522.9,1307 522.3,1307 521.7,1307.2 521.1,1307.4 520.5,1305.9 519.9,1305 519.3,1304.6 518.7,1304.8 518.1,1305.6 517.5,1304.5 516.9,1303.5 516.3,1304.2 515.7,1304.5 515.1,1304.8 514.5,1305.2 513.9,1305.7 513.3,1306.1 512.7,1306.2 512.1,1306.6 511.5,1307.4 510.9,1306 510.3,1305.2 509.7,1305 509.1,1304.7 508.5,1304.6 507.9,1304.6 507.3,1305 506.7,1305.7 506.1,1304.1 505.5,1304.5 504.9,1305.6 504.3,1304.8 503.7,1304.3 503.1,1304.1 502.5,1304.1 501.9,1304.1 501.3,1304 500.7,1304.2 500.1,1304.5 499.5,1305.1 498.9,1306.1 498.3,1306.8 497.7,1307.3 497.1,1307.8 496.5,1306.5 495.9,1305.9 495.3,1305.8 494.7,1305.9 494.1,1306.5 493.5,1306.3 492.9,1305.8 492.3,1305.7 491.7,1306 491.1,1306.4 490.5,1306.5 489.9,1306.3 489.3,1306.7 488.7,1306.5 488.1,1306.5 487.5,1307.1 486.9,1306.2 486.3,1307 485.7,1307.7 485.1,1306.4 484.5,1306.2 483.9,1306.5 483.3,1307.1 482.7,1307.9 482.1,1307.6 481.5,1307.3 480.9,1307 480.3,1306.9 479.7,1307.7 479.1,1306.7 478.5,1306 477.9,1307.3 477.3,1305.5 476.7,1306.2 476.1,1308 475.5,1308.7 474.9,1309.3 474.3,1308.4 473.7,1307.8 473.1,1308.2 472.5,1308.3 471.9,1308.6 471.3,1308.2 470.7,1306.5 470.1,1305.7 469.5,1305.6 468.9,1305.8 468.3,1306.5 467.7,1305.5 467.1,1305.2 466.5,1305.4 465.9,1305.5 465.3,1305.6 464.7,1305.7 464.1,1305.9 463.5,1306.1 462.9,1306.1 462.3,1307.2 461.7,1308.1 461.1,1307.1 460.5,1306 459.9,1305.4 459.3,1305.5 458.7,1306.2 458.1,1305.5 457.5,1304.8 456.9,1304 456.3,1303.3 455.7,1303.1 455.1,1303 454.5,1302.9 453.9,1303 453.3,1303.1 452.7,1303 452.1,1302.7 451.5,1301.7 450.9,1300.9 450.3,1300.2 449.7,1300.3 449.1,1301.2 448.5,1300.9 447.9,1300.7 447.3,1299.7 446.7,1298.7 446.1,1300 445.5,1299.9 444.9,1298.8 444.3,1298.1 443.7,1298 443.1,1298.1 442.5,1298.2 441.9,1298.3 441.3,1298.5 440.7,1298.1 440.1,1297.5 439.5,1298.9 438.9,1300 438.3,1302.1 437.7,1304 437.1,1305.2 436.5,1307 435.9,1308.3 435.3,1308.5 434.7,1309.3 434.1,1308.5 433.5,1309.3 432.9,1310.2 432.3,1308.9 431.7,1307.9 431.1,1307.3 430.5,1307 429.9,1306.8 429.3,1306.2 428.7,1306.2 428.1,1306.5 427.5,1306.8 426.9,1307.2 426.3,1307.6 425.7,1308 425.1,1308.4 424.5,1307.7 423.9,1307.3 423.3,1307 422.7,1307.2 422.1,1307.9 421.5,1307.6 420.9,1306.9 420.3,1306.4 419.7,1306 419.1,1306.1 418.5,1306.1 417.9,1306.1 417.3,1306.7 416.7,1306.9 416.1,1306.8 415.5,1306.7 414.9,1306 414.3,1305.6 413.7,1305.3 413.1,1305.2 412.5,1305.6 411.9,1306.2 411.3,1307.1 410.7,1308.3 410.1,1307.7 409.5,1307.6 408.9,1307.8 408.3,1307.5 407.7,1307.2 407.1,1306.9 406.5,1306.5 405.9,1306.2 405.3,1305.9 404.7,1306.6 404.1,1307.2 403.5,1306.4 402.9,1306.2 402.3,1306.3 401.7,1307 401.1,1308 400.5,1306.4 399.9,1306.1 399.3,1306.1 398.7,1305.6 398.1,1306.5 397.5,1306.7 396.9,1306.3 396.3,1306.1 395.7,1305.2 395.1,1306 394.5,1306.9 393.9,1305.9 393.3,1305.6 392.7,1305.9 392.1,1306.5 391.5,1307.5 390.9,1307.4 390.3,1307.4 389.7,1307.6 389.1,1308.2 388.5,1308.2 387.9,1307.9 387.3,1307.3 386.7,1306.7 386.1,1305.2 385.5,1304.5 384.9,1304.3 384.3,1304.4 383.7,1305.8 383.1,1306.2 382.5,1305.7 381.9,1305.4 381.3,1304.9 380.7,1304.6 380.1,1304.6 379.5,1305.1 378.9,1306.1 378.3,1306 377.7,1305.5 377.1,1305.2 376.5,1305 375.9,1305.6 375.3,1306 374.7,1304.9 374.1,1304.4 373.5,1304.3 372.9,1304.8 372.3,1306.2 371.7,1306.3 371.1,1306.4 370.5,1306.2 369.9,1305.6 369.3,1305.4 368.7,1305.6 368.1,1305.8 367.5,1306.2 366.9,1306.2 366.3,1306.4 365.7,1306.6 365.1,1306.9 364.5,1306.8 363.9,1306.6 363.3,1306.3 362.7,1306.3 362.1,1306.1 361.5,1306.1 360.9,1306.1 360.3,1305.9 359.7,1306.2 359.1,1305.9 358.5,1306.2 357.9,1307.8 357.3,1306.1 356.7,1306.1 356.1,1306.6 355.5,1305.8 354.9,1305.4 354.3,1305.3 353.7,1305.2 353.1,1305 352.5,1304.7 351.9,1304.8 351.3,1304.6 350.7,1304.1 350.1,1304.8 349.5,1304.2 348.9,1303.6 348.3,1304.5 347.7,1304.6 347.1,1305.1 346.5,1305.6 345.9,1306 345.3,1306.5 344.7,1306.6 344.1,1306.4 343.5,1306.4 342.9,1306.5 342.3,1306.7 341.7,1306.5 341.1,1305.8 340.5,1305.9 339.9,1306.4 339.3,1307 338.7,1307.9 338.1,1306.9 337.5,1306.3 336.9,1305.8 336.3,1305.4 335.7,1305.1 335.1,1304.9 334.5,1304.6 333.9,1304.4 333.3,1303.9 332.7,1303.8 332.1,1304 331.5,1304.5 330.9,1305.4 330.3,1305.2 329.7,1304.5 329.1,1304 328.5,1303.8 327.9,1304.6 327.3,1305.6 326.7,1305 326.1,1304.6 325.5,1304.7 324.9,1305.1 324.3,1305.6 323.7,1303.7 323.1,1303.1 322.5,1303.6 321.9,1303.6 321.3,1303.7 320.7,1304 320.1,1304.4 319.5,1304.9 318.9,1304.8 318.3,1304.9 317.7,1305.2 317.1,1305.6 316.5,1305.4 315.9,1305.2 315.3,1305 314.7,1304.9 314.1,1304.4 313.5,1304.2 312.9,1304.1 312.3,1303.8 311.7,1303.7 311.1,1303.6 310.5,1303.9 309.9,1304.4 309.3,1303.6 308.7,1303.5 308.1,1303.8 307.5,1304.5 306.9,1305.3 306.3,1306.3 305.7,1307.2 305.1,1308.3 304.5,1306.1 303.9,1306.3 303.3,1307.2 302.7,1306 302.1,1305.4 301.5,1305.3 300.9,1305.6 300.3,1306.2 299.7,1305 299.1,1304.1 298.5,1303.7 297.9,1303.4 297.3,1303.4 296.7,1303.5 296.1,1303.7 295.5,1303.9 294.9,1304.3 294.3,1304.8 293.7,1304.6 293.1,1303.4 292.5,1302.9 291.9,1302.8 291.3,1303.2 290.7,1304.2 290.1,1303.2 289.5,1302.6 288.9,1302.5 288.3,1303 287.7,1303.6 287.1,1304 286.5,1304.4 285.9,1304.8 285.3,1305.3 284.7,1305.1 284.1,1304.6 283.5,1304.3 282.9,1304.5 282.3,1304.5 281.7,1304.3 281.1,1304.1 280.5,1303.9 279.9,1303.8 279.3,1303.5 278.7,1303.5 278.1,1304.4 277.5,1304.5 276.9,1304.3 276.3,1304.5 275.7,1304.2 275.1,1304 274.5,1303.5 273.9,1302.9 273.3,1303.4 272.7,1303.6 272.1,1303.5 271.5,1303.5 270.9,1304 270.3,1304.8 269.7,1305.2 269.1,1305 268.5,1304.3 267.9,1304.2 267.3,1304.5 266.7,1305 266.1,1304.6 265.5,1304.2 264.9,1304 264.3,1304.2 263.7,1304.5 263.1,1303.7 262.5,1302.8 261.9,1302.3 261.3,1302.2 260.7,1302.4 260.1,1302.7 259.5,1303.4 258.9,1304.5 258.3,1305.2 257.7,1305.5 257.1,1305.9 256.5,1303.9 255.9,1303.7 255.3,1304.4 254.7,1303.7 254.1,1303.2 253.5,1302.7 252.9,1302.3 252.3,1302.2 251.7,1302.1 251.1,1302.2 250.5,1301.8 249.9,1301 249.3,1301.1 248.7,1301 248.1,1300.6 247.5,1300.4 246.9,1300.4 246.3,1300.3 245.7,1300.2 245.1,1300.1 244.5,1300.4 243.9,1300.7 243.3,1301 242.7,1301.4 242.1,1301.7 241.5,1302 240.9,1302.2 240.3,1302.4 239.7,1302.5 239.1,1302.6 238.5,1302.7 237.9,1302.9 237.3,1303.1 236.7,1303.1 236.1,1302.2 235.5,1301.1 234.9,1301.9 234.3,1301.4 233.7,1300.9 233.1,1301.9 232.5,1302.9 231.9,1303.9 231.3,1304.1 230.7,1303.4 230.1,1304.3 229.5,1305.6 228.9,1306.5 228.3,1306.9 227.7,1305.6 227.1,1304.5 226.5,1304 225.9,1304.2 225.3,1304.8 224.7,1304.3 224.1,1303.6 223.5,1303.5 222.9,1303.8 222.3,1304.3 221.7,1304.9 221.1,1305.3 220.5,1306.1 219.9,1306.1 219.3,1305.8 218.7,1305.6 218.1,1305.3 217.5,1306.4 216.9,1307.3 216.3,1305.5 215.7,1304.4 215.1,1303.9 214.5,1303.4 213.9,1302.8 213.3,1302.1 212.7,1301.7 212.1,1301.5 211.5,1301.1 210.9,1300.8 210.3,1300.3 209.7,1299.9 209.1,1299.5Z" fill="#000"/>
<line x1="197.6" y1="1385" x2="737" y2="1386.4" stroke="#2a2a2a" stroke-width="1.7"/>
<path d="M209.1,1455.2 210.1,1455.7 211.1,1456.3 212.1,1456.9 213.1,1457.4 214.1,1457.8 215.1,1458.3 216.1,1458.7 217.1,1458.9 218.1,1459.2 219.1,1459.4 220.1,1459.6 221.1,1459.7 222.1,1459.8 223.1,1459.9 224.1,1460.2 225.1,1460.3 226.1,1459.3 227.1,1458.3 228.1,1457.3 229.1,1456.3 230.1,1455.3 231.1,1454.4 232.1,1454.5 233.1,1454.5 234.1,1454.4 235.1,1454.2 236.1,1454 237.1,1453.9 238.1,1454 239.1,1454.2 240.1,1454.3 241.1,1454.4 242.1,1454.5 243.1,1454.5 244.1,1454.6 245.1,1454.3 246.1,1454 247.1,1453.7 248.1,1453.6 249.1,1453.9 250.1,1454.3 251.1,1454.7 252.1,1455.2 253.1,1455.8 254.1,1456.4 255.1,1457.2 256.1,1457.9 257.1,1458.6 258.1,1459.2 259.1,1459.8 260.1,1460.4 261.1,1460 262.1,1459.7 263.1,1459.4 264.1,1459.1 265.1,1458.7 266.1,1458.3 267.1,1457.9 268.1,1457.5 269.1,1457.3 270.1,1457.3 271.1,1457.3 272.1,1457.3 273.1,1457.2 274.1,1457.2 275.1,1457.1 276.1,1457 277.1,1457 278.1,1457 279.1,1457.1 280.1,1457 281.1,1456.9 282.1,1456.8 283.1,1456.9 284.1,1457 285.1,1457.2 286.1,1457.4 287.1,1457.5 288.1,1457.7 289.1,1457.8 290.1,1457.9 291.1,1457.9 292.1,1458 293.1,1458 294.1,1458.3 295.1,1458.7 296.1,1459 297.1,1459.2 298.1,1459.3 299.1,1459.3 300.1,1459.4 301.1,1459.3 302.1,1459.2 303.1,1459.2 304.1,1459.1 305.1,1459.2 306.1,1459 307.1,1458.7 308.1,1458.8 309.1,1458.8 310.1,1458.9 311.1,1458.7 312.1,1458.4 313.1,1458 314.1,1457.7 315.1,1458 316.1,1458.3 317.1,1458.6 318.1,1459 319.1,1459.5 320.1,1460 321.1,1460.5 322.1,1460.8 323.1,1460.7 324.1,1460.6 325.1,1460.4 326.1,1460.2 327.1,1460 328.1,1459.8 329.1,1459.9 330.1,1459.9 331.1,1460 332.1,1459.9 333.1,1459.4 334.1,1458.8 335.1,1458.3 336.1,1457.7 337.1,1457.1 338.1,1456.6 339.1,1456 340.1,1455.3 341.1,1454.8 342.1,1455.5 343.1,1456.6 344.1,1457.6 345.1,1458.7 346.1,1459.5 347.1,1459.7 348.1,1459.8 349.1,1459.9 350.1,1460.1 351.1,1460.3 352.1,1460.5 353.1,1460.4 354.1,1460.4 355.1,1460.3 356.1,1460.3 357.1,1460.2 358.1,1460.1 359.1,1460 360.1,1459.9 361.1,1459.9 362.1,1459.8 363.1,1459.7 364.1,1459.8 365.1,1459.8 366.1,1459.8 367.1,1459.8 368.1,1459.9 369.1,1459.9 370.1,1459.9 371.1,1459.8 372.1,1459.7 373.1,1459.6 374.1,1459.5 375.1,1459.3 376.1,1459.1 377.1,1458.9 378.1,1458.9 379.1,1459 380.1,1459 381.1,1459 382.1,1459 383.1,1459 384.1,1459 385.1,1458.9 386.1,1458.8 387.1,1458.8 388.1,1458.8 389.1,1459.2 390.1,1459.6 391.1,1460.1 392.1,1460.5 393.1,1460.9 394.1,1461.4 395.1,1461.7 396.1,1462 397.1,1462.3 398.1,1462.5 399.1,1462.1 400.1,1461.8 401.1,1461.5 402.1,1461.1 403.1,1460.7 404.1,1460.4 405.1,1460 406.1,1459.5 407.1,1459.3 408.1,1459.1 409.1,1458.9 410.1,1458.8 411.1,1458.7 412.1,1458.6 413.1,1458.7 414.1,1458.8 415.1,1459 416.1,1459.2 417.1,1459.3 418.1,1459.5 419.1,1459.6 420.1,1459.7 421.1,1460 422.1,1460.4 423.1,1460.7 424.1,1461.1 425.1,1461.4 426.1,1461.8 427.1,1461.9 428.1,1462 429.1,1462.1 430.1,1462.4 431.1,1462.8 432.1,1463.2 433.1,1463.7 434.1,1463.7 435.1,1462.5 436.1,1461.3 437.1,1460.2 438.1,1459 439.1,1457.4 440.1,1455.9 441.1,1454 442.1,1452.4 443.1,1452.6 444.1,1452.9 445.1,1453.3 446.1,1453.8 447.1,1454.2 448.1,1454.8 449.1,1455.4 450.1,1456 451.1,1456.5 452.1,1456.8 453.1,1457.2 454.1,1457.5 455.1,1458 456.1,1458.5 457.1,1458.9 458.1,1459.2 459.1,1459.5 460.1,1459.8 461.1,1460.2 462.1,1460.4 463.1,1460.5 464.1,1460.3 465.1,1460 466.1,1459.9 467.1,1459.7 468.1,1459.6 469.1,1459.9 470.1,1460.2 471.1,1460.6 472.1,1460.8 473.1,1461 474.1,1461.2 475.1,1461.3 476.1,1461 477.1,1460.7 478.1,1460.4 479.1,1460.2 480.1,1459.9 481.1,1459.7 482.1,1459.5 483.1,1459.5 484.1,1459.6 485.1,1459.6 486.1,1459.6 487.1,1459.4 488.1,1459.2 489.1,1459.1 490.1,1459 491.1,1458.8 492.1,1458.6 493.1,1458.5 494.1,1458.5 495.1,1458.5 496.1,1458.5 497.1,1458.3 498.1,1458.1 499.1,1457.9 500.1,1457.7 501.1,1457.5 502.1,1457.3 503.1,1457.1 504.1,1456.8 505.1,1456.4 506.1,1456.1 507.1,1455.9 508.1,1455.8 509.1,1455.7 510.1,1455.8 511.1,1456.1 512.1,1456.4 513.1,1456.7 514.1,1457.1 515.1,1457.4 516.1,1457.7 517.1,1458 518.1,1458.5 519.1,1459 520.1,1459.5 521.1,1459.5 522.1,1459.5 523.1,1459.5 524.1,1459.4 525.1,1459.5 526.1,1459.5 527.1,1459.6 528.1,1459.6 529.1,1459.6 530.1,1459.6 531.1,1459.8 532.1,1459.9 533.1,1460 534.1,1460.2 535.1,1460.3 536.1,1460.5 537.1,1460.6 538.1,1460.8 539.1,1461.2 540.1,1461.5 541.1,1461.4 542.1,1461 543.1,1460.4 544.1,1459.7 545.1,1459.1 546.1,1458.9 547.1,1458.7 548.1,1458.5 549.1,1458.1 550.1,1457.5 551.1,1456.9 552.1,1456.4 553.1,1456.3 554.1,1456.2 555.1,1456.1 556.1,1455.8 557.1,1456.1 558.1,1456.3 559.1,1456.5 560.1,1457.1 561.1,1457.7 562.1,1458.3 563.1,1458.8 564.1,1459.1 565.1,1459.5 566.1,1459.8 567.1,1460.2 568.1,1460.7 569.1,1461.1 570.1,1461.4 571.1,1461.4 572.1,1461.5 573.1,1461.5 574.1,1462 575.1,1462.3 576.1,1462.2 577.1,1461.9 578.1,1461.4 579.1,1460.9 580.1,1460.5 581.1,1460.2 582.1,1460 583.1,1459.7 584.1,1459.4 585.1,1459.1 586.1,1459 587.1,1459 588.1,1459 589.1,1459.1 590.1,1459.1 591.1,1459.2 592.1,1459.3 593.1,1459.3 594.1,1459.4 595.1,1459.3 596.1,1459.4 597.1,1459.6 598.1,1459.8 599.1,1460 600.1,1460.3 601.1,1460.5 602.1,1460.6 603.1,1460.7 604.1,1460.8 605.1,1460.8 606.1,1460.3 607.1,1459.7 608.1,1459.2 609.1,1459 610.1,1458.9 611.1,1458.7 612.1,1458.3 613.1,1457.6 614.1,1456.9 615.1,1456.3 616.1,1455.9 617.1,1455.6 618.1,1455.4 619.1,1455.9 620.1,1456.4 621.1,1457 622.1,1457.5 623.1,1457.8 624.1,1458.2 625.1,1458.5 626.1,1458.8 627.1,1458.9 628.1,1459 629.1,1459 630.1,1459.4 631.1,1459.7 632.1,1460.1 633.1,1460.5 634.1,1461 635.1,1461 636.1,1460.9 637.1,1460.5 638.1,1460.1 639.1,1459.6 640.1,1459.3 641.1,1459.1 642.1,1459 643.1,1459.5 644.1,1460 645.1,1460.5 646.1,1461 647.1,1461.4 648.1,1461.6 649.1,1461.8 650.1,1462 651.1,1462.5 652.1,1463 653.1,1462.8 654.1,1462.4 655.1,1461.9 656.1,1461.4 657.1,1460.9 658.1,1460.5 659.1,1460.2 660.1,1459.8 661.1,1459.7 662.1,1459.6 663.1,1459.4 664.1,1459.3 665.1,1459.1 666.1,1458.9 667.1,1458.7 668.1,1458.5 669.1,1458.3 670.1,1458.1 671.1,1457.9 672.1,1458 673.1,1458.3 674.1,1458.7 675.1,1458.8 676.1,1458.8 677.1,1458.8 678.1,1458.8 679.1,1459 680.1,1459.1 681.1,1459.3 682.1,1459.4 683.1,1459.2 684.1,1459 685.1,1458.8 686.1,1458.7 687.1,1458.6 688.1,1458.5 689.1,1458.4 690.1,1458.1 691.1,1457.9 692.1,1457.7 693.1,1457.3 694.1,1457 695.1,1456.7 696.1,1456.5 697.1,1456.4 698.1,1456.3 699.1,1456.2 700.1,1455.9 701.1,1455.7 702.1,1455.5 703.1,1455.3 704.1,1455 705.1,1454.9 706.1,1455.3 707.1,1455.9 708.1,1456.5 709.1,1457.1 710.1,1457.6 711.1,1458.1 712.1,1458.6 713.1,1458.8 714.1,1459.2 715.1,1459.6 716.1,1460 717.1,1460.4 718.1,1460.7 719.1,1460.5 720.1,1460.3 721.1,1459.9 722.1,1459.5 723.1,1459.1 724.1,1458.9 725.1,1459.1 726.1,1459.3 727.1,1459.5 728.1,1459.4 729.1,1459.3 730.1,1459.3 731.1,1459.9 732.1,1460.5 733.1,1461.2" fill="none" stroke="#222" stroke-width="1.7" stroke-linejoin="round" stroke-linecap="round"/>
<line x1="193.6" y1="1570.2" x2="732.6" y2="1572.2" stroke="#2a2a2a" stroke-width="1.9"/>
<path d="M209.1,1600.8 209.9,1601 210.7,1600 211.5,1599.8 212.3,1597.9 213.1,1598.3 213.9,1598.7 214.7,1599.7 215.5,1597.7 216.3,1598 217.1,1597.5 217.9,1597.1 218.7,1597.8 219.5,1597.6 220.3,1597.6 221.1,1596.8 221.9,1596.8 222.7,1597.4 223.5,1599.1 224.3,1599.3 225.1,1598.9 225.9,1599.3 226.7,1598.1 227.5,1599.5 228.3,1597 229.1,1593.6 229.9,1598.1 230.7,1604.5 231.5,1600.2 232.3,1599.3 233.1,1598.5 233.9,1600.1 234.7,1599.1 235.5,1600 236.3,1601.4 237.1,1600.1 237.9,1599.4 238.7,1601.1 239.5,1600.3 240.3,1600 241.1,1601 241.9,1599.9 242.7,1601.1 243.5,1601.4 244.3,1600.4 245.1,1601.9 245.9,1601.4 246.7,1600.6 247.5,1601 248.3,1600.3 249.1,1600.3 249.9,1601.1 250.7,1601.2 251.5,1599.9 252.3,1600.6 253.1,1600.6 253.9,1600.9 254.7,1600.5 255.5,1600.8 256.3,1598.7 257.1,1598.7 257.9,1598.3 258.7,1599 259.5,1598.9 260.3,1600.5 261.1,1598.4 261.9,1599.1 262.7,1598.9 263.5,1598 264.3,1598.6 265.1,1597.9 265.9,1597.6 266.7,1598.5 267.5,1600.2 268.3,1599.2 269.1,1598.9 269.9,1600.2 270.7,1600.8 271.5,1599.7 272.3,1599.9 273.1,1599.7 273.9,1599.3 274.7,1599.2 275.5,1598.7 276.3,1599.4 277.1,1598.2 277.9,1599.8 278.7,1598.5 279.5,1597.7 280.3,1597.7 281.1,1597.6 281.9,1598.5 282.7,1597.5 283.5,1596.9 284.3,1597.9 285.1,1598.5 285.9,1598.6 286.7,1598.1 287.5,1598.1 288.3,1597.9 289.1,1598.3 289.9,1596.9 290.7,1598.3 291.5,1597.7 292.3,1597.3 293.1,1596.7 293.9,1597.2 294.7,1596 295.5,1596.5 296.3,1597.4 297.1,1597.9 297.9,1597.2 298.7,1596.4 299.5,1596.2 300.3,1596.1 301.1,1596.4 301.9,1596.1 302.7,1595.5 303.5,1597.2 304.3,1597.6 305.1,1596.1 305.9,1597.2 306.7,1595.3 307.5,1597.4 308.3,1597.1 309.1,1595.6 309.9,1597.3 310.7,1595.1 311.5,1596.6 312.3,1595 313.1,1595.2 313.9,1594.6 314.7,1595.9 315.5,1594.9 316.3,1596.4 317.1,1594.5 317.9,1595.2 318.7,1596 319.5,1596.6 320.3,1594.3 321.1,1594.6 321.9,1594.4 322.7,1595 323.5,1592.6 324.3,1592 325.1,1592 325.9,1592.3 326.7,1593.5 327.5,1593.5 328.3,1595.8 329.1,1595.3 329.9,1596.3 330.7,1595.6 331.5,1596.2 332.3,1596.3 333.1,1598.3 333.9,1597.5 334.7,1597.6 335.5,1599.9 336.3,1600 337.1,1600.2 337.9,1600 338.7,1601.2 339.5,1602 340.3,1600.3 341.1,1601.2 341.9,1601.7 342.7,1602.6 343.5,1602.1 344.3,1601.4 345.1,1601.6 345.9,1599.9 346.7,1598.6 347.5,1598.6 348.3,1598.4 349.1,1599.1 349.9,1598.5 350.7,1598.2 351.5,1597.9 352.3,1598.5 353.1,1597 353.9,1596.3 354.7,1597.2 355.5,1597 356.3,1597.3 357.1,1596 357.9,1596 358.7,1596.6 359.5,1595.8 360.3,1597.8 361.1,1597.6 361.9,1595.2 362.7,1597 363.5,1595.8 364.3,1597.3 365.1,1595.2 365.9,1596.2 366.7,1596.5 367.5,1596.2 368.3,1595.2 369.1,1597.3 369.9,1595.7 370.7,1596.3 371.5,1595.4 372.3,1597.4 373.1,1597.8 373.9,1598 374.7,1597.8 375.5,1595.6 376.3,1598.1 377.1,1597 377.9,1597.6 378.7,1597.4 379.5,1597.2 380.3,1596.3 381.1,1597.3 381.9,1598.8 382.7,1598.2 383.5,1597.1 384.3,1597.6 385.1,1599 385.9,1598.5 386.7,1599.2 387.5,1598.4 388.3,1597.2 389.1,1597.1 389.9,1598.5 390.7,1597.1 391.5,1596.4 392.3,1596.4 393.1,1596.5 393.9,1597.8 394.7,1596.6 395.5,1595.6 396.3,1596.9 397.1,1595.8 397.9,1594.8 398.7,1593.4 399.5,1595.4 400.3,1594.3 401.1,1591.5 401.9,1590.4 402.7,1593.1 403.5,1592.9 404.3,1594.7 405.1,1595.4 405.9,1596.2 406.7,1595.8 407.5,1596.9 408.3,1595.7 409.1,1595.6 409.9,1595.3 410.7,1597.2 411.5,1595.4 412.3,1596.3 413.1,1597.3 413.9,1597.2 414.7,1595.4 415.5,1596.7 416.3,1597.8 417.1,1596.6 417.9,1597.4 418.7,1596.5 419.5,1595.6 420.3,1595.9 421.1,1596.1 421.9,1596.6 422.7,1596.8 423.5,1597.7 424.3,1597.1 425.1,1596.3 425.9,1598.1 426.7,1597.8 427.5,1596.9 428.3,1596.7 429.1,1596.8 429.9,1596.7 430.7,1596.9 431.5,1596.4 432.3,1596.9 433.1,1597.1 433.9,1596.8 434.7,1595 435.5,1595.3 436.3,1596.9 437.1,1595.6 437.9,1598.2 438.7,1598.2 439.5,1596.8 440.3,1597.2 441.1,1599.8 441.9,1600.4 442.7,1600.5 443.5,1603 444.3,1603.9 445.1,1605.1 445.9,1602.1 446.7,1601.9 447.5,1600.8 448.3,1601.8 449.1,1599.5 449.9,1599.1 450.7,1600.4 451.5,1599.7 452.3,1601.1 453.1,1599.3 453.9,1600.7 454.7,1599.7 455.5,1599.3 456.3,1599.2 457.1,1598.2 457.9,1600.3 458.7,1598.4 459.5,1598.8 460.3,1599.4 461.1,1599.7 461.9,1598.6 462.7,1598.5 463.5,1598.8 464.3,1598 465.1,1599.4 465.9,1599.6 466.7,1598.5 467.5,1598.9 468.3,1597.7 469.1,1597.6 469.9,1598.6 470.7,1598.9 471.5,1597.5 472.3,1598.3 473.1,1597.3 473.9,1597.8 474.7,1596.8 475.5,1597.6 476.3,1597.4 477.1,1598.5 477.9,1598.2 478.7,1596.7 479.5,1598.1 480.3,1598 481.1,1596.1 481.9,1596.9 482.7,1594.8 483.5,1594.9 484.3,1595.5 485.1,1594.4 485.9,1594.5 486.7,1593.5 487.5,1593 488.3,1591.5 489.1,1590.5 489.9,1592.4 490.7,1597 491.5,1598.2 492.3,1597.2 493.1,1596.2 493.9,1598 494.7,1597.7 495.5,1596.8 496.3,1599.2 497.1,1598.7 497.9,1598.4 498.7,1598 499.5,1597.8 500.3,1598.2 501.1,1600.4 501.9,1598.8 502.7,1599.3 503.5,1598.8 504.3,1599.9 505.1,1601.1 505.9,1600.4 506.7,1601.1 507.5,1599.8 508.3,1601.7 509.1,1602 509.9,1600.1 510.7,1599.7 511.5,1599.6 512.3,1599.6 513.1,1601.7 513.9,1599.3 514.7,1600.6 515.5,1600.5 516.3,1599.4 517.1,1600.3 517.9,1599.6 518.7,1600.1 519.5,1600 520.3,1599.6 521.1,1598.4 521.9,1597.9 522.7,1597.4 523.5,1599.1 524.3,1597.5 525.1,1598.3 525.9,1599 526.7,1598.4 527.5,1598.5 528.3,1596.5 529.1,1597.8 529.9,1597 530.7,1596.4 531.5,1597.9 532.3,1597.8 533.1,1597 533.9,1597.3 534.7,1595.8 535.5,1596.5 536.3,1595.7 537.1,1595.7 537.9,1597.1 538.7,1595.5 539.5,1595.8 540.3,1596.3 541.1,1597.8 541.9,1596.9 542.7,1597.8 543.5,1598.7 544.3,1599.2 545.1,1598.5 545.9,1597.7 546.7,1599.7 547.5,1598.3 548.3,1598.5 549.1,1601 549.9,1599.3 550.7,1600.7 551.5,1600.1 552.3,1601.8 553.1,1602 553.9,1602.6 554.7,1600.7 555.5,1602.2 556.3,1601.7 557.1,1601.5 557.9,1603.9 558.7,1603.4 559.5,1604.2 560.3,1602.3 561.1,1603.1 561.9,1601.5 562.7,1602.7 563.5,1602 564.3,1602.7 565.1,1600.3 565.9,1600.1 566.7,1601.2 567.5,1600.7 568.3,1600.2 569.1,1599.8 569.9,1598.9 570.7,1599.5 571.5,1598.2 572.3,1599.2 573.1,1598.2 573.9,1598.4 574.7,1598.8 575.5,1597.5 576.3,1598.2 577.1,1598.8 577.9,1598.7 578.7,1599.1 579.5,1598.8 580.3,1598.2 581.1,1599.8 581.9,1598.9 582.7,1598 583.5,1600.4 584.3,1599.8 585.1,1598.4 585.9,1599.7 586.7,1599.4 587.5,1600.6 588.3,1601.2 589.1,1600.8 589.9,1599.8 590.7,1601.5 591.5,1601.4 592.3,1600.2 593.1,1599.9 593.9,1602.1 594.7,1599.7 595.5,1601.7 596.3,1601.4 597.1,1600.4 597.9,1600.2 598.7,1599.2 599.5,1600.2 600.3,1599.2 601.1,1599.2 601.9,1599.6 602.7,1600.3 603.5,1598.6 604.3,1599 605.1,1599.2 605.9,1598 606.7,1600.3 607.5,1599.1 608.3,1599.6 609.1,1600.5 609.9,1600.4 610.7,1600.6 611.5,1600.4 612.3,1600.1 613.1,1601.4 613.9,1600.8 614.7,1599.9 615.5,1600.2 616.3,1599.9 617.1,1599.8 617.9,1601 618.7,1600.1 619.5,1599 620.3,1599.5 621.1,1599.9 621.9,1599.6 622.7,1598.5 623.5,1598.8 624.3,1598.9 625.1,1598.1 625.9,1600.1 626.7,1597.7 627.5,1598.3 628.3,1599.1 629.1,1599.1 629.9,1597.5 630.7,1599.7 631.5,1597.2 632.3,1599.1 633.1,1597.2 633.9,1597.4 634.7,1598.3 635.5,1598 636.3,1598.5 637.1,1598.6 637.9,1599.7 638.7,1598.9 639.5,1600.2 640.3,1599.2 641.1,1598.5 641.9,1600.2 642.7,1600.6 643.5,1599.6 644.3,1600.5 645.1,1601.2 645.9,1601.6 646.7,1599.3 647.5,1599.3 648.3,1599.2 649.1,1599 649.9,1599 650.7,1600.3 651.5,1597.9 652.3,1597.5 653.1,1598.3 653.9,1597.2 654.7,1597.5 655.5,1596.4 656.3,1595.3 657.1,1596.7 657.9,1593.9 658.7,1595.2 659.5,1597.8 660.3,1598.6 661.1,1601 661.9,1601 662.7,1600.6 663.5,1600.1 664.3,1598.6 665.1,1599 665.9,1599.4 666.7,1598.4 667.5,1599 668.3,1599 669.1,1597.8 669.9,1595.7 670.7,1595 671.5,1597.5 672.3,1603.6 673.1,1602 673.9,1599.5 674.7,1598.3 675.5,1598.6 676.3,1598.9 677.1,1597.5 677.9,1598.7 678.7,1598.7 679.5,1597.2 680.3,1598.1 681.1,1598.2 681.9,1596.1 682.7,1598 683.5,1597.6 684.3,1597.7 685.1,1596.4 685.9,1595.9 686.7,1597.9 687.5,1597.9 688.3,1597 689.1,1597.9 689.9,1596.7 690.7,1598.9 691.5,1596.9 692.3,1596.7 693.1,1596.8 693.9,1598.3 694.7,1599.1 695.5,1598.1 696.3,1597.3 697.1,1597.6 697.9,1599.3 698.7,1599.6 699.5,1600.1 700.3,1599 701.1,1598.3 701.9,1599.1 702.7,1599.2 703.5,1599.1 704.3,1599.8 705.1,1600.2 705.9,1599.5 706.7,1600.7 707.5,1601.1 708.3,1599.7 709.1,1600.3 709.9,1598.8 710.7,1598.2 711.5,1598.4 712.3,1600.2 713.1,1599.1 713.9,1599.9 714.7,1599.4 715.5,1598.9 716.3,1597.6 717.1,1599.4 717.9,1597.8 718.7,1598.6 719.5,1599.2 720.3,1599 721.1,1599.2 721.9,1598.9 722.7,1597.7 723.5,1599.3 724.3,1596.9 725.1,1597.1 725.9,1598.9 726.7,1599.1 727.5,1598.2 728.3,1600.6 729.1,1600 729.9,1601 730.7,1600.5 731.5,1599.2 732.3,1600.1 733.1,1597.9" fill="none" stroke="#0a0a0a" stroke-width="2.8" stroke-linejoin="miter" stroke-linecap="round"/>
<text transform="translate(334.2,1707.5) rotate(-90)" font-size="15" fill="#8c8c8c" style="font-weight:normal" textLength="54" lengthAdjust="spacingAndGlyphs">Fenil 5mcg/kg</text>
<path d="M327.9,1665.6 L340.7,1677.9 L335.3,1677.9 L335.3,1713.1 L321.9,1713.1 L321.9,1677.9 L315.6,1677.9Z" fill="#000"/>
<rect x="5.5" y="1773.3" width="733.7" height="617.3" rx="2.5" fill="none" stroke="#000" stroke-width="5.7"/>
<text x="149.1" y="1817.9" font-size="22.1" textLength="43.3" lengthAdjust="spacingAndGlyphs" fill="#000">200</text>
<text x="149.1" y="1917.4" font-size="22.1" textLength="43.3" lengthAdjust="spacingAndGlyphs" fill="#000">100</text>
<text x="155.9" y="1989.8" font-size="21.8" textLength="29.7" lengthAdjust="spacingAndGlyphs" fill="#000">40</text>
<text x="149.1" y="2037.9" font-size="22.1" textLength="43.3" lengthAdjust="spacingAndGlyphs" fill="#000">180</text>
<text x="149.1" y="2126.8" font-size="22.1" textLength="43.3" lengthAdjust="spacingAndGlyphs" fill="#000">100</text>
<text x="155.9" y="2184.7" font-size="21.8" textLength="29.7" lengthAdjust="spacingAndGlyphs" fill="#000">40</text>
<text x="149.1" y="2226" font-size="22.1" textLength="43.3" lengthAdjust="spacingAndGlyphs" fill="#000">400</text>
<text x="149.1" y="2296.5" font-size="22.1" textLength="43.3" lengthAdjust="spacingAndGlyphs" fill="#000">200</text>
<text x="163.2" y="2358.2" font-size="21.8" textLength="15.6" lengthAdjust="spacingAndGlyphs" fill="#000">0</text>
<text x="42.4" y="1877.4" font-size="24.6" textLength="47.9" lengthAdjust="spacingAndGlyphs" fill="#000">PAP</text>
<text x="15.7" y="1914" font-size="25.8" textLength="101.9" lengthAdjust="spacingAndGlyphs" fill="#000">(mmHg)</text>
<text x="36.1" y="2092.7" font-size="24.6" textLength="61" lengthAdjust="spacingAndGlyphs" fill="#000">MAP</text>
<text x="15.7" y="2127.6" font-size="25.8" textLength="101.9" lengthAdjust="spacingAndGlyphs" fill="#000">(mmHg)</text>
<text x="48.3" y="2271.5" font-size="24.6" textLength="36.4" lengthAdjust="spacingAndGlyphs" fill="#000">HR</text>
<text x="28.3" y="2306" font-size="27" textLength="76.5" lengthAdjust="spacingAndGlyphs" fill="#000">(bpm)</text>
<text x="373.2" y="1810" font-size="32.5" textLength="261" lengthAdjust="spacingAndGlyphs" fill="#000">VITD 3750 IU/day</text>
<text x="677.1" y="2340.8" font-size="25" textLength="27.5" lengthAdjust="spacingAndGlyphs" fill="#000">5s</text>
<path d="M38.3,2311.2 39.9,2313.4 41.5,2311.2 43.1,2313.4 44.7,2311.2 46.3,2313.4 47.9,2311.2 49.5,2313.4 51.1,2311.2 52.7,2313.4 54.3,2311.2 55.9,2313.4 57.5,2311.2 59.1,2313.4 60.7,2311.2 62.3,2313.4 63.9,2311.2 65.5,2313.4 67.1,2311.2 68.7,2313.4 70.3,2311.2 71.9,2313.4 73.5,2311.2 75.1,2313.4 76.7,2311.2 78.3,2313.4 79.9,2311.2 81.5,2313.4 83.1,2311.2 84.7,2313.4 86.3,2311.2 87.9,2313.4 89.5,2311.2 91.1,2313.4 92.7,2311.2 94.3,2313.4 95.9,2311.2" fill="none" stroke="#e32227" stroke-width="1.15"/>
<rect x="678.1" y="2357.5" width="27.9" height="5.8" fill="#000"/>
<line x1="351.9" y1="1785" x2="351.9" y2="2380" stroke="#bcbcbc" stroke-width="1.3" stroke-dasharray="3 16.7"/>
<circle cx="222.5" cy="2362" r="0.9" fill="#c0c0c0"/>
<circle cx="260.2" cy="2362" r="0.9" fill="#c0c0c0"/>
<circle cx="297.9" cy="2362" r="0.9" fill="#c0c0c0"/>
<circle cx="335.5" cy="2362" r="0.9" fill="#c0c0c0"/>
<circle cx="373.2" cy="2362" r="0.9" fill="#c0c0c0"/>
<circle cx="410.9" cy="2362" r="0.9" fill="#c0c0c0"/>
<circle cx="448.6" cy="2362" r="0.9" fill="#c0c0c0"/>
<circle cx="486.3" cy="2362" r="0.9" fill="#c0c0c0"/>
<circle cx="523.9" cy="2362" r="0.9" fill="#c0c0c0"/>
<circle cx="561.6" cy="2362" r="0.9" fill="#c0c0c0"/>
<circle cx="599.3" cy="2362" r="0.9" fill="#c0c0c0"/>
<circle cx="637" cy="2362" r="0.9" fill="#c0c0c0"/>
<circle cx="674.7" cy="2362" r="0.9" fill="#c0c0c0"/>
<circle cx="712.3" cy="2362" r="0.9" fill="#c0c0c0"/>
<circle cx="222.5" cy="2173.4" r="0.8" fill="#d2d2d2"/>
<circle cx="297.9" cy="2173.4" r="0.8" fill="#d2d2d2"/>
<circle cx="373.2" cy="2173.4" r="0.8" fill="#d2d2d2"/>
<circle cx="410.9" cy="2173.4" r="0.8" fill="#d2d2d2"/>
<circle cx="485.5" cy="2173.4" r="0.8" fill="#d2d2d2"/>
<circle cx="523.4" cy="2173.4" r="0.8" fill="#d2d2d2"/>
<circle cx="598.6" cy="2173.4" r="0.8" fill="#d2d2d2"/>
<circle cx="673.8" cy="2173.4" r="0.8" fill="#d2d2d2"/>
<circle cx="711.5" cy="2173.4" r="0.8" fill="#d2d2d2"/>
<circle cx="222.5" cy="1985.5" r="0.8" fill="#d8d8d8"/>
<circle cx="448.4" cy="1985.5" r="0.8" fill="#d8d8d8"/>
<circle cx="523.5" cy="1985.5" r="0.8" fill="#d8d8d8"/>
<circle cx="677.7" cy="1985.5" r="0.8" fill="#d8d8d8"/>
<path d="M216.5,1843.6 217.1,1846.5 217.6,1847.7 218.2,1847.4 218.7,1847.5 219.3,1849 219.8,1848.1 220.4,1844.4 220.9,1845.5 221.5,1847.7 222,1848.6 222.6,1848.4 223.1,1848.4 223.7,1847.3 224.2,1845.2 224.8,1845.4 225.3,1847.9 225.9,1848.5 226.4,1846.6 227,1845.8 227.5,1845.6 228.1,1845.3 228.6,1845.2 229.2,1845.4 229.7,1843.8 230.3,1840.5 230.8,1840.7 231.4,1842.6 231.9,1841.9 232.5,1839 233,1839.7 233.6,1840.4 234.1,1840.4 234.7,1840 235.2,1839.5 235.8,1838.9 236.3,1838.7 236.9,1839 237.4,1838.8 238,1837.7 238.5,1835.9 239.1,1839 239.6,1839.4 240.2,1837.5 240.7,1835 241.3,1835.2 241.8,1835.4 242.4,1835.9 242.9,1838.4 243.5,1840.8 244,1842.6 244.6,1843.7 245.1,1844.5 245.7,1844.5 246.2,1843.8 246.8,1844.1 247.3,1844.8 247.9,1844 248.4,1841.7 249,1842.7 249.5,1843.8 250.1,1844 250.6,1843.6 251.2,1843.6 251.7,1843.4 252.3,1843.8 252.8,1844.4 253.4,1845 253.9,1845.1 254.5,1844.7 255,1845.7 255.6,1845.7 256.1,1845.4 256.7,1844.8 257.2,1844.1 257.8,1843.2 258.3,1842.4 258.9,1843 259.4,1843.9 260,1844.5 260.5,1845 261.1,1845.1 261.6,1844.8 262.2,1844 262.7,1844 263.3,1845.3 263.8,1845.8 264.4,1845.4 264.9,1845.3 265.5,1845.1 266,1844.3 266.6,1843 267.1,1842.7 267.7,1842.4 268.2,1842.7 268.8,1843.3 269.3,1844 269.9,1844.4 270.4,1844.5 271,1844.8 271.5,1844.7 272.1,1844.5 272.6,1844.3 273.2,1844.3 273.7,1843.5 274.3,1841.9 274.8,1842.7 275.4,1844.5 275.9,1844.6 276.5,1843 277,1845 277.6,1845.2 278.1,1843.1 278.7,1840.6 279.2,1842 279.8,1843.2 280.3,1844.2 280.9,1845.1 281.4,1845.6 282,1845.7 282.5,1845.5 283.1,1845.5 283.6,1844.8 284.2,1844 284.7,1843.5 285.3,1844.2 285.8,1844.9 286.4,1845.6 286.9,1848 287.5,1849.3 288,1849.2 288.6,1847.9 289.1,1848.8 289.7,1849.5 290.2,1849.8 290.8,1849.1 291.3,1847.9 291.9,1846.1 292.4,1843.8 293,1844.7 293.5,1846.3 294.1,1848.1 294.6,1849.1 295.2,1850 295.7,1850.7 296.3,1851.3 296.8,1852 297.4,1852 297.9,1851 298.5,1849.1 299,1850.4 299.6,1850.5 300.1,1850.1 300.7,1850.5 301.2,1853.1 301.8,1852.3 302.3,1848.8 302.9,1848.5 303.4,1849.3 304,1849.2 304.5,1848.4 305.1,1847 305.6,1845.9 306.2,1845 306.7,1844.7 307.3,1844 307.8,1842.9 308.4,1841.3 308.9,1843.5 309.5,1844.8 310,1843 310.6,1839.9 311.1,1841.1 311.7,1841.8 312.2,1842 312.8,1842.4 313.3,1843.1 313.9,1843.4 314.4,1843.4 315,1845.4 315.5,1846.3 316.1,1844.9 316.6,1842.2 317.2,1841.6 317.7,1841.1 318.3,1840.5 318.8,1841.3 319.4,1843 319.9,1843.8 320.5,1843.8 321,1843.8 321.6,1843.7 322.1,1843.7 322.7,1843.6 323.2,1843.6 323.8,1843.6 324.3,1843.6 324.9,1843.5 325.4,1843.3 326,1843.1 326.5,1842.7 327.1,1843.7 327.6,1844.6 328.2,1845.5 328.7,1846 329.3,1845.7 329.8,1845.3 330.4,1844.8 330.9,1844.2 331.5,1843.6 332,1843.2 332.6,1843.2 333.1,1843.4 333.7,1842.8 334.2,1841.3 334.8,1840.4 335.3,1840.8 335.9,1841.2 336.4,1841.6 337,1845.1 337.5,1846.8 338.1,1845.9 338.6,1843.9 339.2,1846.9 339.7,1849.1 340.3,1850.5 340.8,1851.3 341.4,1851.9 341.9,1852.9 342.5,1853.9 343,1855.3 343.6,1856.1 344.1,1856.5 344.7,1856.7 345.2,1856.4 345.8,1855.9 346.3,1855.2 346.9,1854.2 347.4,1852.9 348,1851.5 348.5,1850 349.1,1848.6 349.6,1847.2 350.2,1845.8 350.7,1844.1 351.3,1841.6 351.8,1838.3 352.4,1834.8 352.9,1836.8 353.5,1839.4 354,1839.4 354.6,1836.5 355.1,1835.9 355.7,1835.2 356.2,1834.5 356.8,1835 357.3,1836.4 357.9,1837.5 358.4,1837.8 359,1838.4 359.5,1838.3 360.1,1837.3 360.6,1836.5 361.2,1839.4 361.7,1839.9 362.3,1838.1 362.8,1837.6 363.4,1839.2 363.9,1840.5 364.5,1841.7 365,1842.4 365.6,1843 366.1,1843.6 366.7,1844.1 367.2,1844.3 367.8,1844.1 368.3,1843.8 368.9,1843.7 369.4,1842.9 370,1841.2 370.5,1838.7 371.1,1841.1 371.6,1842.6 372.2,1843.1 372.7,1842.7 373.3,1841.9 373.8,1840.8 374.4,1839.3 374.9,1840.7 375.5,1842.4 376,1843.1 376.6,1842.7 377.1,1842.9 377.7,1843.1 378.2,1843.3 378.8,1843.5 379.3,1843.8 379.9,1844 380.4,1844.4 381,1845.3 381.5,1845.7 382.1,1845.4 382.6,1844.9 383.2,1846.5 383.7,1847.4 384.3,1847.8 384.8,1847.8 385.4,1847.8 385.9,1847.9 386.5,1847.6 387,1847.4 387.6,1846.4 388.1,1844.5 388.7,1843.2 389.2,1844.8 389.8,1846.5 390.3,1847.4 390.9,1848.3 391.4,1849 392,1849.2 392.5,1848.8 393.1,1849.4 393.6,1849.9 394.2,1850.4 394.7,1850.7 395.3,1850.9 395.8,1851 396.4,1851.1 396.9,1850.8 397.5,1849.7 398,1847.7 398.6,1845.4 399.1,1845.5 399.7,1845.6 400.2,1845.5 400.8,1847.5 401.3,1849.6 401.9,1848.4 402.4,1844.1 403,1845.9 403.5,1848.3 404.1,1849.1 404.6,1848.9 405.2,1849.1 405.7,1848.1 406.3,1846.2 406.8,1846.6 407.4,1847.8 407.9,1846.3 408.5,1842.2 409,1845 409.6,1847.3 410.1,1848.1 410.7,1848.1 411.2,1848.9 411.8,1848.7 412.3,1846.7 412.9,1846.4 413.4,1846.7 414,1846.4 414.5,1845.3 415.1,1844.8 415.6,1844.7 416.2,1844.7 416.7,1845.2 417.3,1845.7 417.8,1845.4 418.4,1843.9 418.9,1844.4 419.5,1845.2 420,1844.9 420.6,1843.8 421.1,1844 421.7,1844.1 422.2,1844.1 422.8,1843.8 423.3,1842.9 423.9,1841.5 424.4,1839.5 425,1838.5 425.5,1837.8 426.1,1837.1 426.6,1836.9 427.2,1838.9 427.7,1840.4 428.3,1841.6 428.8,1841.7 429.4,1841 429.9,1840 430.5,1838.7 431,1838.8 431.6,1839.1 432.1,1839.3 432.7,1840.5 433.2,1842.7 433.8,1842.8 434.3,1841 434.9,1839.8 435.4,1839.6 436,1839.5 436.5,1839.3 437.1,1841.8 437.6,1843.1 438.2,1843.3 438.7,1842.8 439.3,1842.1 439.8,1841.3 440.4,1840.5 440.9,1840.4 441.5,1840.4 442,1840.2 442.6,1840.4 443.1,1843.8 443.7,1844.7 444.2,1842.4 444.8,1840.3 445.3,1840.9 445.9,1841.4 446.4,1841.7 447,1842.6 447.5,1843.7 448.1,1844.3 448.6,1844.3 449.2,1844.6 449.7,1844.9 450.3,1844.8 450.8,1844.7 451.4,1844.9 451.9,1844.8 452.5,1844.5 453,1843.8 453.6,1842.7 454.1,1841.2 454.7,1839.7 455.2,1839.2 455.8,1838.8 456.3,1838.3 456.9,1841.2 457.4,1843.6 458,1843.1 458.5,1839.7 459.1,1841.8 459.6,1843.6 460.2,1844.1 460.7,1844.2 461.3,1843.5 461.8,1842 462.4,1839.5 462.9,1840.1 463.5,1841.6 464,1842 464.6,1841.4 465.1,1842.2 465.7,1841.8 466.2,1840.4 466.8,1839.3 467.3,1839.5 467.9,1839.7 468.4,1840 469,1841.1 469.5,1842 470.1,1842.3 470.6,1842.2 471.2,1842.1 471.7,1841.9 472.3,1841.4 472.8,1841.5 473.4,1842.3 473.9,1843 474.5,1843.8 475,1845 475.6,1845.8 476.1,1845.1 476.7,1844.1 477.2,1844.3 477.8,1844.1 478.3,1843.6 478.9,1843.1 479.4,1843.4 480,1843.3 480.5,1842.9 481.1,1843.5 481.6,1844.1 482.2,1844.6 482.7,1844.5 483.3,1844.3 483.8,1843.3 484.4,1841.5 484.9,1841.1 485.5,1841.5 486,1842.2 486.6,1842.6 487.1,1842.8 487.7,1842.9 488.2,1842.7 488.8,1842.8 489.3,1843.3 489.9,1843.7 490.4,1844.1 491,1844.6 491.5,1845.1 492.1,1845.3 492.6,1845.5 493.2,1845.2 493.7,1843.9 494.3,1841.4 494.8,1840.5 495.4,1841.1 495.9,1841.5 496.5,1841.8 497,1843 497.6,1843.8 498.1,1844 498.7,1844.2 499.2,1843.9 499.8,1842.9 500.3,1841.2 500.9,1840.3 501.4,1840.3 502,1840.3 502.5,1840.4 503.1,1841.1 503.6,1841.8 504.2,1842.5 504.7,1842.9 505.3,1843.1 505.8,1843.2 506.4,1843.3 506.9,1846.2 507.5,1847.9 508,1846.9 508.6,1843.7 509.1,1845.5 509.7,1846.7 510.2,1847.4 510.8,1847.5 511.3,1847 511.9,1845.9 512.4,1844.1 513,1844.6 513.5,1845.4 514.1,1845.9 514.6,1846.9 515.2,1847.6 515.7,1847.6 516.3,1847 516.8,1847.8 517.4,1849.5 517.9,1850.3 518.5,1850.4 519,1850 519.6,1849.3 520.1,1848.3 520.7,1847.1 521.2,1846.4 521.8,1845.7 522.3,1844.9 522.9,1847.4 523.4,1849.5 524,1849 524.5,1845.9 525.1,1848.3 525.6,1850.1 526.2,1851.2 526.7,1851.7 527.3,1851.6 527.8,1851 528.4,1850.3 528.9,1849.7 529.5,1849.1 530,1848.5 530.6,1848.3 531.1,1849.2 531.7,1849.7 532.2,1849.7 532.8,1849.7 533.3,1849.6 533.9,1848.5 534.4,1846.7 535,1848.4 535.5,1848.9 536.1,1847.3 536.6,1844.4 537.2,1844.8 537.7,1845.1 538.3,1845.3 538.8,1846 539.4,1846.6 539.9,1846.7 540.5,1846.4 541,1846.1 541.6,1845.7 542.1,1845.1 542.7,1844.8 543.2,1845.3 543.8,1845.8 544.3,1846.2 544.9,1847.1 545.4,1847.8 546,1848.1 546.5,1847.4 547.1,1846.4 547.6,1845.2 548.2,1843.9 548.7,1842.7 549.3,1841.9 549.8,1841.9 550.4,1842.1 550.9,1842.3 551.5,1842.6 552,1842.8 552.6,1843.1 553.1,1843.5 553.7,1843.9 554.2,1844.2 554.8,1844.2 555.3,1843.4 555.9,1841.9 556.4,1839.3 557,1840.7 557.5,1841.6 558.1,1840.9 558.6,1838.8 559.2,1838.1 559.7,1837.7 560.3,1837.5 560.8,1839 561.4,1840.5 561.9,1840.5 562.5,1839 563,1841 563.6,1841.8 564.1,1841.1 564.7,1840.2 565.2,1842.1 565.8,1843.4 566.3,1843.6 566.9,1843.9 567.4,1844.7 568,1845.4 568.5,1846.2 569.1,1846.5 569.6,1846.8 570.2,1847 570.7,1847.1 571.3,1847.4 571.8,1847.6 572.4,1847.5 572.9,1847.5 573.5,1847.5 574,1847.4 574.6,1846.9 575.1,1845.9 575.7,1844.6 576.2,1842.9 576.8,1843.2 577.3,1845 577.9,1844.9 578.4,1843.1 579,1843.6 579.5,1844.4 580.1,1844.9 580.6,1845 581.2,1844.8 581.7,1844.2 582.3,1843.1 582.8,1842 583.4,1841.1 583.9,1840.1 584.5,1839 585,1838.7 585.6,1838.4 586.1,1838.1 586.7,1838.1 587.2,1838.9 587.8,1839.6 588.3,1839.7 588.9,1840.1 589.4,1840.6 590,1840.9 590.5,1841.1 591.1,1841.5 591.6,1841.7 592.2,1841.2 592.7,1841.2 593.3,1841.9 593.8,1841.1 594.4,1838.7 594.9,1840 595.5,1841.3 596,1840.5 596.6,1838.3 597.1,1840.2 597.7,1840.4 598.2,1838.7 598.8,1837.3 599.3,1838.2 599.9,1838.9 600.4,1839.6 601,1840.2 601.5,1840.6 602.1,1841 602.6,1841.3 603.2,1841.5 603.7,1841.1 604.3,1839.8 604.8,1838.7 605.4,1838.1 605.9,1837.5 606.5,1837 607,1837.7 607.6,1838 608.1,1838.3 608.7,1839.1 609.2,1839.9 609.8,1838.5 610.3,1835.3 610.9,1835 611.4,1836.8 612,1838.5 612.5,1840.1 613.1,1842.6 613.6,1842.8 614.2,1840.6 614.7,1839.8 615.3,1842.6 615.8,1842.5 616.4,1839.6 616.9,1838.7 617.5,1839.1 618,1839.5 618.6,1840 619.1,1841.7 619.7,1843.1 620.2,1844.2 620.8,1844.4 621.3,1843.8 621.9,1843 622.4,1842 623,1841.5 623.5,1840.8 624.1,1840.1 624.6,1839.8 625.2,1840.9 625.7,1841.8 626.3,1842.4 626.8,1842 627.4,1840.8 627.9,1839.6 628.5,1838.5 629,1839.3 629.6,1840.1 630.1,1840.8 630.7,1841.3 631.2,1841.5 631.8,1841.6 632.3,1841.8 632.9,1841.7 633.4,1841.5 634,1841.3 634.5,1841.1 635.1,1841.7 635.6,1841.6 636.2,1841.6 636.7,1842 637.3,1843.4 637.8,1843.6 638.4,1842.7 638.9,1843.1 639.5,1843 640,1842.8 640.6,1842.7 641.1,1842.7 641.7,1841.7 642.2,1839.8 642.8,1839.4 643.3,1840.7 643.9,1841.5 644.4,1841.8 645,1841.9 645.5,1841.9 646.1,1842 646.6,1842.4 647.2,1843.7 647.7,1843.5 648.3,1841.8 648.8,1842.3 649.4,1844.2 649.9,1844.6 650.5,1843.6 651,1843.7 651.6,1843.9 652.1,1844 652.7,1844 653.2,1844 653.8,1843.7 654.3,1843.1 654.9,1842.6 655.4,1842.7 656,1843 656.5,1843.1 657.1,1844.2 657.6,1845.1 658.2,1845.8 658.7,1845.8 659.3,1845.4 659.8,1844.5 660.4,1842.8 660.9,1843.9 661.5,1844.9 662,1844.5 662.6,1842.9 663.1,1842 663.7,1840.9 664.2,1839.8 664.8,1840.8 665.3,1842.6 665.9,1842 666.4,1839 667,1838.8 667.5,1839.5 668.1,1840.5 668.6,1842.1 669.2,1843.7 669.7,1844.8 670.3,1845.5 670.8,1846.7 671.4,1846.6 671.9,1845.2 672.5,1842.7 673,1843.3 673.6,1844 674.1,1844.5 674.7,1845.8 675.2,1846.1 675.8,1846.3 676.3,1846.2 676.9,1846.9 677.4,1848 678,1848.3 678.5,1848.7 679.1,1849.7 679.6,1850.3 680.2,1850.4 680.7,1850.5 681.3,1850.3 681.8,1849 682.4,1845.8 682.9,1845.6 683.5,1846.4 684,1846.4 684.6,1845.8 685.1,1844.7 685.7,1843.3 686.2,1841.7 686.8,1841.2 687.3,1840.7 687.9,1838.5 688.4,1834.9 689,1832.9 689.5,1831.4 690.1,1830 690.6,1829.8 691.2,1830 691.7,1830.2 692.3,1830.4 692.8,1830.9 693.4,1831.6 693.9,1832.5 694.5,1833.2 695,1835 695.6,1836.1 696.1,1836.4 696.7,1836.2 697.2,1836.7 697.8,1837.1 698.3,1837.5 698.9,1838 699.4,1838 700,1837.3 700.5,1836 701.1,1836 701.6,1835.9 702.2,1835.8 702.7,1836 703.3,1836.5 703.8,1836.9 704.4,1837.2 704.9,1839 705.5,1840.8 706,1841.9 706.6,1842.3 707.1,1841.8 707.7,1840.9 708.2,1839.4 708.8,1838.7 709.3,1839.4 709.9,1840.9 710.4,1842.2 711,1844.1 711.5,1845.5 712.1,1846.1 712.6,1846.3 713.2,1847.2 713.7,1847.3 714.3,1846.6 714.8,1846.2 715.4,1846.6 715.9,1846.7 716.5,1846.1 717,1846.2 717.6,1845.2 718.1,1843.1 718.7,1840.4 719.2,1840 719.8,1840.2 720.3,1840.5 720.9,1842.2 721.4,1844 722,1844.9 722.5,1844.2 723.1,1844 723.6,1843.7 724.2,1843.6 724.7,1844.2 725.3,1844.9 725.8,1845.4 726.4,1846 726.9,1846.4 727.5,1846.3 728,1845.9 728.6,1846.1 729.1,1848.5 729.7,1850.8 730.2,1853.1 730.8,1855 731.3,1856.1 731.9,1856.8 732.4,1857.3 733,1860.3 733.5,1858.3 734.1,1853.7 734.6,1848.3 735.2,1848.4 735.7,1847.2 736.3,1845.1 736.3,1898.3 735.7,1899.3 735.2,1900.2 734.6,1901.6 734.1,1902.7 733.5,1903.8 733,1904.8 732.4,1904.4 731.9,1904 731.3,1902.9 730.8,1901.4 730.2,1900.1 729.7,1898.6 729.1,1897 728.6,1895.6 728,1896.1 727.5,1897.3 726.9,1898.9 726.4,1898.8 725.8,1895.2 725.3,1895.5 724.7,1897.7 724.2,1898 723.6,1896.5 723.1,1895.4 722.5,1894.8 722,1895.2 721.4,1895.8 720.9,1896.7 720.3,1896.7 719.8,1895.7 719.2,1895.9 718.7,1897.4 718.1,1896.8 717.6,1896.7 717,1898.3 716.5,1901.2 715.9,1900 715.4,1898.5 714.8,1897 714.3,1895.7 713.7,1895.3 713.2,1896 712.6,1897.8 712.1,1897.5 711.5,1896.7 711,1895.9 710.4,1894.8 709.9,1893 709.3,1892.4 708.8,1893 708.2,1893 707.7,1892.1 707.1,1891.9 706.6,1892.4 706,1891.6 705.5,1890.9 704.9,1891 704.4,1890.8 703.8,1889.1 703.3,1888.7 702.7,1889.9 702.2,1890.4 701.6,1889.8 701.1,1889.4 700.5,1889.2 700,1889.1 699.4,1888.7 698.9,1888 698.3,1887.4 697.8,1886.7 697.2,1886 696.7,1885.3 696.1,1885.2 695.6,1885.7 695,1886.7 694.5,1887.9 693.9,1887.1 693.4,1886.8 692.8,1886.5 692.3,1886.5 691.7,1886.8 691.2,1887 690.6,1887.4 690.1,1888.1 689.5,1889.2 689,1890.6 688.4,1891.5 687.9,1890.1 687.3,1889.2 686.8,1889 686.2,1889.3 685.7,1889.7 685.1,1890.1 684.6,1890.5 684,1890.7 683.5,1891.3 682.9,1892.1 682.4,1892.6 681.8,1892.1 681.3,1892.5 680.7,1893.8 680.2,1894.3 679.6,1894.3 679.1,1894.6 678.5,1895.1 678,1895.9 677.4,1896.9 676.9,1897.3 676.3,1897.3 675.8,1896.4 675.2,1895.4 674.7,1894.6 674.1,1894.1 673.6,1895 673,1896.5 672.5,1898.3 671.9,1897.6 671.4,1897 670.8,1896.3 670.3,1895.1 669.7,1894 669.2,1893.7 668.6,1894.1 668.1,1893.2 667.5,1893.5 667,1895 666.4,1896.7 665.9,1895.1 665.3,1894.4 664.8,1894.6 664.2,1895 663.7,1895.4 663.1,1896.3 662.6,1897.7 662,1897.1 661.5,1898.1 660.9,1900.7 660.4,1902.2 659.8,1898.6 659.3,1898.3 658.7,1901.5 658.2,1902.4 657.6,1900.6 657.1,1899 656.5,1897.8 656,1897.3 655.4,1896.8 654.9,1896.4 654.3,1896.3 653.8,1895.9 653.2,1896 652.7,1896.6 652.1,1896.9 651.6,1896.7 651,1895.9 650.5,1895.2 649.9,1894.4 649.4,1893.7 648.8,1893.1 648.3,1892.7 647.7,1892.7 647.2,1892.6 646.6,1892.6 646.1,1892.6 645.5,1892.7 645,1893 644.4,1893.5 643.9,1893.9 643.3,1895.3 642.8,1897.6 642.2,1898.9 641.7,1898.2 641.1,1897.3 640.6,1896.5 640,1894.8 639.5,1893.7 638.9,1893.3 638.4,1893.9 637.8,1895.1 637.3,1896.8 636.7,1899 636.2,1897.2 635.6,1894.4 635.1,1893.5 634.5,1894.7 634,1895.5 633.4,1896.4 632.9,1897.6 632.3,1897.7 631.8,1895.9 631.2,1894.6 630.7,1893.8 630.1,1893.8 629.6,1894 629,1893.8 628.5,1893.2 627.9,1892.4 627.4,1892.4 626.8,1892.9 626.3,1893.7 625.7,1894.8 625.2,1896.2 624.6,1897.9 624.1,1894.5 623.5,1892.6 623,1893.6 622.4,1897.5 621.9,1897.7 621.3,1898.1 620.8,1898.5 620.2,1899.4 619.7,1900.2 619.1,1900 618.6,1899.8 618,1898 617.5,1897 616.9,1897.1 616.4,1897.2 615.8,1895.3 615.3,1894.4 614.7,1894.3 614.2,1894.5 613.6,1894.7 613.1,1895.6 612.5,1897.1 612,1894.7 611.4,1892.8 610.9,1891.5 610.3,1890.8 609.8,1891 609.2,1892.4 608.7,1895.1 608.1,1893.4 607.6,1891.1 607,1890.5 606.5,1891.6 605.9,1891.1 605.4,1891.5 604.8,1893 604.3,1893.5 603.7,1892.6 603.2,1891.9 602.6,1892.1 602.1,1892.1 601.5,1891.8 601,1891.6 600.4,1891.1 599.9,1890.6 599.3,1891.9 598.8,1894.9 598.2,1894.6 597.7,1892 597.1,1891.5 596.6,1892.9 596,1892 595.5,1892.6 594.9,1895.3 594.4,1897.8 593.8,1895.6 593.3,1894 592.7,1893 592.2,1892.7 591.6,1893 591.1,1894 590.5,1895.9 590,1895.3 589.4,1894.8 588.9,1894.5 588.3,1894.3 587.8,1894.2 587.2,1894.3 586.7,1894.6 586.1,1894.8 585.6,1894.9 585,1895.2 584.5,1895.5 583.9,1895.9 583.4,1896.3 582.8,1896.8 582.3,1896.9 581.7,1897.4 581.2,1899.1 580.6,1902 580.1,1899.4 579.5,1898.4 579,1900.5 578.4,1903.7 577.9,1901.1 577.3,1900.3 576.8,1901.5 576.2,1902.3 575.7,1901.9 575.1,1901.8 574.6,1902.2 574,1902.8 573.5,1902.8 572.9,1902.9 572.4,1902.9 571.8,1902.7 571.3,1902 570.7,1901.3 570.2,1900.8 569.6,1901 569.1,1902 568.5,1903.6 568,1899.9 567.4,1898.4 566.9,1899.1 566.3,1899.8 565.8,1898.7 565.2,1899.4 564.7,1901.7 564.1,1901.3 563.6,1899.7 563,1898.4 562.5,1897.4 561.9,1897.9 561.4,1898.9 560.8,1900.1 560.3,1900.2 559.7,1898.9 559.2,1897.9 558.6,1897.2 558.1,1896.2 557.5,1896.4 557,1897.8 556.4,1900.2 555.9,1901.2 555.3,1901.7 554.8,1902.2 554.2,1899.4 553.7,1896.4 553.1,1896.8 552.6,1900.6 552,1899.1 551.5,1897.5 550.9,1896.7 550.4,1896.6 549.8,1897.5 549.3,1898.9 548.7,1900.9 548.2,1901.1 547.6,1900.3 547.1,1899.8 546.5,1899.4 546,1900.1 545.4,1900.4 544.9,1900.8 544.3,1900.5 543.8,1899 543.2,1897.8 542.7,1897 542.1,1897 541.6,1897.1 541,1897.3 540.5,1897.4 539.9,1897.8 539.4,1897.9 538.8,1897.9 538.3,1897.9 537.7,1897.8 537.2,1897.7 536.6,1897.6 536.1,1898.8 535.5,1900.4 535,1902.4 534.4,1904.4 533.9,1905.1 533.3,1905.8 532.8,1905.5 532.2,1904.2 531.7,1902.3 531.1,1900.6 530.6,1899.2 530,1898 529.5,1897.7 528.9,1897.8 528.4,1898.1 527.8,1898.1 527.3,1898.1 526.7,1897.9 526.2,1897.4 525.6,1897.1 525.1,1896.8 524.5,1896.6 524,1895.9 523.4,1895.7 522.9,1896 522.3,1896.3 521.8,1896.7 521.2,1897.4 520.7,1898.5 520.1,1897.9 519.6,1897.4 519,1897.6 518.5,1898.5 517.9,1898.4 517.4,1898.3 516.8,1898.6 516.3,1898.8 515.7,1898.9 515.2,1899.2 514.6,1899.6 514.1,1900 513.5,1900.1 513,1900.4 512.4,1900.5 511.9,1899.9 511.3,1900.6 510.8,1902.6 510.2,1902.1 509.7,1899.9 509.1,1899.4 508.6,1900.4 508,1901.3 507.5,1902.4 506.9,1903.7 506.4,1903.3 505.8,1899.4 505.3,1898.2 504.7,1899.6 504.2,1900.1 503.6,1899.3 503.1,1898.6 502.5,1898.2 502,1898.1 501.4,1898 500.9,1897.5 500.3,1896.9 499.8,1896.6 499.2,1896.7 498.7,1897.1 498.1,1897.5 497.6,1898.9 497,1900.4 496.5,1901.6 495.9,1898.7 495.4,1897.2 494.8,1897 494.3,1896.5 493.7,1896.1 493.2,1896.9 492.6,1898.7 492.1,1897.9 491.5,1896.9 491,1896.8 490.4,1897 489.9,1898.3 489.3,1899.8 488.8,1901.4 488.2,1901.5 487.7,1900.5 487.1,1899.4 486.6,1898.4 486,1896.3 485.5,1894.9 484.9,1894.9 484.4,1895.5 483.8,1895.3 483.3,1895.7 482.7,1896.7 482.2,1896.6 481.6,1896.3 481.1,1896.7 480.5,1897.6 480,1897.2 479.4,1897.5 478.9,1898.6 478.3,1898.7 477.8,1897.4 477.2,1897 476.7,1897.4 476.1,1897.1 475.6,1896.5 475,1896.1 474.5,1895.9 473.9,1896 473.4,1896.8 472.8,1898.2 472.3,1899.6 471.7,1900.3 471.2,1901 470.6,1901.8 470.1,1898.9 469.5,1897.6 469,1898.4 468.4,1900.5 467.9,1899.3 467.3,1898.3 466.8,1897.4 466.2,1896.9 465.7,1896.6 465.1,1896.4 464.6,1896.1 464,1895.6 463.5,1895.1 462.9,1894.6 462.4,1894.3 461.8,1894.1 461.3,1893.9 460.7,1893.7 460.2,1893 459.6,1893.2 459.1,1894.7 458.5,1897.6 458,1896.8 457.4,1896.2 456.9,1895.5 456.3,1893.9 455.8,1892.1 455.2,1892.9 454.7,1896.3 454.1,1894.7 453.6,1892.8 453,1893.2 452.5,1895.3 451.9,1892.9 451.4,1892.5 450.8,1894.1 450.3,1895.8 449.7,1896.1 449.2,1896.5 448.6,1896.9 448.1,1894.7 447.5,1894 447,1895.8 446.4,1897.8 445.9,1895 445.3,1893.4 444.8,1893.2 444.2,1893.8 443.7,1894.7 443.1,1896.2 442.6,1898.1 442,1895.2 441.5,1892.9 440.9,1891.7 440.4,1891.6 439.8,1892 439.3,1892.7 438.7,1893.5 438.2,1894.5 437.6,1895.6 437.1,1897 436.5,1898.6 436,1895.7 435.4,1894.2 434.9,1894.1 434.3,1894.9 433.8,1894.5 433.2,1893.9 432.7,1893.4 432.1,1893.2 431.6,1893.5 431,1894.5 430.5,1896.4 429.9,1894.3 429.4,1893.9 428.8,1895.2 428.3,1896.8 427.7,1897.1 427.2,1896.8 426.6,1896.6 426.1,1896.5 425.5,1896.4 425,1896.4 424.4,1896.4 423.9,1896.8 423.3,1897.9 422.8,1899.5 422.2,1899.1 421.7,1897 421.1,1895.4 420.6,1894.2 420,1893.1 419.5,1893.4 418.9,1894.9 418.4,1896.5 417.8,1895.7 417.3,1895.4 416.7,1895.2 416.2,1894.4 415.6,1894.8 415.1,1897.2 414.5,1901 414,1897.1 413.4,1895.3 412.9,1895.5 412.3,1896.1 411.8,1895.2 411.2,1895.3 410.7,1896.1 410.1,1896.5 409.6,1896.9 409,1897.6 408.5,1898.5 407.9,1899.3 407.4,1900.6 406.8,1902.5 406.3,1902.2 405.7,1899.4 405.2,1898.2 404.6,1898.9 404.1,1899.9 403.5,1901 403,1902.5 402.4,1904.1 401.9,1904 401.3,1903.5 400.8,1903.3 400.2,1903.3 399.7,1904 399.1,1905.6 398.6,1907.7 398,1906.6 397.5,1905.1 396.9,1903.8 396.4,1902.7 395.8,1902.4 395.3,1902.9 394.7,1903.6 394.2,1901.8 393.6,1900.2 393.1,1900.4 392.5,1902.4 392,1901.1 391.4,1900.1 390.9,1899.4 390.3,1899 389.8,1898.8 389.2,1898.8 388.7,1899 388.1,1899.1 387.6,1899.2 387,1899.3 386.5,1899.2 385.9,1897.7 385.4,1897.2 384.8,1897.5 384.3,1898 383.7,1898 383.2,1898 382.6,1897.9 382.1,1898 381.5,1898.3 381,1898.8 380.4,1899.4 379.9,1899.4 379.3,1899.5 378.8,1899.6 378.2,1897.9 377.7,1896.3 377.1,1896.4 376.6,1898.5 376,1898 375.5,1897.1 374.9,1896.4 374.4,1895.9 373.8,1896.1 373.3,1896.2 372.7,1896.4 372.2,1896.5 371.6,1896.6 371.1,1896.7 370.5,1896.9 370,1893.8 369.4,1893.3 368.9,1894.9 368.3,1896.6 367.8,1896 367.2,1895.8 366.7,1895.4 366.1,1894.8 365.6,1894.3 365,1894 364.5,1893.9 363.9,1893.2 363.4,1892.8 362.8,1892.7 362.3,1892.7 361.7,1892.8 361.2,1892.9 360.6,1893.1 360.1,1892.8 359.5,1892.5 359,1892.2 358.4,1891.8 357.9,1891.6 357.3,1891.4 356.8,1891.3 356.2,1890.4 355.7,1889.3 355.1,1888.5 354.6,1888.1 354,1888.1 353.5,1888.1 352.9,1888.4 352.4,1889.1 351.8,1889.5 351.3,1891.3 350.7,1895 350.2,1896.5 349.6,1896.3 349.1,1896.5 348.5,1897.1 348,1899.3 347.4,1902.1 346.9,1905.4 346.3,1906.8 345.8,1905.1 345.2,1905.1 344.7,1906.6 344.1,1906.5 343.6,1906.2 343,1906 342.5,1905.5 341.9,1902.8 341.4,1901.7 340.8,1901.7 340.3,1901.7 339.7,1900.5 339.2,1899.3 338.6,1898 338.1,1896.9 337.5,1896.4 337,1896 336.4,1895.3 335.9,1893.9 335.3,1893.7 334.8,1894.8 334.2,1895.5 333.7,1895 333.1,1894.7 332.6,1894.7 332,1895.6 331.5,1896.8 330.9,1898.1 330.4,1898.7 329.8,1895.9 329.3,1893.8 328.7,1892.3 328.2,1891.6 327.6,1892.2 327.1,1894.3 326.5,1897.7 326,1896.4 325.4,1895.3 324.9,1894.9 324.3,1894.7 323.8,1894.7 323.2,1894.8 322.7,1895.1 322.1,1895.4 321.6,1894.9 321,1895 320.5,1895.6 319.9,1894.4 319.4,1893.3 318.8,1892.5 318.3,1892.6 317.7,1892.7 317.2,1893.3 316.6,1894.4 316.1,1894.2 315.5,1894.6 315,1896 314.4,1897.3 313.9,1894.7 313.3,1894.2 312.8,1895.8 312.2,1896.5 311.7,1895.4 311.1,1894.6 310.6,1894.1 310,1894 309.5,1894 308.9,1893.9 308.4,1893.9 307.8,1894.3 307.3,1895 306.7,1896.1 306.2,1896.4 305.6,1896.7 305.1,1897 304.5,1897.3 304,1897.8 303.4,1898.6 302.9,1899.5 302.3,1899.9 301.8,1900 301.2,1900.2 300.7,1900.5 300.1,1900.7 299.6,1900.5 299,1900.3 298.5,1900.3 297.9,1898.9 297.4,1899.1 296.8,1900.8 296.3,1901.8 295.7,1900.5 295.2,1899.3 294.6,1898.4 294.1,1899 293.5,1900.2 293,1901.6 292.4,1902.4 291.9,1899.6 291.3,1897.6 290.8,1896.1 290.2,1895.3 289.7,1895 289.1,1894.9 288.6,1895.1 288,1894.6 287.5,1894 286.9,1893.5 286.4,1893.7 285.8,1894 285.3,1894.7 284.7,1895.7 284.2,1896.6 283.6,1897.2 283.1,1897.5 282.5,1897.9 282,1895.3 281.4,1893.7 280.9,1893.1 280.3,1893.1 279.8,1893.7 279.2,1895.2 278.7,1897.7 278.1,1897.7 277.6,1896.9 277,1896.2 276.5,1895.8 275.9,1896.8 275.4,1898.3 274.8,1900.5 274.3,1899.9 273.7,1896.5 273.2,1895.3 272.6,1896.3 272.1,1896 271.5,1895.2 271,1894.4 270.4,1894.3 269.9,1894.5 269.3,1894.7 268.8,1895 268.2,1895.4 267.7,1895.9 267.1,1896.1 266.6,1896.4 266,1895.9 265.5,1895.3 264.9,1894.8 264.4,1894.1 263.8,1893.3 263.3,1893.2 262.7,1893.8 262.2,1893.3 261.6,1892.5 261.1,1892.8 260.5,1894.1 260,1893.8 259.4,1893.7 258.9,1893.5 258.3,1893.2 257.8,1892.9 257.2,1893.5 256.7,1895.1 256.1,1895.4 255.6,1895 255,1894.6 254.5,1894.5 253.9,1893.7 253.4,1893.4 252.8,1893.5 252.3,1894.1 251.7,1895.1 251.2,1896 250.6,1897.3 250.1,1895.9 249.5,1894.3 249,1893.5 248.4,1893.3 247.9,1893.1 247.3,1893.1 246.8,1893.3 246.2,1892.9 245.7,1892.4 245.1,1892.7 244.6,1893.7 244,1892.8 243.5,1892.3 242.9,1892.3 242.4,1892.8 241.8,1892.7 241.3,1892.6 240.7,1892.5 240.2,1892.1 239.6,1891.6 239.1,1891.1 238.5,1890.9 238,1890.9 237.4,1890.9 236.9,1890.9 236.3,1891 235.8,1891.3 235.2,1892.1 234.7,1893 234.1,1892.1 233.6,1892.2 233,1894 232.5,1896.7 231.9,1894.7 231.4,1893.9 230.8,1894.4 230.3,1895.1 229.7,1895.1 229.2,1895.2 228.6,1895.8 228.1,1895.6 227.5,1895.2 227,1895.2 226.4,1895.6 225.9,1895.7 225.3,1895.8 224.8,1895.9 224.2,1895.1 223.7,1894.3 223.1,1894.5 222.6,1895.9 222,1894.5 221.5,1894.4 220.9,1896 220.4,1898.1 219.8,1897.4 219.3,1896.3 218.7,1895.1 218.2,1894.6 217.6,1894.5 217.1,1894.6 216.5,1894.7Z" fill="#000"/>
<line x1="214.6" y1="1999" x2="737" y2="2000.4" stroke="#2a2a2a" stroke-width="1.7"/>
<path d="M216.5,2060.5 217.5,2061.1 218.5,2061.7 219.5,2062.4 220.5,2063 221.5,2063.6 222.5,2064.2 223.5,2064.8 224.5,2065.3 225.5,2065.9 226.5,2066.3 227.5,2065.8 228.5,2064.3 229.5,2062.6 230.5,2061 231.5,2059.3 232.5,2058.5 233.5,2058.2 234.5,2057.8 235.5,2057 236.5,2056.2 237.5,2055.3 238.5,2055.7 239.5,2056.9 240.5,2058 241.5,2058.9 242.5,2059.7 243.5,2060.2 244.5,2060.7 245.5,2061.2 246.5,2061.7 247.5,2061.8 248.5,2061.9 249.5,2061.6 250.5,2061.4 251.5,2061.2 252.5,2061.1 253.5,2060.5 254.5,2060.2 255.5,2060.4 256.5,2060.3 257.5,2060.1 258.5,2059.9 259.5,2060.2 260.5,2060.4 261.5,2060.6 262.5,2060.6 263.5,2060.4 264.5,2060.2 265.5,2060.3 266.5,2060.3 267.5,2060.4 268.5,2060.3 269.5,2060.3 270.5,2060.3 271.5,2060.5 272.5,2060.8 273.5,2061.4 274.5,2061.4 275.5,2061.5 276.5,2061.5 277.5,2061.9 278.5,2062.3 279.5,2062.7 280.5,2063 281.5,2063.1 282.5,2063.2 283.5,2063.3 284.5,2063.4 285.5,2063.5 286.5,2063.4 287.5,2063.3 288.5,2063.5 289.5,2064.1 290.5,2064.7 291.5,2065.2 292.5,2065.7 293.5,2066.2 294.5,2066.9 295.5,2067.2 296.5,2067.6 297.5,2068 298.5,2069.1 299.5,2070.2 300.5,2071.3 301.5,2072.1 302.5,2071.3 303.5,2068.9 304.5,2066.1 305.5,2063.4 306.5,2061.5 307.5,2061 308.5,2060.5 309.5,2060.1 310.5,2059.1 311.5,2058.9 312.5,2059.4 313.5,2060.2 314.5,2061 315.5,2061.8 316.5,2062.3 317.5,2062.4 318.5,2062.5 319.5,2062.5 320.5,2062.5 321.5,2062.5 322.5,2062.5 323.5,2062.5 324.5,2062.7 325.5,2063.2 326.5,2063.7 327.5,2064.1 328.5,2064.3 329.5,2064.5 330.5,2064.1 331.5,2063.5 332.5,2062.9 333.5,2062.3 334.5,2061.9 335.5,2061.5 336.5,2062.2 337.5,2063.6 338.5,2065 339.5,2066.2 340.5,2067.6 341.5,2069.1 342.5,2070.6 343.5,2072 344.5,2072.8 345.5,2071.5 346.5,2070 347.5,2068.5 348.5,2066.6 349.5,2064.7 350.5,2062.9 351.5,2061 352.5,2059.3 353.5,2058 354.5,2056.8 355.5,2056.4 356.5,2056.7 357.5,2057 358.5,2057.4 359.5,2058.4 360.5,2059.9 361.5,2061.4 362.5,2062.8 363.5,2063.6 364.5,2063.6 365.5,2063.6 366.5,2063.6 367.5,2064 368.5,2064.3 369.5,2064.6 370.5,2064.5 371.5,2064.2 372.5,2064 373.5,2063.6 374.5,2063.2 375.5,2062.8 376.5,2062.7 377.5,2063 378.5,2063.3 379.5,2063.9 380.5,2064.6 381.5,2065.2 382.5,2065.3 383.5,2065.3 384.5,2065.3 385.5,2065.5 386.5,2065.7 387.5,2065.9 388.5,2066 389.5,2066.1 390.5,2066.3 391.5,2066.9 392.5,2067.6 393.5,2068.2 394.5,2068.5 395.5,2068.8 396.5,2069.1 397.5,2069.2 398.5,2069.2 399.5,2069.2 400.5,2069.4 401.5,2069.5 402.5,2069.7 403.5,2070.2 404.5,2070.6 405.5,2070.9 406.5,2070.8 407.5,2070.7 408.5,2070.5 409.5,2070.8 410.5,2070.7 411.5,2070.4 412.5,2069.8 413.5,2068 414.5,2065.2 415.5,2063.8 416.5,2063.8 417.5,2063.8 418.5,2063.6 419.5,2063.4 420.5,2063.8 421.5,2064.5 422.5,2065.2 423.5,2065.9 424.5,2066.6 425.5,2066.5 426.5,2066.5 427.5,2065.8 428.5,2065 429.5,2064.3 430.5,2063.8 431.5,2063 432.5,2062.2 433.5,2061.3 434.5,2061.4 435.5,2062.6 436.5,2063.8 437.5,2064.9 438.5,2065 439.5,2064.5 440.5,2063.9 441.5,2063.4 442.5,2062.8 443.5,2062.3 444.5,2061.7 445.5,2061.2 446.5,2060.9 447.5,2060.9 448.5,2060.8 449.5,2060.6 450.5,2060.4 451.5,2060.1 452.5,2060.3 453.5,2061.2 454.5,2062.3 455.5,2063.5 456.5,2063.9 457.5,2063.6 458.5,2063.4 459.5,2063.1 460.5,2063.1 461.5,2063.1 462.5,2063.3 463.5,2063.5 464.5,2063.6 465.5,2063.8 466.5,2064.3 467.5,2064.8 468.5,2065.4 469.5,2065.6 470.5,2065.9 471.5,2066.1 472.5,2066.3 473.5,2066.5 474.5,2066.5 475.5,2066.6 476.5,2066.6 477.5,2066.7 478.5,2066.3 479.5,2065.8 480.5,2065.1 481.5,2064.7 482.5,2064.3 483.5,2064 484.5,2063.5 485.5,2063.1 486.5,2063 487.5,2063.1 488.5,2063.2 489.5,2063.2 490.5,2063.7 491.5,2064.2 492.5,2064.7 493.5,2065.1 494.5,2065.5 495.5,2065.9 496.5,2066.3 497.5,2066.7 498.5,2067 499.5,2067 500.5,2067 501.5,2067 502.5,2067.1 503.5,2066.3 504.5,2064.7 505.5,2063.1 506.5,2061.5 507.5,2060.7 508.5,2060.5 509.5,2060.4 510.5,2060.3 511.5,2060 512.5,2060 513.5,2060.5 514.5,2061.4 515.5,2062.3 516.5,2063.1 517.5,2063.8 518.5,2064.2 519.5,2064.3 520.5,2064.6 521.5,2064.9 522.5,2065.2 523.5,2065.5 524.5,2065.7 525.5,2065.9 526.5,2066.1 527.5,2066.4 528.5,2066.7 529.5,2066.8 530.5,2066.6 531.5,2066 532.5,2065.4 533.5,2064.8 534.5,2064.1 535.5,2063.5 536.5,2063.1 537.5,2062.9 538.5,2063.2 539.5,2063.5 540.5,2063.7 541.5,2063.6 542.5,2063.8 543.5,2064.2 544.5,2064.4 545.5,2064.6 546.5,2064.8 547.5,2065 548.5,2064.6 549.5,2063.6 550.5,2063.1 551.5,2062.6 552.5,2062.2 553.5,2061.4 554.5,2060.7 555.5,2059.9 556.5,2059.2 557.5,2058.4 558.5,2058.2 559.5,2058 560.5,2057.9 561.5,2057.7 562.5,2057.9 563.5,2058.4 564.5,2059.2 565.5,2060.1 566.5,2061.1 567.5,2062 568.5,2062.9 569.5,2063.8 570.5,2064.1 571.5,2064.1 572.5,2064.1 573.5,2064.1 574.5,2064 575.5,2064 576.5,2063.7 577.5,2063.1 578.5,2062.5 579.5,2061.8 580.5,2061.3 581.5,2060.8 582.5,2060.4 583.5,2059.9 584.5,2059.4 585.5,2058.8 586.5,2058.7 587.5,2058.6 588.5,2058.3 589.5,2057.5 590.5,2058 591.5,2059.7 592.5,2061.4 593.5,2063.1 594.5,2063 595.5,2061.1 596.5,2059.2 597.5,2058 598.5,2057.4 599.5,2056.8 600.5,2056.2 601.5,2056.2 602.5,2056.2 603.5,2056.2 604.5,2055.9 605.5,2055.8 606.5,2055.7 607.5,2055.3 608.5,2054.9 609.5,2054.4 610.5,2054.8 611.5,2055.4 612.5,2056.1 613.5,2056.8 614.5,2057.5 615.5,2058.2 616.5,2058.7 617.5,2059.4 618.5,2060.1 619.5,2060.9 620.5,2061.6 621.5,2062.4 622.5,2062.6 623.5,2062 624.5,2061.3 625.5,2060.5 626.5,2059.4 627.5,2058.1 628.5,2056.9 629.5,2055.7 630.5,2055.5 631.5,2056.3 632.5,2057 633.5,2057.7 634.5,2058.3 635.5,2058.9 636.5,2059.2 637.5,2059.6 638.5,2060 639.5,2060.4 640.5,2060.5 641.5,2060.6 642.5,2060.2 643.5,2060 644.5,2059.7 645.5,2059.4 646.5,2059.2 647.5,2059 648.5,2059.1 649.5,2059 650.5,2059 651.5,2059 652.5,2058.8 653.5,2058.5 654.5,2058.8 655.5,2059.8 656.5,2060.9 657.5,2061.9 658.5,2063 659.5,2064 660.5,2064.3 661.5,2063.4 662.5,2062.5 663.5,2061.7 664.5,2061.1 665.5,2060.7 666.5,2060.4 667.5,2060.2 668.5,2059.9 669.5,2059.6 670.5,2060 671.5,2060.7 672.5,2061.5 673.5,2062 674.5,2062.5 675.5,2063 676.5,2063.5 677.5,2064.2 678.5,2064.9 679.5,2065.9 680.5,2065.1 681.5,2062.6 682.5,2060.1 683.5,2057.6 684.5,2056 685.5,2055.3 686.5,2054.6 687.5,2053.9 688.5,2053.3 689.5,2052.7 690.5,2052.3 691.5,2052.1 692.5,2051.8 693.5,2051.5 694.5,2051.6 695.5,2051.6 696.5,2052.4 697.5,2053.7 698.5,2054.9 699.5,2056.2 700.5,2057.4 701.5,2058.7 702.5,2060 703.5,2061.2 704.5,2061.7 705.5,2061.4 706.5,2061.3 707.5,2061.2 708.5,2061.1 709.5,2061.3 710.5,2061.9 711.5,2062.7 712.5,2062.9 713.5,2063 714.5,2062 715.5,2060.2 716.5,2058.4 717.5,2056.6 718.5,2056.4 719.5,2057.7 720.5,2059 721.5,2059.8 722.5,2061.3 723.5,2063.5 724.5,2066.2 725.5,2068.8 726.5,2071.1 727.5,2072.7 728.5,2074.2 729.5,2071.9 730.5,2066.1 731.5,2061.5 732.5,2058.2 733.5,2054.6" fill="none" stroke="#222" stroke-width="1.6" stroke-linejoin="round" stroke-linecap="round"/>
<rect x="210.2" y="2193.7" width="13.4" height="13" rx="2" fill="#fff" stroke="#8c8c8c" stroke-width="1.4"/>
<line x1="224.2" y1="2199.6" x2="737" y2="2200.8" stroke="#2a2a2a" stroke-width="1.9"/>
<path d="M216.5,2236.6 217.3,2230.2 218.1,2228.5 218.9,2227.2 219.7,2226.9 220.5,2228.8 221.3,2229.4 222.1,2225.2 222.9,2226.3 223.7,2225.7 224.5,2224.6 225.3,2224.9 226.1,2225 226.9,2225 227.7,2228.3 228.5,2227.4 229.3,2229.3 230.1,2229.5 230.9,2227.6 231.7,2231.2 232.5,2232.3 233.3,2234.3 234.1,2233.3 234.9,2234 235.7,2239.4 236.5,2239.6 237.3,2240.8 238.1,2238.8 238.9,2238.6 239.7,2241.9 240.5,2239.7 241.3,2238.4 242.1,2236.8 242.9,2236.1 243.7,2236 244.5,2236.5 245.3,2236.5 246.1,2232.2 246.9,2236 247.7,2230.9 248.5,2232.9 249.3,2235.7 250.1,2240 250.9,2240.7 251.7,2240.7 252.5,2243.7 253.3,2240.8 254.1,2240.6 254.9,2238.9 255.7,2237.4 256.5,2238.7 257.3,2239.7 258.1,2238.1 258.9,2238.7 259.7,2243.9 260.5,2240.3 261.3,2241.2 262.1,2245.3 262.9,2242.7 263.7,2242.1 264.5,2243 265.3,2244.7 266.1,2242.5 266.9,2241.6 267.7,2241.4 268.5,2241.3 269.3,2241.2 270.1,2240.8 270.9,2241.3 271.7,2242.5 272.5,2244.1 273.3,2243.5 274.1,2247.2 274.9,2245 275.7,2244.7 276.5,2243.6 277.3,2244.5 278.1,2243.9 278.9,2241.3 279.7,2240.9 280.5,2241.8 281.3,2237.6 282.1,2235.8 282.9,2239.3 283.7,2234.7 284.5,2234.4 285.3,2234.9 286.1,2233.7 286.9,2232.2 287.7,2229.2 288.5,2227 289.3,2227.8 290.1,2226.8 290.9,2227.8 291.7,2228.3 292.5,2225 293.3,2225.8 294.1,2228.4 294.9,2232.3 295.7,2229.9 296.5,2230.7 297.3,2231.6 298.1,2229.4 298.9,2227.8 299.7,2227.1 300.5,2225.2 301.3,2226 302.1,2227 302.9,2228.2 303.7,2230.3 304.5,2233.5 305.3,2234.9 306.1,2235.1 306.9,2235 307.7,2236.9 308.5,2240.2 309.3,2239.9 310.1,2239.7 310.9,2239 311.7,2241.8 312.5,2242.1 313.3,2242.9 314.1,2239.7 314.9,2240 315.7,2240.5 316.5,2239.9 317.3,2240 318.1,2238.1 318.9,2234.9 319.7,2237.3 320.5,2234 321.3,2236.8 322.1,2233.7 322.9,2233.1 323.7,2232.2 324.5,2235.3 325.3,2233.6 326.1,2231.9 326.9,2232.2 327.7,2231.2 328.5,2232.6 329.3,2231.6 330.1,2232.2 330.9,2232.6 331.7,2230.6 332.5,2228 333.3,2227.8 334.1,2227.1 334.9,2227.7 335.7,2224 336.5,2224.7 337.3,2226.8 338.1,2225.1 338.9,2226.4 339.7,2227.2 340.5,2229.5 341.3,2224.9 342.1,2226.3 342.9,2225.7 343.7,2220.9 344.5,2223.3 345.3,2222.3 346.1,2222.3 346.9,2220.9 347.7,2223.9 348.5,2222.5 349.3,2227.5 350.1,2229.2 350.9,2227.6 351.7,2230.7 352.5,2230.5 353.3,2235.3 354.1,2236.3 354.9,2234.8 355.7,2235.6 356.5,2235.7 357.3,2239.4 358.1,2239.8 358.9,2237.1 359.7,2236.6 360.5,2235 361.3,2236 362.1,2236.4 362.9,2236.9 363.7,2235.9 364.5,2239.5 365.3,2237.6 366.1,2242.2 366.9,2241.5 367.7,2239.3 368.5,2240 369.3,2238.7 370.1,2239.2 370.9,2240 371.7,2239.1 372.5,2243.5 373.3,2245.2 374.1,2245 374.9,2240.8 375.7,2243.7 376.5,2240.9 377.3,2241.5 378.1,2239.3 378.9,2240.7 379.7,2240.3 380.5,2243 381.3,2242.6 382.1,2240.9 382.9,2239.9 383.7,2241.1 384.5,2241.9 385.3,2241.8 386.1,2239.2 386.9,2238.8 387.7,2238.9 388.5,2242.5 389.3,2238.5 390.1,2238.2 390.9,2240.6 391.7,2241.5 392.5,2242.2 393.3,2242.2 394.1,2244.1 394.9,2242 395.7,2243 396.5,2240 397.3,2243.3 398.1,2240 398.9,2241 399.7,2239.8 400.5,2236 401.3,2237.2 402.1,2235.4 402.9,2234.2 403.7,2232.8 404.5,2230.5 405.3,2232.7 406.1,2230.4 406.9,2231.1 407.7,2226 408.5,2229.8 409.3,2229.3 410.1,2226.6 410.9,2225.7 411.7,2227.9 412.5,2225.5 413.3,2229.2 414.1,2228.8 414.9,2231.3 415.7,2232.1 416.5,2233.7 417.3,2230.1 418.1,2233.9 418.9,2233.7 419.7,2231.6 420.5,2235.6 421.3,2231.4 422.1,2232.5 422.9,2230.3 423.7,2231.7 424.5,2230 425.3,2231.7 426.1,2233.6 426.9,2234.5 427.7,2235.4 428.5,2234.6 429.3,2238.9 430.1,2238.6 430.9,2235.8 431.7,2236.9 432.5,2239.2 433.3,2239.5 434.1,2241.4 434.9,2238.4 435.7,2241 436.5,2240.5 437.3,2238.7 438.1,2236.8 438.9,2239.2 439.7,2249.7 440.5,2245.5 441.3,2238.6 442.1,2240.6 442.9,2240.8 443.7,2239.4 444.5,2238.3 445.3,2242.8 446.1,2239.5 446.9,2239.6 447.7,2242.5 448.5,2243.2 449.3,2243.8 450.1,2240.1 450.9,2244.7 451.7,2244.9 452.5,2242.3 453.3,2243.4 454.1,2244.2 454.9,2243.8 455.7,2240.8 456.5,2243.1 457.3,2243.7 458.1,2242.8 458.9,2240.7 459.7,2240.8 460.5,2240.2 461.3,2244.2 462.1,2241.9 462.9,2240.9 463.7,2241.2 464.5,2242.6 465.3,2240.7 466.1,2242.7 466.9,2242.9 467.7,2239.1 468.5,2242.9 469.3,2242.9 470.1,2240.8 470.9,2240.5 471.7,2242.5 472.5,2238.4 473.3,2238.4 474.1,2240.6 474.9,2240.1 475.7,2238.7 476.5,2238 477.3,2240.2 478.1,2241.6 478.9,2241.5 479.7,2240.8 480.5,2237.9 481.3,2240.6 482.1,2237.5 482.9,2240.4 483.7,2239.9 484.5,2236.7 485.3,2239.6 486.1,2239.7 486.9,2240.3 487.7,2237.1 488.5,2240.5 489.3,2237.4 490.1,2238.7 490.9,2238.5 491.7,2236.2 492.5,2236.7 493.3,2236.7 494.1,2237.3 494.9,2237.2 495.7,2238.5 496.5,2240.2 497.3,2239.1 498.1,2238.3 498.9,2238.3 499.7,2242.1 500.5,2238.6 501.3,2241.7 502.1,2240.3 502.9,2241.9 503.7,2240.4 504.5,2240 505.3,2240.4 506.1,2243.6 506.9,2240.4 507.7,2241.3 508.5,2241.3 509.3,2243.3 510.1,2242.2 510.9,2245.5 511.7,2242.1 512.5,2245 513.3,2243.2 514.1,2245.5 514.9,2246.6 515.7,2244.3 516.5,2244.2 517.3,2246 518.1,2246.5 518.9,2245.2 519.7,2246.8 520.5,2242.6 521.3,2245.7 522.1,2242 522.9,2243.3 523.7,2242.2 524.5,2241.9 525.3,2244 526.1,2243.9 526.9,2242.6 527.7,2240 528.5,2242.4 529.3,2242.5 530.1,2237.6 530.9,2237.6 531.7,2237.2 532.5,2231.6 533.3,2230.1 534.1,2228 534.9,2226.1 535.7,2229 536.5,2226.4 537.3,2225.7 538.1,2225.2 538.9,2222.5 539.7,2221.8 540.5,2227 541.3,2224.9 542.1,2226.9 542.9,2225.2 543.7,2230.7 544.5,2230.6 545.3,2229.6 546.1,2226.9 546.9,2228.3 547.7,2227.8 548.5,2226 549.3,2224.5 550.1,2225.3 550.9,2224 551.7,2223.8 552.5,2223.7 553.3,2223.7 554.1,2226.7 554.9,2229.3 555.7,2232.5 556.5,2232.1 557.3,2234.8 558.1,2233.3 558.9,2234.3 559.7,2238 560.5,2236.5 561.3,2235.7 562.1,2233.3 562.9,2232.9 563.7,2231 564.5,2235 565.3,2233.7 566.1,2234.9 566.9,2236.3 567.7,2235.6 568.5,2237 569.3,2238.1 570.1,2236.7 570.9,2233.5 571.7,2234.6 572.5,2232.7 573.3,2231.2 574.1,2230.3 574.9,2228.6 575.7,2226.5 576.5,2226.5 577.3,2223.8 578.1,2221.6 578.9,2222.4 579.7,2223.2 580.5,2222.6 581.3,2223 582.1,2222.8 582.9,2223.9 583.7,2223.1 584.5,2225.1 585.3,2222.6 586.1,2222.6 586.9,2225.3 587.7,2226.9 588.5,2227 589.3,2224.4 590.1,2226.1 590.9,2225.6 591.7,2226.7 592.5,2224 593.3,2228.8 594.1,2228.6 594.9,2225.5 595.7,2227.6 596.5,2225.8 597.3,2228.5 598.1,2227.4 598.9,2229.9 599.7,2232.3 600.5,2234.2 601.3,2235.6 602.1,2236.9 602.9,2234.1 603.7,2236.8 604.5,2236.1 605.3,2239.2 606.1,2237.5 606.9,2237.7 607.7,2241.3 608.5,2240.6 609.3,2236.7 610.1,2239 610.9,2239.4 611.7,2238.6 612.5,2233.2 613.3,2233.7 614.1,2234.6 614.9,2229.7 615.7,2231.7 616.5,2229.1 617.3,2228.2 618.1,2228.5 618.9,2227.4 619.7,2225.9 620.5,2226.1 621.3,2228.4 622.1,2228.2 622.9,2228.3 623.7,2227.5 624.5,2227.8 625.3,2227.5 626.1,2228 626.9,2227.3 627.7,2229.3 628.5,2229.2 629.3,2228.3 630.1,2232.9 630.9,2231 631.7,2236.4 632.5,2235.8 633.3,2238.2 634.1,2235.2 634.9,2236.2 635.7,2236 636.5,2238.8 637.3,2235.8 638.1,2236.5 638.9,2236.5 639.7,2236.6 640.5,2234.8 641.3,2239.2 642.1,2237.3 642.9,2239.3 643.7,2239.9 644.5,2240.9 645.3,2239.3 646.1,2242 646.9,2239.1 647.7,2240.5 648.5,2243.4 649.3,2243.5 650.1,2241.6 650.9,2242 651.7,2243.5 652.5,2244.6 653.3,2242.5 654.1,2240.3 654.9,2241.4 655.7,2242.8 656.5,2242.1 657.3,2241.1 658.1,2239.7 658.9,2242.5 659.7,2239.6 660.5,2238.6 661.3,2238.6 662.1,2238 662.9,2238.3 663.7,2237 664.5,2235.7 665.3,2235.3 666.1,2233.2 666.9,2233 667.7,2231.6 668.5,2231.3 669.3,2231.6 670.1,2229.3 670.9,2231.5 671.7,2229.7 672.5,2229.7 673.3,2233.5 674.1,2231.6 674.9,2233.4 675.7,2233.2 676.5,2232.8 677.3,2230.7 678.1,2233.1 678.9,2229 679.7,2227.7 680.5,2226.1 681.3,2226.2 682.1,2227.3 682.9,2226.6 683.7,2228.4 684.5,2229.4 685.3,2228.3 686.1,2228.2 686.9,2230.7 687.7,2231.1 688.5,2233.1 689.3,2237.2 690.1,2239.7 690.9,2239.2 691.7,2239.3 692.5,2243.6 693.3,2242.1 694.1,2237.5 694.9,2239.6 695.7,2237.8 696.5,2233.6 697.3,2232.4 698.1,2231.3 698.9,2233.5 699.7,2231.9 700.5,2231.5 701.3,2232 702.1,2229.5 702.9,2233.2 703.7,2234.3 704.5,2233.8 705.3,2233.8 706.1,2230.9 706.9,2233 707.7,2230.4 708.5,2232.2 709.3,2227.4 710.1,2230.9 710.9,2231.3 711.7,2227.6 712.5,2229.8 713.3,2227 714.1,2227.5 714.9,2229.2 715.7,2229.2 716.5,2228 717.3,2225.3 718.1,2225.8 718.9,2226.5 719.7,2225.2 720.5,2221.3 721.3,2224 722.1,2222.7 722.9,2220.4 723.7,2221.1 724.5,2221.9 725.3,2220.1 726.1,2219 726.9,2219.5 727.7,2218.1 728.5,2216 729.3,2215.7 730.1,2216.2 730.9,2216 731.7,2215.1 732.5,2213.8 733.3,2215.2 734.1,2214.2 734.9,2214.6 735.7,2211.2" fill="none" stroke="#0c0c0c" stroke-width="2.3" stroke-linejoin="miter" stroke-linecap="round"/>
<line x1="440.1" y1="2236" x2="440.1" y2="2257.5" stroke="#111" stroke-width="1.7"/>
<text transform="translate(345.8,2340.5) rotate(-90)" font-size="15" fill="#7a7a7a" style="font-weight:normal" textLength="54" lengthAdjust="spacingAndGlyphs">Fenil 5mcg/kg</text>
<line x1="347.5" y1="2330" x2="347.5" y2="2360" stroke="#8a8a8a" stroke-width="1" stroke-dasharray="2 2"/>
<path d="M339.1,2312.3 L350.3,2323.5 L345.2,2323.5 L345.2,2359 L333.5,2359 L333.5,2323.5 L327.3,2323.5Z" fill="#000"/>
<text x="842" y="416.6" font-size="46.2" textLength="440" lengthAdjust="spacingAndGlyphs">PHENYLBIGUANIDE</text>
<line x1="933.3" y1="541.2" x2="1290.5" y2="541.2" stroke="#000" stroke-width="3" stroke-dasharray="3 8"/>
<path d="M923.8,539.6 V905.6 H1290.5" fill="none" stroke="#000" stroke-width="3.6" stroke-linejoin="miter"/>
<line x1="908.3" y1="541.2" x2="923.8" y2="541.2" stroke="#000" stroke-width="3.9"/>
<text x="903.5" y="550.7" font-size="28.5" text-anchor="end">0</text>
<line x1="908.3" y1="632.3" x2="923.8" y2="632.3" stroke="#000" stroke-width="3.9"/>
<text x="903.5" y="642.4" font-size="28.5" text-anchor="end">-20</text>
<line x1="908.3" y1="723.4" x2="923.8" y2="723.4" stroke="#000" stroke-width="3.9"/>
<text x="903.5" y="734" font-size="28.5" text-anchor="end">-40</text>
<line x1="908.3" y1="814.5" x2="923.8" y2="814.5" stroke="#000" stroke-width="3.9"/>
<text x="903.5" y="825.7" font-size="28.5" text-anchor="end">-60</text>
<line x1="908.3" y1="905.6" x2="923.8" y2="905.6" stroke="#000" stroke-width="3.9"/>
<text x="903.5" y="917.3" font-size="28.5" text-anchor="end">-80</text>
<line x1="979" y1="905.6" x2="979" y2="923.1" stroke="#000" stroke-width="3.9"/>
<text transform="translate(986,946.6) rotate(-45)" font-size="28" text-anchor="end">Control</text>
<line x1="1063" y1="905.6" x2="1063" y2="923.1" stroke="#000" stroke-width="3.9"/>
<text transform="translate(1070,946.6) rotate(-45)" font-size="28" text-anchor="end">VitD 15 IU/day</text>
<line x1="1147" y1="905.6" x2="1147" y2="923.1" stroke="#000" stroke-width="3.9"/>
<text transform="translate(1154,946.6) rotate(-45)" font-size="28" text-anchor="end">VitD 250 IU/day</text>
<line x1="1231.5" y1="905.6" x2="1231.5" y2="923.1" stroke="#000" stroke-width="3.9"/>
<text transform="translate(1238.5,946.6) rotate(-45)" font-size="28" text-anchor="end">VitD 3750 IU/day</text>
<text transform="translate(843,825.4) rotate(-90)" font-size="30.5" textLength="206.6" lengthAdjust="spacingAndGlyphs"><tspan font-family="Liberation Serif, serif" font-weight="normal">Δ</tspan>MAP (mmHg)</text>
<path d="M965.2,756.4 H993.6 M965.2,809.6 H993.6 M979.4,756.4 V809.6" fill="none" stroke="#2a2a2a" stroke-width="1.9"/>
<line x1="951.6" y1="782.9" x2="1007.3" y2="782.9" stroke="#000" stroke-width="4"/>
<circle cx="979.4" cy="697.3" r="7.3" fill="#fff" stroke="#000" stroke-width="2.2"/>
<path d="M972.1,697.3 A7.3,7.3 0 0 1 986.7,697.3 Z" fill="#000"/>
<circle cx="979.4" cy="747.4" r="7.3" fill="#fff" stroke="#000" stroke-width="2.2"/>
<path d="M972.1,747.4 A7.3,7.3 0 0 1 986.7,747.4 Z" fill="#000"/>
<circle cx="958.5" cy="811.8" r="7.3" fill="#fff" stroke="#000" stroke-width="2.2"/>
<path d="M951.2,811.8 A7.3,7.3 0 0 1 965.8,811.8 Z" fill="#000"/>
<circle cx="958.5" cy="834.4" r="7.3" fill="#fff" stroke="#000" stroke-width="2.2"/>
<path d="M951.2,834.4 A7.3,7.3 0 0 1 965.8,834.4 Z" fill="#000"/>
<circle cx="1000" cy="825.3" r="7.3" fill="#fff" stroke="#000" stroke-width="2.2"/>
<path d="M992.7,825.3 A7.3,7.3 0 0 1 1007.3,825.3 Z" fill="#000"/>
<path d="M1049.6,733.7 H1078 M1049.6,801.4 H1078 M1063.8,733.7 V801.4" fill="none" stroke="#2a2a2a" stroke-width="1.9"/>
<line x1="1035.8" y1="766.5" x2="1086" y2="766.5" stroke="#000" stroke-width="4"/>
<circle cx="1063.6" cy="651.3" r="8" fill="#000"/>
<circle cx="1043" cy="775" r="8" fill="#000"/>
<circle cx="1084.5" cy="765.5" r="8" fill="#000"/>
<circle cx="1084.5" cy="784.3" r="8" fill="#000"/>
<circle cx="1063.6" cy="862" r="8" fill="#000"/>
<circle cx="1126.9" cy="541.3" r="8" fill="#000"/>
<circle cx="1140.6" cy="541.3" r="8" fill="#000"/>
<circle cx="1154.4" cy="541.3" r="8" fill="#000"/>
<circle cx="1168.2" cy="541.3" r="8" fill="#000"/>
<circle cx="1211.7" cy="541.3" r="8" fill="#000"/>
<circle cx="1221.9" cy="541.3" r="8" fill="#000"/>
<circle cx="1232.1" cy="541.3" r="8" fill="#000"/>
<circle cx="1242.6" cy="541.3" r="8" fill="#000"/>
<circle cx="1253" cy="541.3" r="8" fill="#000"/>
<line x1="927.3" y1="1221.7" x2="1285" y2="1221.7" stroke="#000" stroke-width="3" stroke-dasharray="3 8"/>
<path d="M917.8,1220.1 V1587 H1285" fill="none" stroke="#000" stroke-width="3.6" stroke-linejoin="miter"/>
<line x1="902.3" y1="1221.7" x2="917.8" y2="1221.7" stroke="#000" stroke-width="3.9"/>
<text x="898.4" y="1231" font-size="28.5" text-anchor="end">0</text>
<line x1="902.3" y1="1313" x2="917.8" y2="1313" stroke="#000" stroke-width="3.9"/>
<text x="898.4" y="1322.7" font-size="28.5" text-anchor="end">-100</text>
<line x1="902.3" y1="1404.3" x2="917.8" y2="1404.3" stroke="#000" stroke-width="3.9"/>
<text x="898.4" y="1414.4" font-size="28.5" text-anchor="end">-200</text>
<line x1="902.3" y1="1495.7" x2="917.8" y2="1495.7" stroke="#000" stroke-width="3.9"/>
<text x="898.4" y="1506.2" font-size="28.5" text-anchor="end">-300</text>
<line x1="902.3" y1="1587" x2="917.8" y2="1587" stroke="#000" stroke-width="3.9"/>
<text x="898.4" y="1597.9" font-size="28.5" text-anchor="end">-400</text>
<line x1="972.8" y1="1587" x2="972.8" y2="1604.5" stroke="#000" stroke-width="3.9"/>
<text transform="translate(979.8,1626.9) rotate(-45)" font-size="28" text-anchor="end">Control</text>
<line x1="1057.3" y1="1587" x2="1057.3" y2="1604.5" stroke="#000" stroke-width="3.9"/>
<text transform="translate(1064.3,1626.9) rotate(-45)" font-size="28" text-anchor="end">VitD 15 IU/day</text>
<line x1="1141.4" y1="1587" x2="1141.4" y2="1604.5" stroke="#000" stroke-width="3.9"/>
<text transform="translate(1148.4,1626.9) rotate(-45)" font-size="28" text-anchor="end">VitD 250 IU/day</text>
<line x1="1225.7" y1="1587" x2="1225.7" y2="1604.5" stroke="#000" stroke-width="3.9"/>
<text transform="translate(1232.7,1626.9) rotate(-45)" font-size="28" text-anchor="end">VitD 3750 IU/day</text>
<text transform="translate(822.4,1482.2) rotate(-90)" font-size="30.5" textLength="157.6" lengthAdjust="spacingAndGlyphs"><tspan font-family="Liberation Serif, serif" font-weight="normal">Δ</tspan>HR (bpm)</text>
<path d="M959.8,1389.2 H988.2 M959.8,1432.9 H988.2 M974,1389.2 V1432.9" fill="none" stroke="#2a2a2a" stroke-width="1.9"/>
<line x1="946.2" y1="1411" x2="1002" y2="1411" stroke="#000" stroke-width="4"/>
<circle cx="953.1" cy="1366" r="7.3" fill="#fff" stroke="#000" stroke-width="2.2"/>
<path d="M945.8,1366 A7.3,7.3 0 0 1 960.4,1366 Z" fill="#000"/>
<circle cx="994.7" cy="1373.8" r="7.3" fill="#fff" stroke="#000" stroke-width="2.2"/>
<path d="M987.4,1373.8 A7.3,7.3 0 0 1 1002,1373.8 Z" fill="#000"/>
<circle cx="973.6" cy="1388.5" r="7.3" fill="#fff" stroke="#000" stroke-width="2.2"/>
<path d="M966.3,1388.5 A7.3,7.3 0 0 1 980.9,1388.5 Z" fill="#000"/>
<circle cx="973.6" cy="1446.4" r="7.3" fill="#fff" stroke="#000" stroke-width="2.2"/>
<path d="M966.3,1446.4 A7.3,7.3 0 0 1 980.9,1446.4 Z" fill="#000"/>
<circle cx="973.6" cy="1480.2" r="7.3" fill="#fff" stroke="#000" stroke-width="2.2"/>
<path d="M966.3,1480.2 A7.3,7.3 0 0 1 980.9,1480.2 Z" fill="#000"/>
<text x="976.7" y="1407.4" font-size="47" text-anchor="middle">*</text>
<path d="M1044,1479.9 H1072.4 M1044,1518.8 H1072.4 M1058.2,1479.9 V1518.8" fill="none" stroke="#2a2a2a" stroke-width="1.9"/>
<line x1="1030.5" y1="1499" x2="1086" y2="1499" stroke="#000" stroke-width="4"/>
<circle cx="1037.3" cy="1457.6" r="8" fill="#000"/>
<circle cx="1079" cy="1458.7" r="8" fill="#000"/>
<circle cx="1058.1" cy="1492.8" r="8" fill="#000"/>
<circle cx="1058.1" cy="1535.7" r="8" fill="#000"/>
<circle cx="1058.1" cy="1550.4" r="8" fill="#000"/>
<text x="1057.8" y="1385.9" font-size="47" text-anchor="middle">*</text>
<circle cx="1121.4" cy="1221.8" r="8" fill="#000"/>
<circle cx="1135.1" cy="1221.8" r="8" fill="#000"/>
<circle cx="1148.9" cy="1221.8" r="8" fill="#000"/>
<circle cx="1162.7" cy="1221.8" r="8" fill="#000"/>
<circle cx="1206.2" cy="1221.8" r="8" fill="#000"/>
<circle cx="1216.4" cy="1221.8" r="8" fill="#000"/>
<circle cx="1226.6" cy="1221.8" r="8" fill="#000"/>
<circle cx="1237.1" cy="1221.8" r="8" fill="#000"/>
<circle cx="1247.5" cy="1221.8" r="8" fill="#000"/>
</svg></body></html>
